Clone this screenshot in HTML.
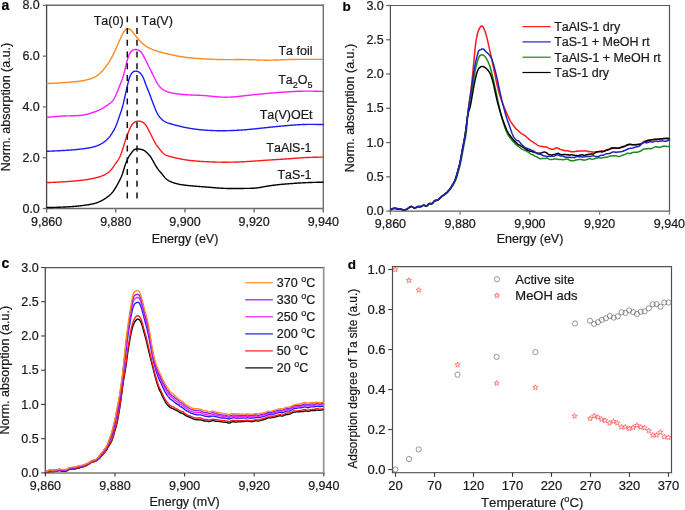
<!DOCTYPE html>
<html><head><meta charset="utf-8"><style>
html,body{margin:0;padding:0;background:#fff;}
svg{display:block;font-family:"Liberation Sans", sans-serif;will-change:transform;}
text{stroke:#1a1a1a;stroke-width:0.22px;font-kerning:none;}
</style></head><body>
<svg width="685" height="510" viewBox="0 0 685 510">
<rect width="685" height="510" fill="#fff"/>
<line x1="46.6" y1="5.3" x2="323.3" y2="5.3" stroke="#6a6a6a" stroke-width="1.4" stroke-linecap="square"/>
<line x1="46.6" y1="208.5" x2="323.3" y2="208.5" stroke="#6a6a6a" stroke-width="1.4" stroke-linecap="square"/>
<line x1="323.3" y1="5.3" x2="323.3" y2="208.5" stroke="#707070" stroke-width="1.4" stroke-linecap="square"/>
<line x1="46.6" y1="5.3" x2="46.6" y2="208.5" stroke="#444" stroke-width="1.3" stroke-linecap="square"/>
<line x1="42.8" y1="208.5" x2="46.6" y2="208.5" stroke="#707070" stroke-width="1.3"/>
<text x="39.8" y="212.5" font-size="12.5" text-anchor="end" font-weight="normal" fill="#1a1a1a" >0.0</text>
<line x1="42.8" y1="157.72" x2="46.6" y2="157.72" stroke="#707070" stroke-width="1.3"/>
<text x="39.8" y="161.72" font-size="12.5" text-anchor="end" font-weight="normal" fill="#1a1a1a" >2.0</text>
<line x1="42.8" y1="106.94" x2="46.6" y2="106.94" stroke="#707070" stroke-width="1.3"/>
<text x="39.8" y="110.94" font-size="12.5" text-anchor="end" font-weight="normal" fill="#1a1a1a" >4.0</text>
<line x1="42.8" y1="56.16" x2="46.6" y2="56.16" stroke="#707070" stroke-width="1.3"/>
<text x="39.8" y="60.16" font-size="12.5" text-anchor="end" font-weight="normal" fill="#1a1a1a" >6.0</text>
<line x1="42.8" y1="5.3799999999999955" x2="46.6" y2="5.3799999999999955" stroke="#707070" stroke-width="1.3"/>
<text x="39.8" y="9.379999999999995" font-size="12.5" text-anchor="end" font-weight="normal" fill="#1a1a1a" >8.0</text>
<line x1="46.6" y1="208.5" x2="46.6" y2="212.6" stroke="#757575" stroke-width="1.5"/>
<text x="46.6" y="225.8" font-size="12.5" text-anchor="middle" font-weight="normal" fill="#1a1a1a" >9,860</text>
<line x1="115.775" y1="208.5" x2="115.775" y2="212.6" stroke="#757575" stroke-width="1.5"/>
<text x="115.775" y="225.8" font-size="12.5" text-anchor="middle" font-weight="normal" fill="#1a1a1a" >9,880</text>
<line x1="184.95" y1="208.5" x2="184.95" y2="212.6" stroke="#757575" stroke-width="1.5"/>
<text x="184.95" y="225.8" font-size="12.5" text-anchor="middle" font-weight="normal" fill="#1a1a1a" >9,900</text>
<line x1="254.12499999999997" y1="208.5" x2="254.12499999999997" y2="212.6" stroke="#757575" stroke-width="1.5"/>
<text x="254.12499999999997" y="225.8" font-size="12.5" text-anchor="middle" font-weight="normal" fill="#1a1a1a" >9,920</text>
<line x1="323.3" y1="208.5" x2="323.3" y2="212.6" stroke="#757575" stroke-width="1.5"/>
<text x="323.3" y="225.8" font-size="12.5" text-anchor="middle" font-weight="normal" fill="#1a1a1a" >9,940</text>
<text x="185" y="243" font-size="12.5" text-anchor="middle" font-weight="normal" fill="#1a1a1a" >Energy (eV)</text>
<text transform="translate(9.8,107) rotate(-90)" font-size="12.5" text-anchor="middle" fill="#1a1a1a">Norm. absorption (a.u.)</text>
<text x="1.6" y="10.0" font-size="14" text-anchor="start" font-weight="bold" fill="#000" >a</text>
<path d="M46.50 83.60L47.00 83.57L47.50 83.55L48.00 83.52L48.50 83.49L49.00 83.47L49.50 83.44L50.00 83.41L50.50 83.38L51.00 83.36L51.50 83.33L52.00 83.30L52.50 83.27L53.00 83.25L53.50 83.22L54.00 83.19L54.50 83.16L55.00 83.13L55.50 83.11L56.00 83.08L56.50 83.05L57.00 83.02L57.50 82.99L58.00 82.96L58.50 82.93L59.00 82.90L59.50 82.87L60.00 82.84L60.50 82.81L61.00 82.78L61.50 82.74L62.00 82.71L62.50 82.68L63.00 82.65L63.50 82.61L64.00 82.58L64.50 82.55L65.00 82.51L65.50 82.48L66.00 82.44L66.50 82.41L67.00 82.37L67.50 82.33L68.00 82.30L68.50 82.26L69.00 82.22L69.50 82.18L70.00 82.14L70.50 82.10L71.00 82.06L71.50 82.02L72.00 81.98L72.50 81.93L73.00 81.89L73.50 81.84L74.00 81.79L74.50 81.74L75.00 81.69L75.50 81.64L76.00 81.59L76.50 81.53L77.00 81.48L77.50 81.42L78.00 81.36L78.50 81.30L79.00 81.23L79.50 81.17L80.00 81.10L80.50 81.03L81.00 80.96L81.50 80.89L82.00 80.81L82.50 80.73L83.00 80.65L83.50 80.56L84.00 80.47L84.50 80.37L85.00 80.27L85.50 80.17L86.00 80.06L86.50 79.94L87.00 79.82L87.50 79.69L88.00 79.56L88.50 79.42L89.00 79.27L89.50 79.12L90.00 78.96L90.50 78.79L91.00 78.61L91.50 78.42L92.00 78.23L92.50 78.03L93.00 77.81L93.50 77.59L94.00 77.36L94.50 77.11L95.00 76.85L95.50 76.58L96.00 76.29L96.50 75.99L97.00 75.67L97.50 75.33L98.00 74.97L98.50 74.59L99.00 74.18L99.50 73.76L100.00 73.31L100.50 72.84L101.00 72.35L101.50 71.84L102.00 71.31L102.50 70.76L103.00 70.19L103.50 69.61L104.00 69.00L104.50 68.38L105.00 67.75L105.50 67.10L106.00 66.44L106.50 65.76L107.00 65.06L107.50 64.34L108.00 63.61L108.50 62.85L109.00 62.07L109.50 61.27L110.00 60.43L110.50 59.58L111.00 58.69L111.50 57.77L112.00 56.83L112.50 55.86L113.00 54.87L113.50 53.86L114.00 52.83L114.50 51.78L115.00 50.72L115.50 49.64L116.00 48.54L116.50 47.44L117.00 46.33L117.50 45.21L118.00 44.08L118.50 42.95L119.00 41.83L119.50 40.70L120.00 39.58L120.50 38.47L121.00 37.36L121.50 36.27L122.00 35.21L122.50 34.19L123.00 33.23L123.50 32.34L124.00 31.53L124.50 30.83L125.00 30.23L125.50 29.75L126.00 29.37L126.50 29.09L127.00 28.90L127.50 28.80L128.00 28.77L128.50 28.82L129.00 28.95L129.50 29.14L130.00 29.41L130.50 29.74L131.00 30.14L131.50 30.60L132.00 31.12L132.50 31.70L133.00 32.32L133.50 32.98L134.00 33.65L134.50 34.34L135.00 35.02L135.50 35.70L136.00 36.36L136.50 37.00L137.00 37.62L137.50 38.22L138.00 38.81L138.50 39.38L139.00 39.93L139.50 40.47L140.00 40.99L140.50 41.51L141.00 42.00L141.50 42.49L142.00 42.96L142.50 43.42L143.00 43.86L143.50 44.29L144.00 44.70L144.50 45.10L145.00 45.47L145.50 45.84L146.00 46.18L146.50 46.51L147.00 46.83L147.50 47.13L148.00 47.42L148.50 47.69L149.00 47.96L149.50 48.21L150.00 48.45L150.50 48.69L151.00 48.91L151.50 49.13L152.00 49.34L152.50 49.54L153.00 49.74L153.50 49.93L154.00 50.11L154.50 50.29L155.00 50.46L155.50 50.63L156.00 50.79L156.50 50.95L157.00 51.11L157.50 51.26L158.00 51.41L158.50 51.55L159.00 51.70L159.50 51.84L160.00 51.98L160.50 52.12L161.00 52.26L161.50 52.40L162.00 52.54L162.50 52.67L163.00 52.80L163.50 52.93L164.00 53.06L164.50 53.19L165.00 53.31L165.50 53.44L166.00 53.56L166.50 53.68L167.00 53.80L167.50 53.92L168.00 54.04L168.50 54.16L169.00 54.27L169.50 54.39L170.00 54.50L170.50 54.61L171.00 54.72L171.50 54.83L172.00 54.94L172.50 55.05L173.00 55.15L173.50 55.26L174.00 55.36L174.50 55.46L175.00 55.56L175.50 55.66L176.00 55.76L176.50 55.85L177.00 55.95L177.50 56.04L178.00 56.13L178.50 56.22L179.00 56.31L179.50 56.39L180.00 56.48L180.50 56.56L181.00 56.65L181.50 56.73L182.00 56.80L182.50 56.88L183.00 56.96L183.50 57.03L184.00 57.10L184.50 57.17L185.00 57.24L185.50 57.30L186.00 57.37L186.50 57.43L187.00 57.49L187.50 57.55L188.00 57.61L188.50 57.67L189.00 57.72L189.50 57.78L190.00 57.83L190.50 57.88L191.00 57.93L191.50 57.98L192.00 58.02L192.50 58.07L193.00 58.11L193.50 58.16L194.00 58.20L194.50 58.24L195.00 58.28L195.50 58.32L196.00 58.36L196.50 58.40L197.00 58.43L197.50 58.47L198.00 58.50L198.50 58.54L199.00 58.57L199.50 58.60L200.00 58.63L200.50 58.66L201.00 58.70L201.50 58.73L202.00 58.75L202.50 58.78L203.00 58.81L203.50 58.84L204.00 58.87L204.50 58.89L205.00 58.92L205.50 58.95L206.00 58.97L206.50 59.00L207.00 59.03L207.50 59.05L208.00 59.08L208.50 59.10L209.00 59.12L209.50 59.15L210.00 59.17L210.50 59.19L211.00 59.22L211.50 59.24L212.00 59.26L212.50 59.28L213.00 59.30L213.50 59.32L214.00 59.34L214.50 59.36L215.00 59.37L215.50 59.39L216.00 59.41L216.50 59.42L217.00 59.44L217.50 59.46L218.00 59.47L218.50 59.48L219.00 59.50L219.50 59.51L220.00 59.52L220.50 59.53L221.00 59.54L221.50 59.55L222.00 59.56L222.50 59.57L223.00 59.58L223.50 59.58L224.00 59.59L224.50 59.59L225.00 59.60L225.50 59.60L226.00 59.60L226.50 59.61L227.00 59.61L227.50 59.61L228.00 59.61L228.50 59.61L229.00 59.61L229.50 59.61L230.00 59.60L230.50 59.60L231.00 59.60L231.50 59.60L232.00 59.59L232.50 59.59L233.00 59.59L233.50 59.58L234.00 59.58L234.50 59.58L235.00 59.57L235.50 59.57L236.00 59.57L236.50 59.56L237.00 59.56L237.50 59.56L238.00 59.55L238.50 59.55L239.00 59.55L239.50 59.55L240.00 59.55L240.50 59.55L241.00 59.55L241.50 59.55L242.00 59.55L242.50 59.56L243.00 59.56L243.50 59.57L244.00 59.57L244.50 59.58L245.00 59.59L245.50 59.59L246.00 59.60L246.50 59.61L247.00 59.63L247.50 59.64L248.00 59.65L248.50 59.67L249.00 59.68L249.50 59.70L250.00 59.71L250.50 59.73L251.00 59.75L251.50 59.77L252.00 59.79L252.50 59.80L253.00 59.82L253.50 59.84L254.00 59.86L254.50 59.88L255.00 59.90L255.50 59.92L256.00 59.94L256.50 59.96L257.00 59.98L257.50 60.00L258.00 60.01L258.50 60.03L259.00 60.05L259.50 60.07L260.00 60.08L260.50 60.10L261.00 60.11L261.50 60.12L262.00 60.14L262.50 60.15L263.00 60.16L263.50 60.17L264.00 60.18L264.50 60.18L265.00 60.19L265.50 60.20L266.00 60.20L266.50 60.20L267.00 60.20L267.50 60.20L268.00 60.20L268.50 60.19L269.00 60.19L269.50 60.18L270.00 60.17L270.50 60.16L271.00 60.15L271.50 60.14L272.00 60.13L272.50 60.12L273.00 60.10L273.50 60.09L274.00 60.07L274.50 60.06L275.00 60.04L275.50 60.02L276.00 60.01L276.50 59.99L277.00 59.97L277.50 59.95L278.00 59.93L278.50 59.91L279.00 59.89L279.50 59.87L280.00 59.85L280.50 59.83L281.00 59.81L281.50 59.79L282.00 59.77L282.50 59.75L283.00 59.73L283.50 59.72L284.00 59.70L284.50 59.68L285.00 59.66L285.50 59.64L286.00 59.63L286.50 59.61L287.00 59.60L287.50 59.58L288.00 59.57L288.50 59.56L289.00 59.54L289.50 59.53L290.00 59.52L290.50 59.51L291.00 59.50L291.50 59.49L292.00 59.48L292.50 59.47L293.00 59.47L293.50 59.46L294.00 59.45L294.50 59.45L295.00 59.44L295.50 59.44L296.00 59.43L296.50 59.43L297.00 59.42L297.50 59.42L298.00 59.42L298.50 59.41L299.00 59.41L299.50 59.41L300.00 59.41L300.50 59.41L301.00 59.40L301.50 59.40L302.00 59.40L302.50 59.40L303.00 59.40L303.50 59.40L304.00 59.40L304.50 59.40L305.00 59.40L305.50 59.40L306.00 59.40L306.50 59.40L307.00 59.40L307.50 59.40L308.00 59.40L308.50 59.40L309.00 59.40L309.50 59.40L310.00 59.40L310.50 59.40L311.00 59.40L311.50 59.40L312.00 59.40L312.50 59.40L313.00 59.40L313.50 59.40L314.00 59.40L314.50 59.40L315.00 59.40L315.50 59.40L316.00 59.40L316.50 59.40L317.00 59.40L317.50 59.40L318.00 59.40L318.50 59.40L319.00 59.40L319.50 59.40L320.00 59.40L320.50 59.40L321.00 59.40L321.50 59.40L322.00 59.40L322.50 59.40L323.00 59.40L323.50 59.40" fill="none" stroke="#ff8a1c" stroke-width="1.4" stroke-linejoin="round"/>
<path d="M46.50 117.40L47.00 117.35L47.50 117.30L48.00 117.25L48.50 117.21L49.00 117.16L49.50 117.11L50.00 117.06L50.50 117.01L51.00 116.97L51.50 116.92L52.00 116.87L52.50 116.83L53.00 116.78L53.50 116.74L54.00 116.69L54.50 116.65L55.00 116.61L55.50 116.57L56.00 116.52L56.50 116.48L57.00 116.44L57.50 116.40L58.00 116.37L58.50 116.33L59.00 116.29L59.50 116.26L60.00 116.22L60.50 116.19L61.00 116.16L61.50 116.13L62.00 116.10L62.50 116.07L63.00 116.05L63.50 116.02L64.00 116.00L64.50 115.98L65.00 115.96L65.50 115.94L66.00 115.92L66.50 115.90L67.00 115.89L67.50 115.88L68.00 115.86L68.50 115.85L69.00 115.84L69.50 115.84L70.00 115.83L70.50 115.82L71.00 115.81L71.50 115.80L72.00 115.79L72.50 115.78L73.00 115.77L73.50 115.76L74.00 115.75L74.50 115.74L75.00 115.72L75.50 115.70L76.00 115.68L76.50 115.66L77.00 115.63L77.50 115.61L78.00 115.58L78.50 115.54L79.00 115.50L79.50 115.46L80.00 115.42L80.50 115.37L81.00 115.31L81.50 115.25L82.00 115.19L82.50 115.12L83.00 115.05L83.50 114.97L84.00 114.89L84.50 114.80L85.00 114.70L85.50 114.60L86.00 114.49L86.50 114.37L87.00 114.25L87.50 114.13L88.00 114.00L88.50 113.86L89.00 113.72L89.50 113.57L90.00 113.42L90.50 113.27L91.00 113.11L91.50 112.95L92.00 112.78L92.50 112.62L93.00 112.44L93.50 112.27L94.00 112.09L94.50 111.91L95.00 111.73L95.50 111.54L96.00 111.35L96.50 111.16L97.00 110.96L97.50 110.76L98.00 110.56L98.50 110.34L99.00 110.13L99.50 109.90L100.00 109.67L100.50 109.42L101.00 109.17L101.50 108.91L102.00 108.64L102.50 108.36L103.00 108.06L103.50 107.76L104.00 107.45L104.50 107.13L105.00 106.80L105.50 106.46L106.00 106.13L106.50 105.78L107.00 105.44L107.50 105.09L108.00 104.75L108.50 104.40L109.00 104.05L109.50 103.70L110.00 103.34L110.50 102.94L111.00 102.52L111.50 102.05L112.00 101.54L112.50 100.96L113.00 100.32L113.50 99.60L114.00 98.80L114.50 97.92L115.00 96.96L115.50 95.94L116.00 94.87L116.50 93.74L117.00 92.57L117.50 91.35L118.00 90.11L118.50 88.85L119.00 87.56L119.50 86.27L120.00 84.98L120.50 83.70L121.00 82.43L121.50 81.14L122.00 79.81L122.50 78.41L123.00 76.91L123.50 75.28L124.00 73.50L124.50 71.55L125.00 69.48L125.50 67.36L126.00 65.24L126.50 63.20L127.00 61.28L127.50 59.50L128.00 57.88L128.50 56.43L129.00 55.16L129.50 54.07L130.00 53.15L130.50 52.37L131.00 51.72L131.50 51.17L132.00 50.73L132.50 50.37L133.00 50.08L133.50 49.86L134.00 49.69L134.50 49.57L135.00 49.50L135.50 49.46L136.00 49.47L136.50 49.51L137.00 49.58L137.50 49.69L138.00 49.85L138.50 50.05L139.00 50.31L139.50 50.64L140.00 51.03L140.50 51.49L141.00 52.03L141.50 52.66L142.00 53.39L142.50 54.19L143.00 55.05L143.50 55.96L144.00 56.90L144.50 57.85L145.00 58.81L145.50 59.79L146.00 60.79L146.50 61.81L147.00 62.85L147.50 63.90L148.00 64.95L148.50 65.99L149.00 67.00L149.50 67.99L150.00 68.96L150.50 69.93L151.00 70.90L151.50 71.90L152.00 72.91L152.50 73.93L153.00 74.97L153.50 76.00L154.00 77.03L154.50 78.05L155.00 79.06L155.50 80.04L156.00 80.99L156.50 81.90L157.00 82.78L157.50 83.60L158.00 84.37L158.50 85.09L159.00 85.75L159.50 86.37L160.00 86.94L160.50 87.47L161.00 87.96L161.50 88.42L162.00 88.84L162.50 89.23L163.00 89.59L163.50 89.92L164.00 90.23L164.50 90.51L165.00 90.77L165.50 91.01L166.00 91.23L166.50 91.43L167.00 91.62L167.50 91.79L168.00 91.95L168.50 92.10L169.00 92.24L169.50 92.37L170.00 92.50L170.50 92.62L171.00 92.74L171.50 92.85L172.00 92.96L172.50 93.07L173.00 93.17L173.50 93.27L174.00 93.36L174.50 93.45L175.00 93.54L175.50 93.62L176.00 93.70L176.50 93.78L177.00 93.85L177.50 93.92L178.00 93.99L178.50 94.05L179.00 94.12L179.50 94.18L180.00 94.23L180.50 94.29L181.00 94.34L181.50 94.39L182.00 94.43L182.50 94.48L183.00 94.52L183.50 94.56L184.00 94.60L184.50 94.64L185.00 94.67L185.50 94.70L186.00 94.74L186.50 94.77L187.00 94.79L187.50 94.82L188.00 94.85L188.50 94.87L189.00 94.90L189.50 94.92L190.00 94.94L190.50 94.96L191.00 94.98L191.50 95.00L192.00 95.02L192.50 95.04L193.00 95.06L193.50 95.08L194.00 95.09L194.50 95.11L195.00 95.13L195.50 95.15L196.00 95.17L196.50 95.18L197.00 95.20L197.50 95.22L198.00 95.24L198.50 95.26L199.00 95.28L199.50 95.31L200.00 95.33L200.50 95.35L201.00 95.38L201.50 95.40L202.00 95.43L202.50 95.46L203.00 95.49L203.50 95.52L204.00 95.56L204.50 95.59L205.00 95.63L205.50 95.67L206.00 95.71L206.50 95.75L207.00 95.79L207.50 95.84L208.00 95.89L208.50 95.93L209.00 95.98L209.50 96.03L210.00 96.08L210.50 96.13L211.00 96.18L211.50 96.23L212.00 96.28L212.50 96.33L213.00 96.38L213.50 96.43L214.00 96.47L214.50 96.52L215.00 96.57L215.50 96.62L216.00 96.67L216.50 96.71L217.00 96.75L217.50 96.80L218.00 96.84L218.50 96.88L219.00 96.92L219.50 96.95L220.00 96.99L220.50 97.02L221.00 97.05L221.50 97.08L222.00 97.10L222.50 97.13L223.00 97.15L223.50 97.16L224.00 97.18L224.50 97.19L225.00 97.20L225.50 97.20L226.00 97.20L226.50 97.20L227.00 97.20L227.50 97.19L228.00 97.18L228.50 97.17L229.00 97.15L229.50 97.13L230.00 97.11L230.50 97.08L231.00 97.06L231.50 97.03L232.00 97.00L232.50 96.96L233.00 96.93L233.50 96.89L234.00 96.85L234.50 96.81L235.00 96.77L235.50 96.72L236.00 96.68L236.50 96.63L237.00 96.58L237.50 96.53L238.00 96.48L238.50 96.43L239.00 96.37L239.50 96.32L240.00 96.26L240.50 96.21L241.00 96.15L241.50 96.10L242.00 96.04L242.50 95.98L243.00 95.92L243.50 95.87L244.00 95.81L244.50 95.75L245.00 95.69L245.50 95.63L246.00 95.58L246.50 95.52L247.00 95.46L247.50 95.41L248.00 95.35L248.50 95.29L249.00 95.24L249.50 95.18L250.00 95.13L250.50 95.08L251.00 95.02L251.50 94.97L252.00 94.91L252.50 94.86L253.00 94.81L253.50 94.75L254.00 94.70L254.50 94.65L255.00 94.60L255.50 94.55L256.00 94.50L256.50 94.45L257.00 94.40L257.50 94.35L258.00 94.30L258.50 94.25L259.00 94.20L259.50 94.15L260.00 94.10L260.50 94.05L261.00 94.00L261.50 93.95L262.00 93.91L262.50 93.86L263.00 93.81L263.50 93.77L264.00 93.72L264.50 93.67L265.00 93.63L265.50 93.58L266.00 93.54L266.50 93.49L267.00 93.45L267.50 93.40L268.00 93.36L268.50 93.31L269.00 93.27L269.50 93.23L270.00 93.18L270.50 93.14L271.00 93.10L271.50 93.05L272.00 93.01L272.50 92.97L273.00 92.93L273.50 92.89L274.00 92.85L274.50 92.81L275.00 92.77L275.50 92.73L276.00 92.69L276.50 92.65L277.00 92.61L277.50 92.57L278.00 92.53L278.50 92.49L279.00 92.46L279.50 92.42L280.00 92.38L280.50 92.34L281.00 92.31L281.50 92.27L282.00 92.23L282.50 92.20L283.00 92.16L283.50 92.13L284.00 92.09L284.50 92.06L285.00 92.03L285.50 91.99L286.00 91.96L286.50 91.93L287.00 91.89L287.50 91.86L288.00 91.83L288.50 91.80L289.00 91.77L289.50 91.74L290.00 91.71L290.50 91.68L291.00 91.65L291.50 91.62L292.00 91.59L292.50 91.56L293.00 91.54L293.50 91.51L294.00 91.48L294.50 91.46L295.00 91.43L295.50 91.41L296.00 91.39L296.50 91.36L297.00 91.34L297.50 91.32L298.00 91.30L298.50 91.28L299.00 91.26L299.50 91.25L300.00 91.23L300.50 91.21L301.00 91.20L301.50 91.19L302.00 91.17L302.50 91.16L303.00 91.15L303.50 91.14L304.00 91.13L304.50 91.12L305.00 91.12L305.50 91.11L306.00 91.11L306.50 91.10L307.00 91.10L307.50 91.10L308.00 91.10L308.50 91.10L309.00 91.10L309.50 91.11L310.00 91.11L310.50 91.12L311.00 91.12L311.50 91.13L312.00 91.14L312.50 91.15L313.00 91.16L313.50 91.17L314.00 91.18L314.50 91.20L315.00 91.21L315.50 91.22L316.00 91.24L316.50 91.25L317.00 91.27L317.50 91.28L318.00 91.30L318.50 91.32L319.00 91.33L319.50 91.35L320.00 91.37L320.50 91.39L321.00 91.41L321.50 91.42L322.00 91.44L322.50 91.46L323.00 91.48L323.50 91.50" fill="none" stroke="#ff1aff" stroke-width="1.4" stroke-linejoin="round"/>
<path d="M46.50 151.30L47.00 151.28L47.50 151.26L48.00 151.24L48.50 151.21L49.00 151.19L49.50 151.17L50.00 151.15L50.50 151.13L51.00 151.10L51.50 151.08L52.00 151.06L52.50 151.04L53.00 151.02L53.50 150.99L54.00 150.97L54.50 150.95L55.00 150.92L55.50 150.90L56.00 150.88L56.50 150.85L57.00 150.83L57.50 150.80L58.00 150.78L58.50 150.75L59.00 150.73L59.50 150.70L60.00 150.68L60.50 150.65L61.00 150.62L61.50 150.60L62.00 150.57L62.50 150.54L63.00 150.51L63.50 150.49L64.00 150.46L64.50 150.43L65.00 150.40L65.50 150.37L66.00 150.34L66.50 150.31L67.00 150.27L67.50 150.24L68.00 150.21L68.50 150.18L69.00 150.14L69.50 150.11L70.00 150.07L70.50 150.04L71.00 150.00L71.50 149.96L72.00 149.92L72.50 149.88L73.00 149.84L73.50 149.80L74.00 149.76L74.50 149.72L75.00 149.67L75.50 149.63L76.00 149.58L76.50 149.54L77.00 149.49L77.50 149.44L78.00 149.39L78.50 149.34L79.00 149.28L79.50 149.23L80.00 149.17L80.50 149.11L81.00 149.06L81.50 149.00L82.00 148.93L82.50 148.87L83.00 148.81L83.50 148.74L84.00 148.67L84.50 148.60L85.00 148.53L85.50 148.46L86.00 148.39L86.50 148.31L87.00 148.23L87.50 148.15L88.00 148.07L88.50 147.99L89.00 147.90L89.50 147.81L90.00 147.71L90.50 147.62L91.00 147.51L91.50 147.41L92.00 147.30L92.50 147.18L93.00 147.06L93.50 146.93L94.00 146.79L94.50 146.65L95.00 146.50L95.50 146.34L96.00 146.17L96.50 146.00L97.00 145.81L97.50 145.62L98.00 145.42L98.50 145.21L99.00 144.99L99.50 144.75L100.00 144.51L100.50 144.25L101.00 143.98L101.50 143.70L102.00 143.40L102.50 143.09L103.00 142.77L103.50 142.42L104.00 142.06L104.50 141.68L105.00 141.29L105.50 140.87L106.00 140.43L106.50 139.98L107.00 139.50L107.50 139.00L108.00 138.47L108.50 137.92L109.00 137.35L109.50 136.75L110.00 136.12L110.50 135.46L111.00 134.76L111.50 134.04L112.00 133.28L112.50 132.49L113.00 131.66L113.50 130.80L114.00 129.90L114.50 128.94L115.00 127.94L115.50 126.87L116.00 125.72L116.50 124.50L117.00 123.19L117.50 121.82L118.00 120.39L118.50 118.93L119.00 117.46L119.50 116.00L120.00 114.56L120.50 113.11L121.00 111.64L121.50 110.10L122.00 108.48L122.50 106.74L123.00 104.85L123.50 102.83L124.00 100.70L124.50 98.49L125.00 96.25L125.50 94.00L126.00 91.76L126.50 89.53L127.00 87.33L127.50 85.17L128.00 83.08L128.50 81.10L129.00 79.30L129.50 77.73L130.00 76.38L130.50 75.24L131.00 74.29L131.50 73.51L132.00 72.88L132.50 72.38L133.00 71.99L133.50 71.70L134.00 71.47L134.50 71.31L135.00 71.21L135.50 71.16L136.00 71.16L136.50 71.21L137.00 71.31L137.50 71.45L138.00 71.64L138.50 71.88L139.00 72.17L139.50 72.51L140.00 72.91L140.50 73.39L141.00 73.94L141.50 74.60L142.00 75.37L142.50 76.24L143.00 77.23L143.50 78.33L144.00 79.55L144.50 80.87L145.00 82.26L145.50 83.67L146.00 85.06L146.50 86.39L147.00 87.66L147.50 88.88L148.00 90.08L148.50 91.28L149.00 92.50L149.50 93.76L150.00 95.07L150.50 96.42L151.00 97.79L151.50 99.16L152.00 100.51L152.50 101.84L153.00 103.16L153.50 104.46L154.00 105.74L154.50 107.02L155.00 108.27L155.50 109.49L156.00 110.67L156.50 111.79L157.00 112.84L157.50 113.80L158.00 114.67L158.50 115.46L159.00 116.18L159.50 116.83L160.00 117.44L160.50 118.00L161.00 118.53L161.50 119.04L162.00 119.51L162.50 119.96L163.00 120.37L163.50 120.76L164.00 121.11L164.50 121.42L165.00 121.71L165.50 121.98L166.00 122.22L166.50 122.44L167.00 122.64L167.50 122.82L168.00 123.00L168.50 123.16L169.00 123.31L169.50 123.46L170.00 123.60L170.50 123.74L171.00 123.89L171.50 124.03L172.00 124.17L172.50 124.31L173.00 124.45L173.50 124.59L174.00 124.72L174.50 124.86L175.00 125.00L175.50 125.13L176.00 125.26L176.50 125.40L177.00 125.53L177.50 125.66L178.00 125.78L178.50 125.91L179.00 126.04L179.50 126.16L180.00 126.28L180.50 126.40L181.00 126.52L181.50 126.64L182.00 126.76L182.50 126.87L183.00 126.98L183.50 127.09L184.00 127.20L184.50 127.31L185.00 127.41L185.50 127.51L186.00 127.61L186.50 127.71L187.00 127.81L187.50 127.90L188.00 127.99L188.50 128.08L189.00 128.17L189.50 128.26L190.00 128.34L190.50 128.43L191.00 128.51L191.50 128.59L192.00 128.67L192.50 128.74L193.00 128.82L193.50 128.89L194.00 128.96L194.50 129.03L195.00 129.10L195.50 129.16L196.00 129.23L196.50 129.29L197.00 129.35L197.50 129.41L198.00 129.47L198.50 129.53L199.00 129.58L199.50 129.64L200.00 129.69L200.50 129.74L201.00 129.79L201.50 129.84L202.00 129.88L202.50 129.93L203.00 129.97L203.50 130.01L204.00 130.05L204.50 130.09L205.00 130.13L205.50 130.17L206.00 130.20L206.50 130.24L207.00 130.27L207.50 130.30L208.00 130.33L208.50 130.36L209.00 130.39L209.50 130.42L210.00 130.44L210.50 130.47L211.00 130.49L211.50 130.51L212.00 130.53L212.50 130.55L213.00 130.57L213.50 130.59L214.00 130.61L214.50 130.62L215.00 130.64L215.50 130.65L216.00 130.66L216.50 130.67L217.00 130.68L217.50 130.69L218.00 130.70L218.50 130.70L219.00 130.71L219.50 130.71L220.00 130.72L220.50 130.72L221.00 130.72L221.50 130.72L222.00 130.72L222.50 130.72L223.00 130.72L223.50 130.72L224.00 130.71L224.50 130.71L225.00 130.70L225.50 130.70L226.00 130.69L226.50 130.68L227.00 130.67L227.50 130.66L228.00 130.65L228.50 130.64L229.00 130.62L229.50 130.61L230.00 130.60L230.50 130.58L231.00 130.56L231.50 130.55L232.00 130.53L232.50 130.51L233.00 130.49L233.50 130.47L234.00 130.45L234.50 130.43L235.00 130.40L235.50 130.38L236.00 130.35L236.50 130.33L237.00 130.30L237.50 130.27L238.00 130.25L238.50 130.22L239.00 130.19L239.50 130.16L240.00 130.13L240.50 130.09L241.00 130.06L241.50 130.03L242.00 129.99L242.50 129.96L243.00 129.92L243.50 129.88L244.00 129.84L244.50 129.80L245.00 129.77L245.50 129.72L246.00 129.68L246.50 129.64L247.00 129.60L247.50 129.55L248.00 129.51L248.50 129.47L249.00 129.42L249.50 129.37L250.00 129.33L250.50 129.28L251.00 129.23L251.50 129.18L252.00 129.13L252.50 129.08L253.00 129.03L253.50 128.98L254.00 128.93L254.50 128.88L255.00 128.83L255.50 128.78L256.00 128.72L256.50 128.67L257.00 128.62L257.50 128.57L258.00 128.51L258.50 128.46L259.00 128.40L259.50 128.35L260.00 128.30L260.50 128.24L261.00 128.19L261.50 128.13L262.00 128.08L262.50 128.02L263.00 127.97L263.50 127.91L264.00 127.86L264.50 127.81L265.00 127.75L265.50 127.70L266.00 127.64L266.50 127.59L267.00 127.54L267.50 127.48L268.00 127.43L268.50 127.38L269.00 127.32L269.50 127.27L270.00 127.22L270.50 127.17L271.00 127.11L271.50 127.06L272.00 127.01L272.50 126.96L273.00 126.91L273.50 126.86L274.00 126.81L274.50 126.76L275.00 126.71L275.50 126.66L276.00 126.61L276.50 126.56L277.00 126.51L277.50 126.46L278.00 126.41L278.50 126.37L279.00 126.32L279.50 126.27L280.00 126.22L280.50 126.18L281.00 126.13L281.50 126.08L282.00 126.04L282.50 125.99L283.00 125.94L283.50 125.90L284.00 125.85L284.50 125.81L285.00 125.77L285.50 125.72L286.00 125.68L286.50 125.63L287.00 125.59L287.50 125.55L288.00 125.51L288.50 125.46L289.00 125.42L289.50 125.38L290.00 125.34L290.50 125.30L291.00 125.26L291.50 125.22L292.00 125.18L292.50 125.15L293.00 125.11L293.50 125.07L294.00 125.04L294.50 125.00L295.00 124.96L295.50 124.93L296.00 124.90L296.50 124.87L297.00 124.83L297.50 124.80L298.00 124.77L298.50 124.74L299.00 124.72L299.50 124.69L300.00 124.66L300.50 124.64L301.00 124.61L301.50 124.59L302.00 124.57L302.50 124.55L303.00 124.53L303.50 124.51L304.00 124.49L304.50 124.47L305.00 124.46L305.50 124.44L306.00 124.43L306.50 124.42L307.00 124.41L307.50 124.40L308.00 124.39L308.50 124.39L309.00 124.38L309.50 124.38L310.00 124.37L310.50 124.37L311.00 124.37L311.50 124.37L312.00 124.38L312.50 124.38L313.00 124.38L313.50 124.39L314.00 124.39L314.50 124.40L315.00 124.41L315.50 124.41L316.00 124.42L316.50 124.43L317.00 124.44L317.50 124.45L318.00 124.46L318.50 124.47L319.00 124.48L319.50 124.50L320.00 124.51L320.50 124.52L321.00 124.53L321.50 124.55L322.00 124.56L322.50 124.57L323.00 124.59L323.50 124.60" fill="none" stroke="#1a1aff" stroke-width="1.4" stroke-linejoin="round"/>
<path d="M46.50 182.60L47.00 182.58L47.50 182.56L48.00 182.54L48.50 182.51L49.00 182.49L49.50 182.47L50.00 182.45L50.50 182.43L51.00 182.40L51.50 182.38L52.00 182.36L52.50 182.34L53.00 182.32L53.50 182.29L54.00 182.27L54.50 182.25L55.00 182.22L55.50 182.20L56.00 182.18L56.50 182.15L57.00 182.13L57.50 182.10L58.00 182.08L58.50 182.05L59.00 182.03L59.50 182.00L60.00 181.98L60.50 181.95L61.00 181.93L61.50 181.90L62.00 181.87L62.50 181.84L63.00 181.82L63.50 181.79L64.00 181.76L64.50 181.73L65.00 181.70L65.50 181.67L66.00 181.64L66.50 181.61L67.00 181.57L67.50 181.54L68.00 181.51L68.50 181.48L69.00 181.44L69.50 181.41L70.00 181.37L70.50 181.34L71.00 181.30L71.50 181.26L72.00 181.22L72.50 181.18L73.00 181.14L73.50 181.10L74.00 181.06L74.50 181.02L75.00 180.97L75.50 180.93L76.00 180.88L76.50 180.84L77.00 180.79L77.50 180.74L78.00 180.69L78.50 180.63L79.00 180.58L79.50 180.53L80.00 180.47L80.50 180.41L81.00 180.36L81.50 180.30L82.00 180.23L82.50 180.17L83.00 180.11L83.50 180.04L84.00 179.97L84.50 179.90L85.00 179.83L85.50 179.76L86.00 179.69L86.50 179.61L87.00 179.53L87.50 179.45L88.00 179.37L88.50 179.29L89.00 179.20L89.50 179.11L90.00 179.02L90.50 178.93L91.00 178.84L91.50 178.74L92.00 178.64L92.50 178.54L93.00 178.44L93.50 178.33L94.00 178.23L94.50 178.11L95.00 178.00L95.50 177.88L96.00 177.76L96.50 177.64L97.00 177.51L97.50 177.38L98.00 177.24L98.50 177.10L99.00 176.95L99.50 176.80L100.00 176.63L100.50 176.47L101.00 176.29L101.50 176.11L102.00 175.91L102.50 175.71L103.00 175.50L103.50 175.28L104.00 175.05L104.50 174.81L105.00 174.55L105.50 174.28L106.00 174.00L106.50 173.70L107.00 173.38L107.50 173.03L108.00 172.67L108.50 172.28L109.00 171.86L109.50 171.42L110.00 170.94L110.50 170.43L111.00 169.89L111.50 169.31L112.00 168.70L112.50 168.05L113.00 167.36L113.50 166.65L114.00 165.93L114.50 165.19L115.00 164.45L115.50 163.72L116.00 163.00L116.50 162.29L117.00 161.59L117.50 160.87L118.00 160.12L118.50 159.32L119.00 158.45L119.50 157.50L120.00 156.45L120.50 155.30L121.00 154.05L121.50 152.71L122.00 151.28L122.50 149.77L123.00 148.17L123.50 146.51L124.00 144.81L124.50 143.12L125.00 141.47L125.50 139.90L126.00 138.44L126.50 137.07L127.00 135.76L127.50 134.50L128.00 133.25L128.50 132.00L129.00 130.75L129.50 129.53L130.00 128.37L130.50 127.30L131.00 126.34L131.50 125.50L132.00 124.76L132.50 124.12L133.00 123.57L133.50 123.09L134.00 122.68L134.50 122.32L135.00 122.00L135.50 121.74L136.00 121.53L136.50 121.36L137.00 121.23L137.50 121.14L138.00 121.10L138.50 121.09L139.00 121.13L139.50 121.19L140.00 121.29L140.50 121.41L141.00 121.57L141.50 121.74L142.00 121.94L142.50 122.16L143.00 122.42L143.50 122.72L144.00 123.08L144.50 123.52L145.00 124.04L145.50 124.66L146.00 125.38L146.50 126.17L147.00 127.04L147.50 127.95L148.00 128.89L148.50 129.85L149.00 130.82L149.50 131.81L150.00 132.80L150.50 133.80L151.00 134.80L151.50 135.81L152.00 136.81L152.50 137.81L153.00 138.80L153.50 139.79L154.00 140.75L154.50 141.70L155.00 142.60L155.50 143.47L156.00 144.28L156.50 145.04L157.00 145.76L157.50 146.45L158.00 147.11L158.50 147.75L159.00 148.37L159.50 149.00L160.00 149.62L160.50 150.23L161.00 150.83L161.50 151.40L162.00 151.96L162.50 152.48L163.00 152.97L163.50 153.43L164.00 153.84L164.50 154.21L165.00 154.55L165.50 154.84L166.00 155.11L166.50 155.35L167.00 155.56L167.50 155.75L168.00 155.92L168.50 156.08L169.00 156.23L169.50 156.37L170.00 156.50L170.50 156.63L171.00 156.76L171.50 156.89L172.00 157.02L172.50 157.15L173.00 157.27L173.50 157.40L174.00 157.52L174.50 157.64L175.00 157.76L175.50 157.88L176.00 157.99L176.50 158.11L177.00 158.22L177.50 158.33L178.00 158.44L178.50 158.55L179.00 158.66L179.50 158.76L180.00 158.86L180.50 158.96L181.00 159.06L181.50 159.15L182.00 159.25L182.50 159.34L183.00 159.43L183.50 159.52L184.00 159.60L184.50 159.68L185.00 159.76L185.50 159.84L186.00 159.92L186.50 159.99L187.00 160.06L187.50 160.13L188.00 160.20L188.50 160.26L189.00 160.33L189.50 160.39L190.00 160.45L190.50 160.51L191.00 160.56L191.50 160.62L192.00 160.67L192.50 160.72L193.00 160.77L193.50 160.82L194.00 160.87L194.50 160.91L195.00 160.96L195.50 161.00L196.00 161.04L196.50 161.08L197.00 161.12L197.50 161.16L198.00 161.20L198.50 161.23L199.00 161.27L199.50 161.30L200.00 161.33L200.50 161.36L201.00 161.40L201.50 161.43L202.00 161.46L202.50 161.48L203.00 161.51L203.50 161.54L204.00 161.57L204.50 161.59L205.00 161.62L205.50 161.65L206.00 161.67L206.50 161.70L207.00 161.72L207.50 161.74L208.00 161.77L208.50 161.79L209.00 161.81L209.50 161.83L210.00 161.86L210.50 161.88L211.00 161.90L211.50 161.92L212.00 161.94L212.50 161.95L213.00 161.97L213.50 161.99L214.00 162.01L214.50 162.02L215.00 162.04L215.50 162.05L216.00 162.07L216.50 162.08L217.00 162.09L217.50 162.10L218.00 162.11L218.50 162.13L219.00 162.14L219.50 162.14L220.00 162.15L220.50 162.16L221.00 162.17L221.50 162.18L222.00 162.18L222.50 162.19L223.00 162.19L223.50 162.19L224.00 162.20L224.50 162.20L225.00 162.20L225.50 162.20L226.00 162.20L226.50 162.20L227.00 162.20L227.50 162.19L228.00 162.19L228.50 162.19L229.00 162.18L229.50 162.17L230.00 162.17L230.50 162.16L231.00 162.15L231.50 162.14L232.00 162.13L232.50 162.12L233.00 162.11L233.50 162.10L234.00 162.09L234.50 162.08L235.00 162.06L235.50 162.05L236.00 162.03L236.50 162.02L237.00 162.00L237.50 161.98L238.00 161.96L238.50 161.95L239.00 161.93L239.50 161.91L240.00 161.89L240.50 161.86L241.00 161.84L241.50 161.82L242.00 161.80L242.50 161.77L243.00 161.75L243.50 161.72L244.00 161.70L244.50 161.67L245.00 161.64L245.50 161.62L246.00 161.59L246.50 161.56L247.00 161.53L247.50 161.50L248.00 161.47L248.50 161.44L249.00 161.41L249.50 161.38L250.00 161.34L250.50 161.31L251.00 161.28L251.50 161.25L252.00 161.21L252.50 161.18L253.00 161.14L253.50 161.11L254.00 161.08L254.50 161.04L255.00 161.01L255.50 160.97L256.00 160.93L256.50 160.90L257.00 160.86L257.50 160.83L258.00 160.79L258.50 160.76L259.00 160.72L259.50 160.68L260.00 160.65L260.50 160.61L261.00 160.58L261.50 160.54L262.00 160.50L262.50 160.47L263.00 160.43L263.50 160.40L264.00 160.36L264.50 160.33L265.00 160.29L265.50 160.26L266.00 160.23L266.50 160.19L267.00 160.16L267.50 160.13L268.00 160.09L268.50 160.06L269.00 160.03L269.50 160.00L270.00 159.97L270.50 159.94L271.00 159.90L271.50 159.87L272.00 159.84L272.50 159.81L273.00 159.78L273.50 159.75L274.00 159.72L274.50 159.69L275.00 159.66L275.50 159.63L276.00 159.60L276.50 159.57L277.00 159.54L277.50 159.51L278.00 159.48L278.50 159.45L279.00 159.41L279.50 159.38L280.00 159.35L280.50 159.32L281.00 159.29L281.50 159.26L282.00 159.23L282.50 159.19L283.00 159.16L283.50 159.13L284.00 159.10L284.50 159.06L285.00 159.03L285.50 159.00L286.00 158.96L286.50 158.93L287.00 158.89L287.50 158.86L288.00 158.82L288.50 158.79L289.00 158.75L289.50 158.71L290.00 158.68L290.50 158.64L291.00 158.60L291.50 158.56L292.00 158.53L292.50 158.49L293.00 158.45L293.50 158.41L294.00 158.38L294.50 158.34L295.00 158.30L295.50 158.26L296.00 158.23L296.50 158.19L297.00 158.15L297.50 158.12L298.00 158.08L298.50 158.04L299.00 158.01L299.50 157.97L300.00 157.94L300.50 157.91L301.00 157.87L301.50 157.84L302.00 157.81L302.50 157.78L303.00 157.74L303.50 157.71L304.00 157.68L304.50 157.66L305.00 157.63L305.50 157.60L306.00 157.57L306.50 157.55L307.00 157.52L307.50 157.50L308.00 157.48L308.50 157.46L309.00 157.43L309.50 157.42L310.00 157.40L310.50 157.38L311.00 157.36L311.50 157.34L312.00 157.33L312.50 157.31L313.00 157.30L313.50 157.29L314.00 157.27L314.50 157.26L315.00 157.25L315.50 157.24L316.00 157.23L316.50 157.21L317.00 157.20L317.50 157.20L318.00 157.19L318.50 157.18L319.00 157.17L319.50 157.16L320.00 157.15L320.50 157.14L321.00 157.14L321.50 157.13L322.00 157.12L322.50 157.11L323.00 157.11L323.50 157.10" fill="none" stroke="#ff1a1a" stroke-width="1.4" stroke-linejoin="round"/>
<path d="M46.50 207.60L47.00 207.59L47.50 207.57L48.00 207.56L48.50 207.55L49.00 207.54L49.50 207.52L50.00 207.51L50.50 207.50L51.00 207.49L51.50 207.47L52.00 207.46L52.50 207.44L53.00 207.43L53.50 207.42L54.00 207.40L54.50 207.39L55.00 207.37L55.50 207.36L56.00 207.34L56.50 207.33L57.00 207.31L57.50 207.29L58.00 207.28L58.50 207.26L59.00 207.24L59.50 207.22L60.00 207.20L60.50 207.18L61.00 207.16L61.50 207.14L62.00 207.12L62.50 207.10L63.00 207.08L63.50 207.06L64.00 207.03L64.50 207.01L65.00 206.98L65.50 206.96L66.00 206.93L66.50 206.91L67.00 206.88L67.50 206.85L68.00 206.82L68.50 206.79L69.00 206.76L69.50 206.73L70.00 206.70L70.50 206.66L71.00 206.63L71.50 206.59L72.00 206.56L72.50 206.52L73.00 206.48L73.50 206.45L74.00 206.41L74.50 206.36L75.00 206.32L75.50 206.28L76.00 206.23L76.50 206.19L77.00 206.14L77.50 206.09L78.00 206.05L78.50 206.00L79.00 205.94L79.50 205.89L80.00 205.84L80.50 205.78L81.00 205.72L81.50 205.67L82.00 205.61L82.50 205.55L83.00 205.48L83.50 205.42L84.00 205.35L84.50 205.29L85.00 205.22L85.50 205.15L86.00 205.08L86.50 205.01L87.00 204.93L87.50 204.85L88.00 204.78L88.50 204.70L89.00 204.61L89.50 204.53L90.00 204.44L90.50 204.35L91.00 204.25L91.50 204.15L92.00 204.04L92.50 203.93L93.00 203.82L93.50 203.70L94.00 203.57L94.50 203.44L95.00 203.30L95.50 203.16L96.00 203.00L96.50 202.84L97.00 202.67L97.50 202.50L98.00 202.31L98.50 202.12L99.00 201.92L99.50 201.70L100.00 201.48L100.50 201.25L101.00 201.01L101.50 200.75L102.00 200.49L102.50 200.21L103.00 199.92L103.50 199.63L104.00 199.32L104.50 199.00L105.00 198.67L105.50 198.33L106.00 197.99L106.50 197.63L107.00 197.26L107.50 196.89L108.00 196.50L108.50 196.11L109.00 195.70L109.50 195.28L110.00 194.84L110.50 194.37L111.00 193.89L111.50 193.37L112.00 192.82L112.50 192.24L113.00 191.62L113.50 190.96L114.00 190.26L114.50 189.50L115.00 188.71L115.50 187.89L116.00 187.03L116.50 186.15L117.00 185.25L117.50 184.34L118.00 183.42L118.50 182.50L119.00 181.58L119.50 180.64L120.00 179.67L120.50 178.65L121.00 177.55L121.50 176.36L122.00 175.06L122.50 173.63L123.00 172.08L123.50 170.47L124.00 168.82L124.50 167.19L125.00 165.61L125.50 164.12L126.00 162.74L126.50 161.46L127.00 160.28L127.50 159.19L128.00 158.19L128.50 157.27L129.00 156.42L129.50 155.62L130.00 154.87L130.50 154.16L131.00 153.47L131.50 152.80L132.00 152.13L132.50 151.48L133.00 150.88L133.50 150.34L134.00 149.88L134.50 149.52L135.00 149.26L135.50 149.09L136.00 148.98L136.50 148.92L137.00 148.90L137.50 148.91L138.00 148.93L138.50 148.98L139.00 149.04L139.50 149.11L140.00 149.20L140.50 149.30L141.00 149.40L141.50 149.51L142.00 149.64L142.50 149.78L143.00 149.96L143.50 150.16L144.00 150.41L144.50 150.70L145.00 151.04L145.50 151.43L146.00 151.86L146.50 152.32L147.00 152.80L147.50 153.30L148.00 153.80L148.50 154.32L149.00 154.85L149.50 155.41L150.00 156.03L150.50 156.70L151.00 157.44L151.50 158.25L152.00 159.10L152.50 159.98L153.00 160.89L153.50 161.80L154.00 162.71L154.50 163.61L155.00 164.49L155.50 165.35L156.00 166.19L156.50 167.00L157.00 167.77L157.50 168.50L158.00 169.19L158.50 169.84L159.00 170.46L159.50 171.05L160.00 171.64L160.50 172.21L161.00 172.78L161.50 173.36L162.00 173.96L162.50 174.57L163.00 175.21L163.50 175.84L164.00 176.47L164.50 177.09L165.00 177.67L165.50 178.20L166.00 178.69L166.50 179.13L167.00 179.52L167.50 179.88L168.00 180.21L168.50 180.52L169.00 180.80L169.50 181.07L170.00 181.32L170.50 181.56L171.00 181.79L171.50 182.00L172.00 182.21L172.50 182.40L173.00 182.59L173.50 182.77L174.00 182.93L174.50 183.10L175.00 183.25L175.50 183.40L176.00 183.53L176.50 183.67L177.00 183.80L177.50 183.92L178.00 184.03L178.50 184.14L179.00 184.25L179.50 184.34L180.00 184.44L180.50 184.53L181.00 184.62L181.50 184.70L182.00 184.78L182.50 184.85L183.00 184.92L183.50 184.99L184.00 185.06L184.50 185.12L185.00 185.18L185.50 185.24L186.00 185.30L186.50 185.36L187.00 185.41L187.50 185.47L188.00 185.52L188.50 185.57L189.00 185.62L189.50 185.67L190.00 185.72L190.50 185.76L191.00 185.81L191.50 185.86L192.00 185.90L192.50 185.94L193.00 185.99L193.50 186.03L194.00 186.07L194.50 186.11L195.00 186.15L195.50 186.19L196.00 186.23L196.50 186.27L197.00 186.31L197.50 186.35L198.00 186.39L198.50 186.43L199.00 186.47L199.50 186.50L200.00 186.54L200.50 186.58L201.00 186.62L201.50 186.66L202.00 186.70L202.50 186.73L203.00 186.77L203.50 186.81L204.00 186.85L204.50 186.89L205.00 186.93L205.50 186.97L206.00 187.01L206.50 187.06L207.00 187.10L207.50 187.14L208.00 187.18L208.50 187.23L209.00 187.27L209.50 187.31L210.00 187.35L210.50 187.40L211.00 187.44L211.50 187.48L212.00 187.52L212.50 187.57L213.00 187.61L213.50 187.65L214.00 187.69L214.50 187.73L215.00 187.77L215.50 187.81L216.00 187.85L216.50 187.89L217.00 187.93L217.50 187.96L218.00 188.00L218.50 188.03L219.00 188.07L219.50 188.10L220.00 188.13L220.50 188.17L221.00 188.20L221.50 188.22L222.00 188.25L222.50 188.28L223.00 188.30L223.50 188.33L224.00 188.35L224.50 188.37L225.00 188.39L225.50 188.41L226.00 188.43L226.50 188.44L227.00 188.46L227.50 188.47L228.00 188.48L228.50 188.49L229.00 188.50L229.50 188.51L230.00 188.51L230.50 188.52L231.00 188.52L231.50 188.52L232.00 188.53L232.50 188.53L233.00 188.53L233.50 188.53L234.00 188.53L234.50 188.52L235.00 188.52L235.50 188.52L236.00 188.51L236.50 188.51L237.00 188.51L237.50 188.50L238.00 188.50L238.50 188.49L239.00 188.48L239.50 188.48L240.00 188.47L240.50 188.46L241.00 188.46L241.50 188.45L242.00 188.44L242.50 188.44L243.00 188.43L243.50 188.43L244.00 188.42L244.50 188.41L245.00 188.41L245.50 188.40L246.00 188.40L246.50 188.39L247.00 188.39L247.50 188.38L248.00 188.38L248.50 188.37L249.00 188.37L249.50 188.36L250.00 188.35L250.50 188.34L251.00 188.32L251.50 188.31L252.00 188.29L252.50 188.27L253.00 188.24L253.50 188.21L254.00 188.18L254.50 188.15L255.00 188.11L255.50 188.06L256.00 188.01L256.50 187.96L257.00 187.90L257.50 187.83L258.00 187.76L258.50 187.69L259.00 187.61L259.50 187.53L260.00 187.45L260.50 187.37L261.00 187.28L261.50 187.19L262.00 187.10L262.50 187.01L263.00 186.92L263.50 186.83L264.00 186.73L264.50 186.64L265.00 186.55L265.50 186.46L266.00 186.37L266.50 186.28L267.00 186.20L267.50 186.11L268.00 186.03L268.50 185.95L269.00 185.87L269.50 185.80L270.00 185.72L270.50 185.65L271.00 185.57L271.50 185.50L272.00 185.44L272.50 185.37L273.00 185.30L273.50 185.24L274.00 185.18L274.50 185.11L275.00 185.05L275.50 184.99L276.00 184.94L276.50 184.88L277.00 184.82L277.50 184.77L278.00 184.72L278.50 184.66L279.00 184.61L279.50 184.56L280.00 184.51L280.50 184.46L281.00 184.42L281.50 184.37L282.00 184.32L282.50 184.28L283.00 184.23L283.50 184.19L284.00 184.14L284.50 184.10L285.00 184.06L285.50 184.02L286.00 183.97L286.50 183.93L287.00 183.89L287.50 183.85L288.00 183.81L288.50 183.77L289.00 183.73L289.50 183.69L290.00 183.65L290.50 183.62L291.00 183.58L291.50 183.54L292.00 183.50L292.50 183.47L293.00 183.43L293.50 183.39L294.00 183.36L294.50 183.32L295.00 183.29L295.50 183.25L296.00 183.22L296.50 183.19L297.00 183.15L297.50 183.12L298.00 183.09L298.50 183.06L299.00 183.03L299.50 183.00L300.00 182.97L300.50 182.94L301.00 182.91L301.50 182.88L302.00 182.86L302.50 182.83L303.00 182.81L303.50 182.78L304.00 182.76L304.50 182.73L305.00 182.71L305.50 182.68L306.00 182.66L306.50 182.64L307.00 182.62L307.50 182.60L308.00 182.58L308.50 182.56L309.00 182.54L309.50 182.53L310.00 182.51L310.50 182.49L311.00 182.48L311.50 182.46L312.00 182.45L312.50 182.43L313.00 182.42L313.50 182.41L314.00 182.39L314.50 182.38L315.00 182.37L315.50 182.36L316.00 182.34L316.50 182.33L317.00 182.32L317.50 182.31L318.00 182.30L318.50 182.29L319.00 182.28L319.50 182.27L320.00 182.26L320.50 182.25L321.00 182.24L321.50 182.24L322.00 182.23L322.50 182.22L323.00 182.21L323.50 182.20" fill="none" stroke="#000000" stroke-width="1.4" stroke-linejoin="round"/>
<line x1="127.3" y1="16.2" x2="127.3" y2="199" stroke="#111" stroke-width="1.5" stroke-dasharray="6.1 5.65"/>
<line x1="137.0" y1="16.2" x2="137.0" y2="199" stroke="#111" stroke-width="1.5" stroke-dasharray="6.1 5.65"/>
<text x="123.6" y="25.2" font-size="12.5" text-anchor="end" font-weight="normal" fill="#1a1a1a" >Ta(0)</text>
<text x="141.6" y="25.2" font-size="12.5" text-anchor="start" font-weight="normal" fill="#1a1a1a" >Ta(V)</text>
<text x="312.5" y="54.8" font-size="12.5" text-anchor="end" font-weight="normal" fill="#1a1a1a" >Ta foil</text>
<text x="312.5" y="84" font-size="12.5" text-anchor="end" fill="#1a1a1a">Ta<tspan font-size="9" dy="3.5">2</tspan><tspan dy="-3.5">O</tspan><tspan font-size="9" dy="3.5">5</tspan></text>
<text x="312.5" y="119" font-size="12.5" text-anchor="end" font-weight="normal" fill="#1a1a1a" >Ta(V)OEt</text>
<text x="311.5" y="151.9" font-size="12.5" text-anchor="end" font-weight="normal" fill="#1a1a1a" >TaAlS-1</text>
<text x="311.5" y="179.1" font-size="12.5" text-anchor="end" font-weight="normal" fill="#1a1a1a" >TaS-1</text>
<line x1="390.4" y1="5.5" x2="669.5" y2="5.5" stroke="#5a5a5a" stroke-width="1.2" stroke-linecap="square"/>
<line x1="390.4" y1="211.2" x2="669.5" y2="211.2" stroke="#606060" stroke-width="1.3" stroke-linecap="square"/>
<line x1="669.5" y1="5.5" x2="669.5" y2="211.2" stroke="#555" stroke-width="1.2" stroke-linecap="square"/>
<line x1="390.4" y1="5.5" x2="390.4" y2="211.2" stroke="#505050" stroke-width="1.25" stroke-linecap="square"/>
<line x1="386.2" y1="211.1" x2="390.4" y2="211.1" stroke="#606060" stroke-width="1.2"/>
<text x="383.8" y="215.2" font-size="12.5" text-anchor="end" font-weight="normal" fill="#1a1a1a" >0.0</text>
<line x1="386.2" y1="176.83333333333331" x2="390.4" y2="176.83333333333331" stroke="#606060" stroke-width="1.2"/>
<text x="383.8" y="180.9333333333333" font-size="12.5" text-anchor="end" font-weight="normal" fill="#1a1a1a" >0.5</text>
<line x1="386.2" y1="142.56666666666666" x2="390.4" y2="142.56666666666666" stroke="#606060" stroke-width="1.2"/>
<text x="383.8" y="146.66666666666666" font-size="12.5" text-anchor="end" font-weight="normal" fill="#1a1a1a" >1.0</text>
<line x1="386.2" y1="108.3" x2="390.4" y2="108.3" stroke="#606060" stroke-width="1.2"/>
<text x="383.8" y="112.39999999999999" font-size="12.5" text-anchor="end" font-weight="normal" fill="#1a1a1a" >1.5</text>
<line x1="386.2" y1="74.03333333333333" x2="390.4" y2="74.03333333333333" stroke="#606060" stroke-width="1.2"/>
<text x="383.8" y="78.13333333333333" font-size="12.5" text-anchor="end" font-weight="normal" fill="#1a1a1a" >2.0</text>
<line x1="386.2" y1="39.76666666666668" x2="390.4" y2="39.76666666666668" stroke="#606060" stroke-width="1.2"/>
<text x="383.8" y="43.86666666666668" font-size="12.5" text-anchor="end" font-weight="normal" fill="#1a1a1a" >2.5</text>
<line x1="386.2" y1="5.5" x2="390.4" y2="5.5" stroke="#606060" stroke-width="1.2"/>
<text x="383.8" y="9.6" font-size="12.5" text-anchor="end" font-weight="normal" fill="#1a1a1a" >3.0</text>
<line x1="390.4" y1="211.2" x2="390.4" y2="214.7" stroke="#808080" stroke-width="1.3"/>
<text x="390.4" y="228.2" font-size="12.5" text-anchor="middle" font-weight="normal" fill="#1a1a1a" >9,860</text>
<line x1="460.15" y1="211.2" x2="460.15" y2="214.7" stroke="#808080" stroke-width="1.3"/>
<text x="460.15" y="228.2" font-size="12.5" text-anchor="middle" font-weight="normal" fill="#1a1a1a" >9,880</text>
<line x1="529.9" y1="211.2" x2="529.9" y2="214.7" stroke="#808080" stroke-width="1.3"/>
<text x="529.9" y="228.2" font-size="12.5" text-anchor="middle" font-weight="normal" fill="#1a1a1a" >9,900</text>
<line x1="599.65" y1="211.2" x2="599.65" y2="214.7" stroke="#808080" stroke-width="1.3"/>
<text x="599.65" y="228.2" font-size="12.5" text-anchor="middle" font-weight="normal" fill="#1a1a1a" >9,920</text>
<line x1="669.4" y1="211.2" x2="669.4" y2="214.7" stroke="#808080" stroke-width="1.3"/>
<text x="669.4" y="228.2" font-size="12.5" text-anchor="middle" font-weight="normal" fill="#1a1a1a" >9,940</text>
<text x="530" y="242.8" font-size="12.5" text-anchor="middle" font-weight="normal" fill="#1a1a1a" >Energy (eV)</text>
<text transform="translate(354.4,108.1) rotate(-90)" font-size="12.5" text-anchor="middle" fill="#1a1a1a">Norm. absorption (a.u.)</text>
<text x="342.4" y="11.0" font-size="13.5" text-anchor="start" font-weight="bold" fill="#000" >b</text>
<path d="M390.50 209.83L391.00 209.53L391.50 209.25L392.00 208.98L392.50 208.73L393.00 208.52L393.50 208.35L394.00 208.24L394.50 208.21L395.00 208.23L395.50 208.28L396.00 208.36L396.50 208.45L397.00 208.56L397.50 208.70L398.00 208.83L398.50 208.95L399.00 209.05L399.50 209.15L400.00 209.26L400.50 209.29L401.00 209.33L401.50 209.40L402.00 209.52L402.50 209.67L403.00 209.80L403.50 209.94L404.00 210.06L404.50 210.13L405.00 210.11L405.50 209.98L406.00 209.78L406.50 209.53L407.00 209.19L407.50 208.81L408.00 208.39L408.50 207.95L409.00 207.51L409.50 207.09L410.00 206.79L410.50 206.59L411.00 206.51L411.50 206.57L412.00 206.77L412.50 207.09L413.00 207.44L413.50 207.71L414.00 207.90L414.50 207.93L415.00 207.85L415.50 207.65L416.00 207.36L416.50 207.01L417.00 206.66L417.50 206.36L418.00 206.18L418.50 206.12L419.00 206.14L419.50 206.19L420.00 206.26L420.50 206.28L421.00 206.24L421.50 206.13L422.00 205.91L422.50 205.64L423.00 205.36L423.50 205.16L424.00 205.12L424.50 205.30L425.00 205.58L425.50 205.86L426.00 206.04L426.50 206.01L427.00 205.73L427.50 205.26L428.00 204.66L428.50 204.09L429.00 203.64L429.50 203.38L430.00 203.32L430.50 203.36L431.00 203.54L431.50 203.61L432.00 203.46L432.50 203.08L433.00 202.55L433.50 201.96L434.00 201.37L434.50 200.87L435.00 200.55L435.50 200.35L436.00 200.21L436.50 200.11L437.00 200.02L437.50 199.93L438.00 199.73L438.50 199.41L439.00 198.96L439.50 198.45L440.00 197.91L440.50 197.41L441.00 196.96L441.50 196.56L442.00 196.20L442.50 195.88L443.00 195.58L443.50 195.23L444.00 194.81L444.50 194.38L445.00 193.95L445.50 193.56L446.00 193.16L446.50 192.70L447.00 192.22L447.50 191.71L448.00 191.17L448.50 190.61L449.00 190.01L449.50 189.38L450.00 188.72L450.50 188.03L451.00 187.30L451.50 186.54L452.00 185.73L452.50 184.89L453.00 184.01L453.50 183.08L454.00 182.11L454.50 181.09L455.00 180.00L455.50 178.79L456.00 177.42L456.50 175.84L457.00 174.07L457.50 172.19L458.00 170.30L458.50 168.47L459.00 166.63L459.50 164.67L460.00 162.50L460.50 160.04L461.00 157.37L461.50 154.61L462.00 151.85L462.50 149.15L463.00 146.52L463.50 143.94L464.00 141.34L464.50 138.60L465.00 135.61L465.50 132.34L466.00 128.76L466.50 124.87L467.00 120.80L467.50 116.65L468.00 112.55L468.50 108.53L469.00 104.61L469.50 100.80L470.00 97.08L470.50 93.37L471.00 89.52L471.50 85.38L472.00 80.79L472.50 75.79L473.00 70.50L473.50 65.09L474.00 59.69L474.50 54.46L475.00 49.58L475.50 45.20L476.00 41.47L476.50 38.38L477.00 35.83L477.50 33.74L478.00 32.01L478.50 30.57L479.00 29.36L479.50 28.35L480.00 27.50L480.50 26.80L481.00 26.28L481.50 26.01L482.00 26.03L482.50 26.37L483.00 26.99L483.50 27.81L484.00 28.81L484.50 29.95L485.00 31.26L485.50 32.73L486.00 34.38L486.50 36.20L487.00 38.16L487.50 40.23L488.00 42.39L488.50 44.60L489.00 46.85L489.50 49.11L490.00 51.38L490.50 53.67L491.00 55.97L491.50 58.28L492.00 60.59L492.50 62.91L493.00 65.25L493.50 67.61L494.00 70.00L494.50 72.41L495.00 74.86L495.50 77.32L496.00 79.77L496.50 82.17L497.00 84.49L497.50 86.70L498.00 88.78L498.50 90.74L499.00 92.58L499.50 94.31L500.00 95.95L500.50 97.50L501.00 98.98L501.50 100.40L502.00 101.76L502.50 103.08L503.00 104.36L503.50 105.61L504.00 106.84L504.50 108.05L505.00 109.24L505.50 110.44L506.00 111.64L506.50 112.82L507.00 114.00L507.50 115.15L508.00 116.28L508.50 117.36L509.00 118.40L509.50 119.39L510.00 120.32L510.50 121.20L511.00 122.03L511.50 122.81L512.00 123.56L512.50 124.26L513.00 124.94L513.50 125.59L514.00 126.21L514.50 126.82L515.00 127.41L515.50 128.39L516.00 128.79L516.50 129.18L517.00 129.57L517.50 130.04L518.00 130.50L518.50 130.93L519.00 131.44L519.50 131.94L520.00 132.42L520.50 132.81L521.00 133.17L521.50 133.52L522.00 133.85L522.50 134.16L523.00 134.46L523.50 134.76L524.00 135.05L524.50 135.34L525.00 135.66L525.50 136.09L526.00 136.52L526.50 136.96L527.00 137.37L527.50 137.78L528.00 138.20L528.50 138.69L529.00 139.19L529.50 139.70L530.00 140.11L530.50 140.45L531.00 140.79L531.50 141.12L532.00 141.41L532.50 141.71L533.00 142.02L533.50 142.39L534.00 142.76L534.50 143.12L535.00 143.43L535.50 143.72L536.00 144.01L536.50 144.38L537.00 144.76L537.50 145.12L538.00 145.40L538.50 145.61L539.00 145.80L539.50 145.98L540.00 146.13L540.50 146.27L541.00 146.37L541.50 146.39L542.00 146.40L542.50 146.40L543.00 146.57L543.50 146.73L544.00 146.90L544.50 146.91L545.00 146.88L545.50 146.86L546.00 146.94L546.50 147.08L547.00 147.23L547.50 147.47L548.00 147.82L548.50 148.15L549.00 148.45L549.50 148.61L550.00 148.75L550.50 148.85L551.00 149.03L551.50 149.17L552.00 149.27L552.50 149.32L553.00 149.34L553.50 149.36L554.00 149.11L554.50 148.71L555.00 148.33L555.50 148.05L556.00 147.93L556.50 147.85L557.00 147.86L557.50 148.06L558.00 148.29L558.50 148.55L559.00 148.77L559.50 149.00L560.00 149.24L560.50 149.40L561.00 149.54L561.50 149.66L562.00 149.81L562.50 149.96L563.00 150.09L563.50 150.24L564.00 150.43L564.50 150.61L565.00 150.75L565.50 150.79L566.00 150.82L566.50 150.86L567.00 150.82L567.50 150.78L568.00 150.76L568.50 150.91L569.00 151.10L569.50 151.29L570.00 151.45L570.50 151.58L571.00 151.70L571.50 151.76L572.00 151.75L572.50 151.71L573.00 151.66L573.50 151.68L574.00 151.67L574.50 151.64L575.00 151.51L575.50 151.37L576.00 151.23L576.50 151.21L577.00 151.22L577.50 151.24L578.00 151.20L578.50 151.11L579.00 151.06L579.50 151.02L580.00 150.97L580.50 150.94L581.00 150.93L581.50 150.94L582.00 150.95L582.50 150.97L583.00 151.01L583.50 151.05L584.00 151.09L584.50 151.02L585.00 150.92L585.50 150.82L586.00 150.86L586.50 151.00L587.00 151.13L587.50 151.27L588.00 151.42L588.50 151.58L589.00 151.69L589.50 151.62L590.00 151.56L590.50 151.50L591.00 151.69L591.50 151.88L592.00 152.07L592.50 152.06L593.00 152.00L593.50 151.92L594.00 151.96L594.50 152.07L595.00 152.17L595.50 152.19L596.00 152.10L596.50 152.01L597.00 151.93L597.50 151.94L598.00 151.94L598.50 151.94L599.00 151.76L599.50 151.59L600.00 151.41L600.50 151.21L601.00 151.01L601.50 150.81L602.00 150.83L602.50 151.00L603.00 151.16L603.50 151.25L604.00 151.22L604.50 151.18L605.00 151.09L605.50 150.81L606.00 150.51L606.50 150.21L607.00 149.99L607.50 149.77L608.00 149.54L608.50 149.36L609.00 149.18L609.50 149.00L610.00 148.83L610.50 148.68L611.00 148.52L611.50 148.44L612.00 148.45L612.50 148.47L613.00 148.47L613.50 148.30L614.00 148.15L614.50 148.03L615.00 148.00L615.50 147.99L616.00 148.02L616.50 148.03L617.00 148.04L617.50 148.04L618.00 148.03L618.50 148.00L619.00 147.92L619.50 147.82L620.00 147.72L620.50 147.58L621.00 147.44L621.50 147.42L622.00 147.39L622.50 147.34L623.00 147.06L623.50 146.77L624.00 146.49L624.50 146.28L625.00 146.09L625.50 145.92L626.00 145.71L626.50 145.48L627.00 145.28L627.50 145.10L628.00 144.93L628.50 144.79L629.00 144.68L629.50 144.66L630.00 144.66L630.50 144.66L631.00 144.66L631.50 144.66L632.00 144.66L632.50 144.67L633.00 144.68L633.50 144.69L634.00 144.66L634.50 144.61L635.00 144.56L635.50 144.52L636.00 144.46L636.50 144.42L637.00 144.38L637.50 144.30L638.00 144.21L638.50 144.08L639.00 144.12L639.50 144.11L640.00 144.03L640.50 143.96L641.00 143.85L641.50 143.71L642.00 143.32L642.50 142.77L643.00 142.23L643.50 141.78L644.00 141.43L644.50 141.13L645.00 140.91L645.50 140.92L646.00 140.97L646.50 141.03L647.00 140.99L647.50 140.96L648.00 140.94L648.50 140.69L649.00 140.38L649.50 140.08L650.00 139.94L650.50 139.90L651.00 139.87L651.50 139.81L652.00 139.72L652.50 139.62L653.00 139.52L653.50 139.41L654.00 139.30L654.50 139.18L655.00 139.32L655.50 139.46L656.00 139.59L656.50 139.56L657.00 139.49L657.50 139.43L658.00 139.32L658.50 139.20L659.00 139.08L659.50 138.97L660.00 138.86L660.50 138.76L661.00 138.69L661.50 138.71L662.00 138.74L662.50 138.77L663.00 138.69L663.50 138.61L664.00 138.53L664.50 138.48L665.00 138.44L665.50 138.39L666.00 138.31L666.50 138.21L667.00 138.10L667.50 138.06L668.00 138.11L668.50 138.15L669.00 138.23L669.50 138.45L670.00 138.66" fill="none" stroke="#ff1a1a" stroke-width="1.5" stroke-linejoin="round"/>
<path d="M390.50 209.79L391.00 209.50L391.50 209.22L392.00 208.95L392.50 208.74L393.00 208.56L393.50 208.43L394.00 208.37L394.50 208.37L395.00 208.42L395.50 208.49L396.00 208.54L396.50 208.61L397.00 208.69L397.50 208.77L398.00 208.84L398.50 208.89L399.00 208.97L399.50 209.05L400.00 209.14L400.50 209.26L401.00 209.42L401.50 209.60L402.00 209.78L402.50 209.93L403.00 210.07L403.50 210.18L404.00 210.22L404.50 210.20L405.00 210.10L405.50 209.90L406.00 209.64L406.50 209.31L407.00 208.99L407.50 208.62L408.00 208.22L408.50 207.88L409.00 207.58L409.50 207.30L410.00 207.03L410.50 206.82L411.00 206.73L411.50 206.74L412.00 206.89L412.50 207.15L413.00 207.48L413.50 207.83L414.00 208.11L414.50 208.23L415.00 208.19L415.50 208.02L416.00 207.77L416.50 207.47L417.00 207.17L417.50 206.92L418.00 206.75L418.50 206.68L419.00 206.68L419.50 206.72L420.00 206.74L420.50 206.72L421.00 206.64L421.50 206.50L422.00 206.26L422.50 205.98L423.00 205.62L423.50 205.36L424.00 205.25L424.50 205.41L425.00 205.69L425.50 205.97L426.00 206.15L426.50 206.13L427.00 205.86L427.50 205.42L428.00 204.91L428.50 204.42L429.00 204.06L429.50 203.93L430.00 204.00L430.50 204.17L431.00 204.24L431.50 204.20L432.00 203.95L432.50 203.40L433.00 202.67L433.50 201.89L434.00 201.20L434.50 200.69L435.00 200.36L435.50 200.20L436.00 200.21L436.50 200.25L437.00 200.26L437.50 200.11L438.00 199.86L438.50 199.48L439.00 199.06L439.50 198.58L440.00 198.08L440.50 197.60L441.00 197.18L441.50 196.81L442.00 196.40L442.50 195.98L443.00 195.57L443.50 195.21L444.00 194.90L444.50 194.56L445.00 194.23L445.50 193.96L446.00 193.82L446.50 193.39L447.00 192.93L447.50 192.44L448.00 191.93L448.50 191.39L449.00 190.83L449.50 190.24L450.00 189.63L450.50 188.98L451.00 188.31L451.50 187.59L452.00 186.85L452.50 186.06L453.00 185.24L453.50 184.37L454.00 183.46L454.50 182.50L455.00 181.50L455.50 180.44L456.00 179.29L456.50 177.99L457.00 176.50L457.50 174.79L458.00 172.94L458.50 171.05L459.00 169.20L459.50 167.38L460.00 165.48L460.50 163.41L461.00 161.05L461.50 158.44L462.00 155.70L462.50 152.96L463.00 150.28L463.50 147.62L464.00 144.91L464.50 142.17L465.00 139.57L465.50 137.21L466.00 134.55L466.50 130.55L467.00 124.45L467.50 117.51L468.00 111.85L468.50 107.98L469.00 105.22L469.50 102.86L470.00 100.47L470.50 97.99L471.00 95.39L471.50 92.65L472.00 89.73L472.50 86.66L473.00 83.52L473.50 80.38L474.00 77.30L474.50 74.36L475.00 71.63L475.50 69.12L476.00 66.82L476.50 64.73L477.00 62.82L477.50 61.10L478.00 59.56L478.50 58.21L479.00 57.09L479.50 56.20L480.00 55.56L480.50 55.15L481.00 54.92L481.50 54.83L482.00 54.85L482.50 54.94L483.00 55.09L483.50 55.30L484.00 55.60L484.50 56.00L485.00 56.52L485.50 57.15L486.00 57.87L486.50 58.68L487.00 59.56L487.50 60.52L488.00 61.55L488.50 62.68L489.00 63.91L489.50 65.25L490.00 66.72L490.50 68.32L491.00 70.07L491.50 71.95L492.00 73.94L492.50 76.02L493.00 78.17L493.50 80.36L494.00 82.57L494.50 84.79L495.00 87.05L495.50 89.33L496.00 91.65L496.50 94.02L497.00 96.44L497.50 98.88L498.00 101.31L498.50 103.70L499.00 106.01L499.50 108.20L500.00 110.25L500.50 112.19L501.00 114.04L501.50 115.85L502.00 117.64L502.50 119.45L503.00 121.26L503.50 123.04L504.00 124.76L504.50 126.39L505.00 127.90L505.50 129.28L506.00 130.55L506.50 131.72L507.00 132.79L507.50 133.77L508.00 134.68L508.50 135.52L509.00 136.31L509.50 137.04L510.00 137.73L510.50 138.40L511.00 139.04L511.50 139.67L512.00 140.27L512.50 140.85L513.00 141.41L513.50 141.96L514.00 142.48L514.50 142.99L515.00 143.48L515.50 144.13L516.00 144.54L516.50 144.92L517.00 145.30L517.50 145.70L518.00 146.08L518.50 146.44L519.00 146.84L519.50 147.22L520.00 147.59L520.50 147.99L521.00 148.39L521.50 148.77L522.00 149.10L522.50 149.38L523.00 149.65L523.50 149.89L524.00 150.07L524.50 150.26L525.00 150.44L525.50 150.62L526.00 150.80L526.50 150.99L527.00 151.35L527.50 151.72L528.00 152.10L528.50 152.41L529.00 152.71L529.50 153.01L530.00 153.36L530.50 153.74L531.00 154.12L531.50 154.41L532.00 154.56L532.50 154.70L533.00 154.88L533.50 155.21L534.00 155.53L534.50 155.84L535.00 156.10L535.50 156.34L536.00 156.58L536.50 156.77L537.00 156.94L537.50 157.09L538.00 157.42L538.50 157.85L539.00 158.26L539.50 158.55L540.00 158.65L540.50 158.74L541.00 158.77L541.50 158.63L542.00 158.49L542.50 158.34L543.00 158.42L543.50 158.50L544.00 158.59L544.50 158.55L545.00 158.50L545.50 158.46L546.00 158.36L546.50 158.22L547.00 158.09L547.50 158.15L548.00 158.47L548.50 158.79L549.00 159.08L549.50 159.27L550.00 159.43L550.50 159.58L551.00 159.58L551.50 159.55L552.00 159.50L552.50 159.39L553.00 159.25L553.50 159.09L554.00 159.02L554.50 158.99L555.00 158.98L555.50 158.98L556.00 159.01L556.50 159.07L557.00 159.14L557.50 159.26L558.00 159.39L558.50 159.53L559.00 159.49L559.50 159.46L560.00 159.44L560.50 159.46L561.00 159.48L561.50 159.50L562.00 159.58L562.50 159.68L563.00 159.79L563.50 159.79L564.00 159.63L564.50 159.48L565.00 159.34L565.50 159.25L566.00 159.17L566.50 159.09L567.00 159.11L567.50 159.13L568.00 159.17L568.50 159.48L569.00 159.85L569.50 160.23L570.00 160.46L570.50 160.59L571.00 160.71L571.50 160.77L572.00 160.77L572.50 160.75L573.00 160.71L573.50 160.64L574.00 160.55L574.50 160.45L575.00 160.32L575.50 160.18L576.00 160.04L576.50 159.93L577.00 159.84L577.50 159.75L578.00 159.66L578.50 159.57L579.00 159.50L579.50 159.46L580.00 159.45L580.50 159.46L581.00 159.48L581.50 159.58L582.00 159.68L582.50 159.77L583.00 159.92L583.50 160.06L584.00 160.19L584.50 160.13L585.00 160.03L585.50 159.92L586.00 159.77L586.50 159.60L587.00 159.42L587.50 159.26L588.00 159.12L588.50 158.97L589.00 158.86L589.50 158.85L590.00 158.85L590.50 158.85L591.00 159.00L591.50 159.15L592.00 159.30L592.50 159.25L593.00 159.14L593.50 159.03L594.00 158.89L594.50 158.73L595.00 158.58L595.50 158.43L596.00 158.29L596.50 158.15L597.00 158.02L597.50 157.92L598.00 157.81L598.50 157.70L599.00 157.78L599.50 157.86L600.00 157.94L600.50 158.00L601.00 158.05L601.50 158.10L602.00 158.03L602.50 157.88L603.00 157.73L603.50 157.60L604.00 157.51L604.50 157.42L605.00 157.34L605.50 157.30L606.00 157.24L606.50 157.19L607.00 157.08L607.50 156.98L608.00 156.86L608.50 156.67L609.00 156.44L609.50 156.22L610.00 156.11L610.50 156.07L611.00 156.03L611.50 155.97L612.00 155.91L612.50 155.85L613.00 155.81L613.50 155.83L614.00 155.87L614.50 155.94L615.00 155.85L615.50 155.80L616.00 155.76L616.50 155.90L617.00 156.09L617.50 156.27L618.00 156.42L618.50 156.53L619.00 156.62L619.50 156.57L620.00 156.33L620.50 156.07L621.00 155.80L621.50 155.60L622.00 155.38L622.50 155.15L623.00 155.05L623.50 154.93L624.00 154.81L624.50 154.61L625.00 154.38L625.50 154.15L626.00 153.91L626.50 153.65L627.00 153.41L627.50 153.27L628.00 153.30L628.50 153.34L629.00 153.39L629.50 153.42L630.00 153.46L630.50 153.51L631.00 153.24L631.50 152.98L632.00 152.74L632.50 152.57L633.00 152.44L633.50 152.31L634.00 152.25L634.50 152.22L635.00 152.19L635.50 152.21L636.00 152.29L636.50 152.35L637.00 152.35L637.50 152.18L638.00 151.97L638.50 151.72L639.00 151.60L639.50 151.42L640.00 151.17L640.50 150.99L641.00 150.80L641.50 150.59L642.00 150.21L642.50 149.73L643.00 149.30L643.50 149.01L644.00 148.92L644.50 148.89L645.00 148.89L645.50 148.87L646.00 148.88L646.50 148.92L647.00 148.79L647.50 148.67L648.00 148.56L648.50 148.58L649.00 148.62L649.50 148.65L650.00 148.69L650.50 148.73L651.00 148.77L651.50 148.67L652.00 148.40L652.50 148.11L653.00 147.83L653.50 147.59L654.00 147.35L654.50 147.12L655.00 146.99L655.50 146.86L656.00 146.74L656.50 146.80L657.00 146.91L657.50 147.03L658.00 147.16L658.50 147.29L659.00 147.44L659.50 147.47L660.00 147.35L660.50 147.24L661.00 147.09L661.50 146.83L662.00 146.57L662.50 146.31L663.00 146.24L663.50 146.17L664.00 146.11L664.50 146.14L665.00 146.20L665.50 146.26L666.00 146.33L666.50 146.41L667.00 146.49L667.50 146.53L668.00 146.51L668.50 146.50L669.00 146.50L669.50 146.53L670.00 146.56" fill="none" stroke="#1a8a1a" stroke-width="1.5" stroke-linejoin="round"/>
<path d="M390.50 209.79L391.00 209.54L391.50 209.29L392.00 209.06L392.50 208.85L393.00 208.67L393.50 208.53L394.00 208.46L394.50 208.47L395.00 208.53L395.50 208.63L396.00 208.76L396.50 208.91L397.00 209.04L397.50 209.08L398.00 209.10L398.50 209.11L399.00 209.09L399.50 209.07L400.00 209.06L400.50 209.08L401.00 209.13L401.50 209.20L402.00 209.36L402.50 209.56L403.00 209.74L403.50 209.86L404.00 209.87L404.50 209.82L405.00 209.71L405.50 209.60L406.00 209.42L406.50 209.18L407.00 208.98L407.50 208.74L408.00 208.47L408.50 208.10L409.00 207.71L409.50 207.35L410.00 207.00L410.50 206.70L411.00 206.52L411.50 206.48L412.00 206.60L412.50 206.83L413.00 207.14L413.50 207.52L414.00 207.81L414.50 207.95L415.00 207.91L415.50 207.74L416.00 207.49L416.50 207.25L417.00 207.03L417.50 206.85L418.00 206.76L418.50 206.77L419.00 206.86L419.50 206.92L420.00 206.89L420.50 206.82L421.00 206.67L421.50 206.42L422.00 206.07L422.50 205.67L423.00 205.37L423.50 205.15L424.00 205.09L424.50 205.26L425.00 205.53L425.50 205.81L426.00 205.96L426.50 205.92L427.00 205.63L427.50 205.15L428.00 204.58L428.50 204.04L429.00 203.63L429.50 203.48L430.00 203.53L430.50 203.67L431.00 203.78L431.50 203.79L432.00 203.58L432.50 203.20L433.00 202.70L433.50 202.14L434.00 201.59L434.50 201.13L435.00 200.86L435.50 200.70L436.00 200.59L436.50 200.53L437.00 200.45L437.50 200.28L438.00 200.01L438.50 199.61L439.00 199.18L439.50 198.68L440.00 198.16L440.50 197.63L441.00 197.14L441.50 196.68L442.00 196.26L442.50 195.85L443.00 195.46L443.50 195.08L444.00 194.69L444.50 194.30L445.00 193.87L445.50 193.41L446.00 193.16L446.50 192.70L447.00 192.22L447.50 191.71L448.00 191.17L448.50 190.61L449.00 190.01L449.50 189.38L450.00 188.72L450.50 188.03L451.00 187.30L451.50 186.54L452.00 185.73L452.50 184.89L453.00 184.01L453.50 183.08L454.00 182.11L454.50 181.09L455.00 180.00L455.50 178.79L456.00 177.42L456.50 175.84L457.00 174.07L457.50 172.19L458.00 170.30L458.50 168.47L459.00 166.63L459.50 164.67L460.00 162.50L460.50 160.04L461.00 157.37L461.50 154.61L462.00 151.85L462.50 149.16L463.00 146.52L463.50 143.93L464.00 141.32L464.50 138.60L465.00 135.68L465.50 132.43L466.00 128.71L466.50 124.58L467.00 120.43L467.50 116.74L468.00 113.95L468.50 112.02L469.00 110.55L469.50 109.14L470.00 107.40L470.50 105.22L471.00 102.68L471.50 99.90L472.00 96.97L472.50 93.99L473.00 91.06L473.50 88.21L474.00 85.47L474.50 82.87L475.00 80.41L475.50 78.13L476.00 76.05L476.50 74.17L477.00 72.51L477.50 71.07L478.00 69.86L478.50 68.90L479.00 68.18L479.50 67.65L480.00 67.28L480.50 67.00L481.00 66.78L481.50 66.61L482.00 66.52L482.50 66.50L483.00 66.57L483.50 66.72L484.00 66.93L484.50 67.20L485.00 67.52L485.50 67.88L486.00 68.29L486.50 68.72L487.00 69.19L487.50 69.69L488.00 70.24L488.50 70.87L489.00 71.58L489.50 72.40L490.00 73.34L490.50 74.42L491.00 75.67L491.50 77.08L492.00 78.65L492.50 80.37L493.00 82.25L493.50 84.28L494.00 86.44L494.50 88.72L495.00 91.05L495.50 93.40L496.00 95.72L496.50 97.96L497.00 100.09L497.50 102.11L498.00 104.04L498.50 105.90L499.00 107.71L499.50 109.50L500.00 111.28L500.50 113.02L501.00 114.70L501.50 116.30L502.00 117.79L502.50 119.20L503.00 120.55L503.50 121.87L504.00 123.20L504.50 124.52L505.00 125.83L505.50 127.11L506.00 128.32L506.50 129.47L507.00 130.54L507.50 131.54L508.00 132.46L508.50 133.30L509.00 134.09L509.50 134.82L510.00 135.53L510.50 136.21L511.00 136.87L511.50 137.52L512.00 138.16L512.50 138.78L513.00 139.38L513.50 139.97L514.00 140.54L514.50 141.09L515.00 141.62L515.50 141.60L516.00 142.24L516.50 142.85L517.00 143.42L517.50 143.88L518.00 144.33L518.50 144.76L519.00 144.93L519.50 145.10L520.00 145.26L520.50 145.60L521.00 145.99L521.50 146.38L522.00 146.70L522.50 146.99L523.00 147.27L523.50 147.56L524.00 147.86L524.50 148.14L525.00 148.45L525.50 148.84L526.00 149.23L526.50 149.60L527.00 149.81L527.50 150.01L528.00 150.20L528.50 150.46L529.00 150.74L529.50 151.02L530.00 151.16L530.50 151.21L531.00 151.25L531.50 151.37L532.00 151.58L532.50 151.79L533.00 151.98L533.50 152.12L534.00 152.25L534.50 152.36L535.00 152.48L535.50 152.59L536.00 152.68L536.50 152.86L537.00 153.04L537.50 153.21L538.00 153.29L538.50 153.30L539.00 153.28L539.50 153.26L540.00 153.23L540.50 153.18L541.00 153.08L541.50 152.88L542.00 152.68L542.50 152.49L543.00 152.28L543.50 152.11L544.00 151.96L544.50 152.00L545.00 152.13L545.50 152.31L546.00 152.56L546.50 152.87L547.00 153.22L547.50 153.58L548.00 153.92L548.50 154.27L549.00 154.57L549.50 154.70L550.00 154.80L550.50 154.85L551.00 154.95L551.50 154.98L552.00 154.94L552.50 154.83L553.00 154.67L553.50 154.48L554.00 154.40L554.50 154.38L555.00 154.36L555.50 154.25L556.00 153.99L556.50 153.76L557.00 153.58L557.50 153.48L558.00 153.40L558.50 153.35L559.00 153.62L559.50 153.90L560.00 154.20L560.50 154.41L561.00 154.60L561.50 154.80L562.00 154.78L562.50 154.63L563.00 154.47L563.50 154.38L564.00 154.40L564.50 154.42L565.00 154.44L565.50 154.52L566.00 154.59L566.50 154.65L567.00 154.69L567.50 154.72L568.00 154.74L568.50 154.83L569.00 154.93L569.50 155.03L570.00 155.02L570.50 154.93L571.00 154.86L571.50 154.82L572.00 154.85L572.50 154.88L573.00 154.95L573.50 155.10L574.00 155.25L574.50 155.42L575.00 155.43L575.50 155.44L576.00 155.46L576.50 155.53L577.00 155.62L577.50 155.69L578.00 155.66L578.50 155.56L579.00 155.43L579.50 155.30L580.00 155.16L580.50 155.01L581.00 154.88L581.50 154.88L582.00 154.86L582.50 154.84L583.00 155.07L583.50 155.29L584.00 155.51L584.50 155.42L585.00 155.24L585.50 155.07L586.00 154.93L586.50 154.81L587.00 154.69L587.50 154.58L588.00 154.49L588.50 154.39L589.00 154.30L589.50 154.21L590.00 154.12L590.50 154.03L591.00 153.99L591.50 153.95L592.00 153.92L592.50 153.90L593.00 153.89L593.50 153.88L594.00 153.65L594.50 153.26L595.00 152.87L595.50 152.54L596.00 152.28L596.50 152.03L597.00 151.81L597.50 151.74L598.00 151.67L598.50 151.60L599.00 151.56L599.50 151.53L600.00 151.51L600.50 151.62L601.00 151.76L601.50 151.91L602.00 151.93L602.50 151.87L603.00 151.81L603.50 151.64L604.00 151.32L604.50 150.99L605.00 150.68L605.50 150.46L606.00 150.22L606.50 149.96L607.00 149.93L607.50 149.90L608.00 149.85L608.50 149.73L609.00 149.59L609.50 149.45L610.00 149.11L610.50 148.62L611.00 148.16L611.50 147.88L612.00 147.88L612.50 147.91L613.00 147.94L613.50 147.89L614.00 147.86L614.50 147.88L615.00 148.00L615.50 148.16L616.00 148.35L616.50 148.37L617.00 148.34L617.50 148.29L618.00 148.28L618.50 148.26L619.00 148.19L619.50 148.03L620.00 147.79L620.50 147.51L621.00 147.22L621.50 147.06L622.00 146.88L622.50 146.69L623.00 146.65L623.50 146.61L624.00 146.58L624.50 146.34L625.00 146.07L625.50 145.83L626.00 145.54L626.50 145.23L627.00 144.96L627.50 144.74L628.00 144.57L628.50 144.42L629.00 144.30L629.50 144.24L630.00 144.18L630.50 144.13L631.00 144.30L631.50 144.46L632.00 144.60L632.50 144.68L633.00 144.75L633.50 144.80L634.00 144.80L634.50 144.77L635.00 144.75L635.50 144.72L636.00 144.68L636.50 144.67L637.00 144.67L637.50 144.65L638.00 144.62L638.50 144.55L639.00 144.58L639.50 144.55L640.00 144.43L640.50 144.23L641.00 143.96L641.50 143.65L642.00 143.37L642.50 143.12L643.00 142.90L643.50 142.67L644.00 142.42L644.50 142.22L645.00 142.01L645.50 141.63L646.00 141.27L646.50 140.94L647.00 140.73L647.50 140.52L648.00 140.32L648.50 140.26L649.00 140.23L649.50 140.20L650.00 140.13L650.50 140.04L651.00 139.94L651.50 139.86L652.00 139.79L652.50 139.73L653.00 139.66L653.50 139.64L654.00 139.60L654.50 139.56L655.00 139.46L655.50 139.36L656.00 139.25L656.50 139.26L657.00 139.30L657.50 139.35L658.00 139.32L658.50 139.24L659.00 139.17L659.50 139.11L660.00 139.05L660.50 139.01L661.00 138.96L661.50 138.87L662.00 138.80L662.50 138.73L663.00 138.64L663.50 138.55L664.00 138.47L664.50 138.45L665.00 138.45L665.50 138.45L666.00 138.50L666.50 138.59L667.00 138.68L667.50 138.76L668.00 138.81L668.50 138.87L669.00 138.94L669.50 139.04L670.00 139.15" fill="none" stroke="#000000" stroke-width="1.5" stroke-linejoin="round"/>
<path d="M390.50 209.67L391.00 209.38L391.50 209.09L392.00 208.82L392.50 208.61L393.00 208.45L393.50 208.32L394.00 208.24L394.50 208.20L395.00 208.21L395.50 208.25L396.00 208.28L396.50 208.33L397.00 208.41L397.50 208.57L398.00 208.71L398.50 208.84L399.00 208.92L399.50 209.01L400.00 209.10L400.50 209.17L401.00 209.26L401.50 209.38L402.00 209.52L402.50 209.67L403.00 209.81L403.50 209.92L404.00 209.98L404.50 209.99L405.00 209.92L405.50 209.76L406.00 209.55L406.50 209.27L407.00 208.98L407.50 208.65L408.00 208.28L408.50 207.88L409.00 207.49L409.50 207.12L410.00 206.81L410.50 206.59L411.00 206.47L411.50 206.49L412.00 206.65L412.50 206.92L413.00 207.26L413.50 207.65L414.00 207.95L414.50 208.10L415.00 208.05L415.50 207.87L416.00 207.61L416.50 207.28L417.00 206.96L417.50 206.68L418.00 206.51L418.50 206.46L419.00 206.47L419.50 206.53L420.00 206.59L420.50 206.61L421.00 206.55L421.50 206.33L422.00 206.00L422.50 205.64L423.00 205.41L423.50 205.27L424.00 205.29L424.50 205.46L425.00 205.71L425.50 205.97L426.00 206.12L426.50 206.07L427.00 205.79L427.50 205.32L428.00 204.77L428.50 204.24L429.00 203.83L429.50 203.61L430.00 203.60L430.50 203.68L431.00 203.81L431.50 203.83L432.00 203.64L432.50 203.24L433.00 202.70L433.50 202.10L434.00 201.51L434.50 201.02L435.00 200.71L435.50 200.53L436.00 200.40L436.50 200.32L437.00 200.23L437.50 200.07L438.00 199.81L438.50 199.41L439.00 199.05L439.50 198.62L440.00 198.17L440.50 197.71L441.00 197.29L441.50 196.92L442.00 196.53L442.50 196.14L443.00 195.76L443.50 195.36L444.00 194.93L444.50 194.48L445.00 194.01L445.50 193.54L446.00 193.16L446.50 192.70L447.00 192.22L447.50 191.71L448.00 191.17L448.50 190.61L449.00 190.01L449.50 189.38L450.00 188.72L450.50 188.03L451.00 187.30L451.50 186.54L452.00 185.73L452.50 184.89L453.00 184.01L453.50 183.08L454.00 182.11L454.50 181.09L455.00 180.00L455.50 178.79L456.00 177.42L456.50 175.84L457.00 174.07L457.50 172.19L458.00 170.30L458.50 168.47L459.00 166.63L459.50 164.67L460.00 162.50L460.50 160.04L461.00 157.37L461.50 154.61L462.00 151.85L462.50 149.15L463.00 146.52L463.50 143.94L464.00 141.34L464.50 138.60L465.00 135.62L465.50 132.35L466.00 128.75L466.50 124.83L467.00 120.73L467.50 116.62L468.00 112.63L468.50 108.84L469.00 105.19L469.50 101.65L470.00 98.19L470.50 94.77L471.00 91.35L471.50 87.93L472.00 84.52L472.50 81.13L473.00 77.77L473.50 74.46L474.00 71.20L474.50 68.07L475.00 65.17L475.50 62.57L476.00 60.36L476.50 58.44L477.00 56.62L477.50 54.73L478.00 52.84L478.50 51.35L479.00 50.48L479.50 50.06L480.00 49.88L480.50 49.73L481.00 49.50L481.50 49.25L482.00 49.03L482.50 48.91L483.00 48.93L483.50 49.17L484.00 49.59L484.50 50.12L485.00 50.69L485.50 51.22L486.00 51.71L486.50 52.17L487.00 52.62L487.50 53.08L488.00 53.56L488.50 54.06L489.00 54.58L489.50 55.13L490.00 55.74L490.50 56.45L491.00 57.30L491.50 58.34L492.00 59.60L492.50 61.03L493.00 62.61L493.50 64.31L494.00 66.10L494.50 67.95L495.00 69.86L495.50 71.84L496.00 73.88L496.50 75.99L497.00 78.17L497.50 80.42L498.00 82.73L498.50 85.10L499.00 87.49L499.50 89.87L500.00 92.22L500.50 94.50L501.00 96.69L501.50 98.80L502.00 100.84L502.50 102.83L503.00 104.77L503.50 106.68L504.00 108.57L504.50 110.43L505.00 112.24L505.50 114.00L506.00 115.70L506.50 117.32L507.00 118.86L507.50 120.34L508.00 121.78L508.50 123.20L509.00 124.62L509.50 126.07L510.00 127.54L510.50 129.01L511.00 130.45L511.50 131.86L512.00 133.20L512.50 134.45L513.00 135.58L513.50 136.58L514.00 137.43L514.50 138.15L515.00 138.77L515.50 139.31L516.00 139.75L516.50 140.16L517.00 140.49L517.50 140.61L518.00 140.72L518.50 140.82L519.00 141.37L519.50 141.93L520.00 142.50L520.50 143.07L521.00 143.65L521.50 144.23L522.00 144.76L522.50 145.24L523.00 145.72L523.50 146.19L524.00 146.65L524.50 147.09L525.00 147.48L525.50 147.73L526.00 147.96L526.50 148.18L527.00 148.33L527.50 148.47L528.00 148.61L528.50 148.82L529.00 149.06L529.50 149.29L530.00 149.53L530.50 149.79L531.00 150.04L531.50 150.25L532.00 150.39L532.50 150.53L533.00 150.70L533.50 151.00L534.00 151.31L534.50 151.61L535.00 152.04L535.50 152.46L536.00 152.88L536.50 153.23L537.00 153.55L537.50 153.87L538.00 154.02L538.50 154.05L539.00 154.08L539.50 154.15L540.00 154.29L540.50 154.42L541.00 154.56L541.50 154.81L542.00 155.04L542.50 155.26L543.00 155.49L543.50 155.71L544.00 155.92L544.50 156.02L545.00 156.09L545.50 156.15L546.00 156.26L546.50 156.40L547.00 156.53L547.50 156.56L548.00 156.46L548.50 156.34L549.00 156.24L549.50 156.26L550.00 156.26L550.50 156.24L551.00 156.26L551.50 156.25L552.00 156.21L552.50 156.20L553.00 156.19L553.50 156.17L554.00 156.07L554.50 155.91L555.00 155.78L555.50 155.57L556.00 155.25L556.50 154.97L557.00 154.79L557.50 154.86L558.00 154.95L558.50 155.07L559.00 155.31L559.50 155.57L560.00 155.83L560.50 155.91L561.00 155.95L561.50 155.97L562.00 156.02L562.50 156.07L563.00 156.10L563.50 156.23L564.00 156.51L564.50 156.78L565.00 157.01L565.50 157.07L566.00 157.13L566.50 157.19L567.00 157.17L567.50 157.16L568.00 157.15L568.50 157.15L569.00 157.16L569.50 157.17L570.00 157.26L570.50 157.41L571.00 157.54L571.50 157.62L572.00 157.62L572.50 157.60L573.00 157.57L573.50 157.58L574.00 157.58L574.50 157.56L575.00 157.34L575.50 157.10L576.00 156.87L576.50 156.75L577.00 156.66L577.50 156.58L578.00 156.58L578.50 156.64L579.00 156.70L579.50 156.74L580.00 156.73L580.50 156.72L581.00 156.75L581.50 156.86L582.00 156.98L582.50 157.09L583.00 157.06L583.50 157.02L584.00 156.97L584.50 156.85L585.00 156.71L585.50 156.57L586.00 156.51L586.50 156.52L587.00 156.52L587.50 156.51L588.00 156.49L588.50 156.46L589.00 156.44L589.50 156.45L590.00 156.46L590.50 156.46L591.00 156.28L591.50 156.10L592.00 155.93L592.50 155.87L593.00 155.84L593.50 155.81L594.00 155.91L594.50 156.10L595.00 156.29L595.50 156.46L596.00 156.59L596.50 156.72L597.00 156.80L597.50 156.70L598.00 156.60L598.50 156.49L599.00 156.22L599.50 155.95L600.00 155.66L600.50 155.54L601.00 155.45L601.50 155.36L602.00 155.32L602.50 155.31L603.00 155.30L603.50 155.18L604.00 154.90L604.50 154.62L605.00 154.35L605.50 154.13L606.00 153.90L606.50 153.68L607.00 153.67L607.50 153.67L608.00 153.68L608.50 153.62L609.00 153.55L609.50 153.49L610.00 153.30L610.50 153.05L611.00 152.79L611.50 152.55L612.00 152.33L612.50 152.11L613.00 151.93L613.50 151.92L614.00 151.92L614.50 151.93L615.00 152.06L615.50 152.19L616.00 152.34L616.50 152.28L617.00 152.18L617.50 152.07L618.00 152.01L618.50 151.98L619.00 151.93L619.50 151.89L620.00 151.87L620.50 151.84L621.00 151.78L621.50 151.67L622.00 151.55L622.50 151.43L623.00 151.21L623.50 150.99L624.00 150.76L624.50 150.58L625.00 150.41L625.50 150.24L626.00 150.00L626.50 149.72L627.00 149.44L627.50 149.19L628.00 149.00L628.50 148.81L629.00 148.63L629.50 148.49L630.00 148.36L630.50 148.23L631.00 148.25L631.50 148.28L632.00 148.32L632.50 148.16L633.00 147.96L633.50 147.77L634.00 147.57L634.50 147.37L635.00 147.16L635.50 147.01L636.00 146.94L636.50 146.85L637.00 146.76L637.50 146.68L638.00 146.58L638.50 146.44L639.00 146.24L639.50 145.99L640.00 145.70L640.50 145.19L641.00 144.61L641.50 144.01L642.00 143.53L642.50 143.15L643.00 142.79L643.50 142.55L644.00 142.47L644.50 142.44L645.00 142.46L645.50 142.59L646.00 142.74L646.50 142.92L647.00 142.72L647.50 142.54L648.00 142.37L648.50 142.19L649.00 142.00L649.50 141.81L650.00 141.78L650.50 141.84L651.00 141.91L651.50 141.97L652.00 142.03L652.50 142.10L653.00 142.09L653.50 141.85L654.00 141.60L654.50 141.35L655.00 141.28L655.50 141.20L656.00 141.13L656.50 141.20L657.00 141.31L657.50 141.43L658.00 141.44L658.50 141.39L659.00 141.34L659.50 141.28L660.00 141.19L660.50 141.10L661.00 141.02L661.50 140.94L662.00 140.87L662.50 140.80L663.00 140.98L663.50 141.16L664.00 141.33L664.50 141.36L665.00 141.34L665.50 141.32L666.00 141.20L666.50 141.02L667.00 140.85L667.50 140.67L668.00 140.49L668.50 140.32L669.00 140.12L669.50 139.88L670.00 139.63" fill="none" stroke="#2424b8" stroke-width="1.5" stroke-linejoin="round"/>
<line x1="522.5" y1="26.6" x2="550.7" y2="26.6" stroke="#ff1a1a" stroke-width="1.2"/>
<text x="554.2" y="30.900000000000002" font-size="12.5" text-anchor="start" font-weight="normal" fill="#1a1a1a" >TaAlS-1 dry</text>
<line x1="522.5" y1="41.9" x2="550.7" y2="41.9" stroke="#2424b8" stroke-width="1.2"/>
<text x="554.2" y="46.2" font-size="12.5" text-anchor="start" font-weight="normal" fill="#1a1a1a" >TaS-1 + MeOH rt</text>
<line x1="522.5" y1="57.2" x2="550.7" y2="57.2" stroke="#1a8a1a" stroke-width="1.2"/>
<text x="554.2" y="61.5" font-size="12.5" text-anchor="start" font-weight="normal" fill="#1a1a1a" >TaAlS-1 + MeOH rt</text>
<line x1="522.5" y1="72.5" x2="550.7" y2="72.5" stroke="#000000" stroke-width="1.2"/>
<text x="554.2" y="76.8" font-size="12.5" text-anchor="start" font-weight="normal" fill="#1a1a1a" >TaS-1 dry</text>
<line x1="45.3" y1="267.6" x2="323.7" y2="267.6" stroke="#5a5a5a" stroke-width="1.4" stroke-linecap="square"/>
<line x1="45.3" y1="473" x2="323.7" y2="473" stroke="#9a9a9a" stroke-width="1.8" stroke-linecap="square"/>
<line x1="323.7" y1="267.6" x2="323.7" y2="473" stroke="#9a9a9a" stroke-width="1.8" stroke-linecap="square"/>
<line x1="45.3" y1="267.6" x2="45.3" y2="473" stroke="#5a5a5a" stroke-width="1.4" stroke-linecap="square"/>
<line x1="41.1" y1="472.9" x2="45.3" y2="472.9" stroke="#404040" stroke-width="1.1"/>
<text x="38.6" y="477.09999999999997" font-size="12.5" text-anchor="end" font-weight="normal" fill="#1a1a1a" >0.0</text>
<line x1="41.1" y1="438.66666666666663" x2="45.3" y2="438.66666666666663" stroke="#404040" stroke-width="1.1"/>
<text x="38.6" y="442.8666666666666" font-size="12.5" text-anchor="end" font-weight="normal" fill="#1a1a1a" >0.5</text>
<line x1="41.1" y1="404.4333333333333" x2="45.3" y2="404.4333333333333" stroke="#404040" stroke-width="1.1"/>
<text x="38.6" y="408.63333333333327" font-size="12.5" text-anchor="end" font-weight="normal" fill="#1a1a1a" >1.0</text>
<line x1="41.1" y1="370.2" x2="45.3" y2="370.2" stroke="#404040" stroke-width="1.1"/>
<text x="38.6" y="374.4" font-size="12.5" text-anchor="end" font-weight="normal" fill="#1a1a1a" >1.5</text>
<line x1="41.1" y1="335.96666666666664" x2="45.3" y2="335.96666666666664" stroke="#404040" stroke-width="1.1"/>
<text x="38.6" y="340.16666666666663" font-size="12.5" text-anchor="end" font-weight="normal" fill="#1a1a1a" >2.0</text>
<line x1="41.1" y1="301.7333333333333" x2="45.3" y2="301.7333333333333" stroke="#404040" stroke-width="1.1"/>
<text x="38.6" y="305.9333333333333" font-size="12.5" text-anchor="end" font-weight="normal" fill="#1a1a1a" >2.5</text>
<line x1="41.1" y1="267.5" x2="45.3" y2="267.5" stroke="#404040" stroke-width="1.1"/>
<text x="38.6" y="271.7" font-size="12.5" text-anchor="end" font-weight="normal" fill="#1a1a1a" >3.0</text>
<line x1="45.4" y1="473" x2="45.4" y2="476.6" stroke="#383838" stroke-width="1.1"/>
<text x="45.4" y="489.8" font-size="12.5" text-anchor="middle" font-weight="normal" fill="#1a1a1a" >9,860</text>
<line x1="115.0" y1="473" x2="115.0" y2="476.6" stroke="#383838" stroke-width="1.1"/>
<text x="115.0" y="489.8" font-size="12.5" text-anchor="middle" font-weight="normal" fill="#1a1a1a" >9,880</text>
<line x1="184.6" y1="473" x2="184.6" y2="476.6" stroke="#383838" stroke-width="1.1"/>
<text x="184.6" y="489.8" font-size="12.5" text-anchor="middle" font-weight="normal" fill="#1a1a1a" >9,900</text>
<line x1="254.2" y1="473" x2="254.2" y2="476.6" stroke="#383838" stroke-width="1.1"/>
<text x="254.2" y="489.8" font-size="12.5" text-anchor="middle" font-weight="normal" fill="#1a1a1a" >9,920</text>
<line x1="323.79999999999995" y1="473" x2="323.79999999999995" y2="476.6" stroke="#383838" stroke-width="1.1"/>
<text x="323.79999999999995" y="489.8" font-size="12.5" text-anchor="middle" font-weight="normal" fill="#1a1a1a" >9,940</text>
<text x="184.6" y="505.7" font-size="12.5" text-anchor="middle" font-weight="normal" fill="#1a1a1a" >Energy (mV)</text>
<text transform="translate(9.4,370.2) rotate(-90)" font-size="12.5" text-anchor="middle" fill="#1a1a1a">Norm. absorption (a.u.)</text>
<text x="1.5" y="267.6" font-size="14" text-anchor="start" font-weight="bold" fill="#000" >c</text>
<path d="M45.50 472.33L45.90 472.31L46.30 472.28L46.69 472.26L47.09 472.23L47.49 472.14L47.89 472.05L48.28 471.96L48.68 471.87L49.08 471.79L49.48 471.72L49.87 471.64L50.27 471.56L50.67 471.59L51.07 471.63L51.47 471.66L51.86 471.69L52.26 471.66L52.66 471.62L53.06 471.58L53.45 471.54L53.85 471.51L54.25 471.49L54.65 471.46L55.05 471.44L55.44 471.37L55.84 471.30L56.24 471.23L56.64 471.16L57.03 471.09L57.43 471.02L57.83 470.95L58.23 470.88L58.62 470.78L59.02 470.68L59.42 470.58L59.82 470.48L60.22 470.62L60.61 470.83L61.01 471.03L61.41 471.23L61.81 471.31L62.20 471.35L62.60 471.39L63.00 471.42L63.40 471.43L63.79 471.43L64.19 471.43L64.59 471.43L64.99 471.39L65.39 471.33L65.78 471.26L66.18 471.20L66.58 471.03L66.98 470.81L67.37 470.60L67.77 470.38L68.17 470.16L68.57 469.94L68.96 469.73L69.36 469.51L69.76 469.41L70.16 469.38L70.56 469.35L70.95 469.32L71.35 469.29L71.75 469.26L72.15 469.23L72.54 469.20L72.94 469.16L73.34 469.12L73.74 469.07L74.14 469.02L74.53 468.98L74.93 468.94L75.33 468.90L75.73 468.85L76.12 468.74L76.52 468.58L76.92 468.41L77.32 468.24L77.71 468.16L78.11 468.16L78.51 468.15L78.91 468.14L79.31 468.04L79.70 467.87L80.10 467.69L80.50 467.51L80.90 467.39L81.29 467.31L81.69 467.24L82.09 467.16L82.49 467.07L82.88 466.96L83.28 466.85L83.68 466.73L84.08 466.60L84.48 466.44L84.87 466.27L85.27 466.10L85.67 465.93L86.07 465.75L86.46 465.57L86.86 465.38L87.26 465.17L87.66 464.95L88.06 464.72L88.45 464.49L88.85 464.23L89.25 463.95L89.65 463.65L90.04 463.35L90.44 463.05L90.84 462.75L91.24 462.45L91.63 462.14L92.03 461.92L92.43 461.88L92.83 461.84L93.23 461.79L93.62 461.74L94.02 461.69L94.42 461.63L94.82 461.58L95.21 461.47L95.61 461.24L96.01 461.02L96.41 460.80L96.80 460.56L97.20 460.26L97.60 459.96L98.00 459.67L98.40 459.35L98.79 459.01L99.19 458.65L99.59 458.27L99.99 457.86L100.38 457.41L100.78 456.93L101.18 456.42L101.58 455.94L101.97 455.57L102.37 455.19L102.77 454.81L103.17 454.41L103.57 453.92L103.96 453.43L104.36 452.93L104.76 452.43L105.16 451.91L105.55 451.38L105.95 450.82L106.35 450.23L106.75 449.58L107.15 448.91L107.54 448.21L107.94 447.50L108.34 446.85L108.74 446.21L109.13 445.58L109.53 444.96L109.93 444.28L110.33 443.59L110.72 442.89L111.12 442.14L111.52 441.35L111.92 440.45L112.32 439.42L112.71 438.27L113.11 437.04L113.51 435.72L113.91 434.33L114.30 432.92L114.70 431.57L115.10 430.21L115.50 428.83L115.89 427.40L116.29 425.95L116.69 424.42L117.09 422.80L117.49 421.07L117.88 418.99L118.28 416.47L118.68 414.26L119.08 411.94L119.47 409.54L119.87 407.06L120.27 404.48L120.67 401.79L121.07 398.98L121.46 396.01L121.86 392.92L122.26 389.83L122.66 386.82L123.05 383.93L123.45 381.27L123.85 378.79L124.25 376.45L124.64 374.20L125.04 371.99L125.44 369.65L125.84 366.99L126.24 364.07L126.63 360.98L127.03 357.83L127.43 354.84L127.83 352.13L128.22 349.61L128.62 347.23L129.02 344.88L129.42 342.49L129.81 340.10L130.21 337.78L130.61 335.58L131.01 333.54L131.41 331.70L131.80 330.02L132.20 328.48L132.60 327.09L133.00 325.84L133.39 324.77L133.79 323.82L134.19 322.98L134.59 322.23L134.98 321.57L135.38 320.99L135.78 320.48L136.18 320.03L136.58 319.65L136.97 319.36L137.37 319.18L137.77 319.10L138.17 319.12L138.56 319.25L138.96 319.48L139.36 319.84L139.76 320.29L140.16 320.85L140.55 321.50L140.95 322.28L141.35 323.21L141.75 324.27L142.14 325.48L142.54 326.82L142.94 328.29L143.34 329.80L143.73 331.32L144.13 332.81L144.53 334.24L144.93 335.63L145.33 337.02L145.72 338.47L146.12 339.99L146.52 341.60L146.92 343.30L147.31 345.03L147.71 346.75L148.11 348.46L148.51 350.12L148.90 351.73L149.30 353.32L149.70 354.91L150.10 356.48L150.50 358.06L150.89 359.65L151.29 361.24L151.69 362.84L152.09 364.45L152.48 366.07L152.88 367.69L153.28 369.30L153.68 370.90L154.08 372.48L154.47 374.03L154.87 375.54L155.27 377.01L155.67 378.45L156.06 379.85L156.46 381.21L156.86 382.53L157.26 383.82L157.65 385.08L158.05 386.29L158.45 387.47L158.85 388.59L159.25 389.67L159.64 390.70L160.04 391.04L160.44 391.80L160.84 392.61L161.23 393.56L161.63 394.48L162.03 395.38L162.43 396.25L162.82 397.07L163.22 397.89L163.62 398.69L164.02 399.48L164.42 400.27L164.81 401.02L165.21 401.73L165.61 402.40L166.01 403.02L166.40 403.59L166.80 404.12L167.20 404.61L167.60 405.03L167.99 405.42L168.39 405.80L168.79 406.17L169.19 406.55L169.59 406.92L169.98 407.30L170.38 407.62L170.78 407.80L171.18 407.97L171.57 408.13L171.97 408.29L172.37 408.44L172.77 408.58L173.17 408.72L173.56 408.87L173.96 409.13L174.36 409.39L174.76 409.64L175.15 409.87L175.55 410.04L175.95 410.20L176.35 410.36L176.74 410.53L177.14 410.78L177.54 411.02L177.94 411.26L178.34 411.51L178.73 411.78L179.13 412.06L179.53 412.34L179.93 412.60L180.32 412.74L180.72 412.88L181.12 413.02L181.52 413.16L181.91 413.26L182.31 413.37L182.71 413.48L183.11 413.60L183.51 413.92L183.90 414.25L184.30 414.57L184.70 414.90L185.10 415.13L185.49 415.36L185.89 415.59L186.29 415.83L186.69 416.01L187.09 416.19L187.48 416.36L187.88 416.54L188.28 416.71L188.68 416.88L189.07 417.04L189.47 417.20L189.87 417.38L190.27 417.56L190.66 417.73L191.06 417.89L191.46 418.07L191.86 418.25L192.26 418.42L192.65 418.58L193.05 418.78L193.45 418.97L193.85 419.16L194.24 419.34L194.64 419.43L195.04 419.49L195.44 419.55L195.83 419.61L196.23 419.65L196.63 419.69L197.03 419.72L197.43 419.76L197.82 419.80L198.22 419.84L198.62 419.88L199.02 419.92L199.41 419.90L199.81 419.86L200.21 419.82L200.61 419.79L201.01 419.89L201.40 420.03L201.80 420.16L202.20 420.30L202.60 420.45L202.99 420.60L203.39 420.74L203.79 420.88L204.19 420.97L204.58 421.03L204.98 421.09L205.38 421.14L205.78 421.14L206.18 421.11L206.57 421.08L206.97 421.04L207.37 421.13L207.77 421.28L208.16 421.43L208.56 421.57L208.96 421.58L209.36 421.51L209.75 421.44L210.15 421.37L210.55 421.25L210.95 421.10L211.35 420.94L211.74 420.79L212.14 420.70L212.54 420.66L212.94 420.62L213.33 420.58L213.73 420.65L214.13 420.79L214.53 420.93L214.92 421.08L215.32 421.17L215.72 421.22L216.12 421.27L216.52 421.33L216.91 421.36L217.31 421.37L217.71 421.39L218.11 421.40L218.50 421.44L218.90 421.49L219.30 421.54L219.70 421.60L220.10 421.65L220.49 421.70L220.89 421.76L221.29 421.81L221.69 421.88L222.08 421.95L222.48 422.03L222.88 422.10L223.28 422.13L223.67 422.11L224.07 422.08L224.47 422.05L224.87 422.07L225.27 422.17L225.66 422.27L226.06 422.36L226.46 422.46L226.86 422.59L227.25 422.71L227.65 422.83L228.05 422.93L228.45 423.00L228.84 423.06L229.24 423.13L229.64 423.08L230.04 422.84L230.44 422.59L230.83 422.35L231.23 422.15L231.63 422.03L232.03 421.92L232.42 421.81L232.82 421.74L233.22 421.76L233.62 421.78L234.02 421.80L234.41 421.84L234.81 421.92L235.21 422.01L235.61 422.09L236.00 422.13L236.40 422.04L236.80 421.95L237.20 421.86L237.59 421.80L237.99 421.80L238.39 421.81L238.79 421.82L239.19 421.83L239.58 421.83L239.98 421.84L240.38 421.85L240.78 421.84L241.17 421.75L241.57 421.66L241.97 421.57L242.37 421.50L242.76 421.50L243.16 421.50L243.56 421.50L243.96 421.49L244.36 421.47L244.75 421.44L245.15 421.42L245.55 421.39L245.95 421.33L246.34 421.27L246.74 421.20L247.14 421.15L247.54 421.17L247.93 421.18L248.33 421.19L248.73 421.21L249.13 421.30L249.53 421.38L249.92 421.46L250.32 421.54L250.72 421.60L251.12 421.65L251.51 421.70L251.91 421.74L252.31 421.67L252.71 421.59L253.11 421.50L253.50 421.42L253.90 421.25L254.30 421.07L254.70 420.89L255.09 420.71L255.49 420.73L255.89 420.75L256.29 420.77L256.68 420.79L257.08 420.86L257.48 420.93L257.88 420.99L258.28 421.05L258.67 420.97L259.07 420.89L259.47 420.80L259.87 420.70L260.26 420.59L260.66 420.47L261.06 420.34L261.46 420.21L261.85 420.12L262.25 420.03L262.65 419.94L263.05 419.84L263.45 419.76L263.84 419.67L264.24 419.59L264.64 419.50L265.04 419.33L265.43 419.14L265.83 418.95L266.23 418.77L266.63 418.56L267.03 418.34L267.42 418.13L267.82 417.92L268.22 417.85L268.62 417.82L269.01 417.79L269.41 417.76L269.81 417.78L270.21 417.81L270.60 417.85L271.00 417.89L271.40 417.82L271.80 417.71L272.20 417.61L272.59 417.51L272.99 417.43L273.39 417.37L273.79 417.31L274.18 417.26L274.58 417.16L274.98 417.03L275.38 416.92L275.77 416.80L276.17 416.71L276.57 416.63L276.97 416.55L277.37 416.48L277.76 416.35L278.16 416.18L278.56 416.02L278.96 415.86L279.35 415.79L279.75 415.77L280.15 415.74L280.55 415.72L280.94 415.79L281.34 415.91L281.74 416.03L282.14 416.15L282.54 416.11L282.93 415.94L283.33 415.78L283.73 415.62L284.13 415.44L284.52 415.25L284.92 415.06L285.32 414.87L285.72 414.75L286.12 414.68L286.51 414.61L286.91 414.54L287.31 414.50L287.71 414.48L288.10 414.46L288.50 414.43L288.90 414.36L289.30 414.23L289.69 414.09L290.09 413.96L290.49 413.78L290.89 413.56L291.29 413.33L291.68 413.11L292.08 412.90L292.48 412.72L292.88 412.55L293.27 412.37L293.67 412.25L294.07 412.20L294.47 412.15L294.86 412.10L295.26 412.05L295.66 412.00L296.06 411.94L296.46 411.89L296.85 411.85L297.25 411.82L297.65 411.78L298.05 411.76L298.44 411.74L298.84 411.73L299.24 411.73L299.64 411.73L300.04 411.72L300.43 411.69L300.83 411.66L301.23 411.63L301.63 411.61L302.02 411.59L302.42 411.58L302.82 411.56L303.22 411.51L303.61 411.36L304.01 411.20L304.41 411.05L304.81 410.95L305.21 410.98L305.60 411.00L306.00 411.03L306.40 411.07L306.80 411.13L307.19 411.20L307.59 411.27L307.99 411.30L308.39 411.22L308.78 411.14L309.18 411.05L309.58 410.97L309.98 410.90L310.38 410.82L310.77 410.74L311.17 410.68L311.57 410.64L311.97 410.60L312.36 410.56L312.76 410.54L313.16 410.57L313.56 410.60L313.95 410.63L314.35 410.65L314.75 410.53L315.15 410.41L315.55 410.30L315.94 410.19L316.34 410.19L316.74 410.18L317.14 410.18L317.53 410.18L317.93 410.19L318.33 410.21L318.73 410.23L319.13 410.25L319.52 410.21L319.92 410.17L320.32 410.14L320.72 410.10L321.11 410.01L321.51 409.93L321.91 409.85L322.31 409.77L322.70 409.78L323.10 409.79L323.50 409.80" fill="none" stroke="#000000" stroke-width="1.35" stroke-linejoin="round"/>
<path d="M45.50 472.19L45.90 472.21L46.30 472.23L46.69 472.25L47.09 472.27L47.49 472.20L47.89 472.12L48.28 472.03L48.68 471.95L49.08 471.83L49.48 471.71L49.87 471.59L50.27 471.47L50.67 471.48L51.07 471.50L51.47 471.51L51.86 471.53L52.26 471.52L52.66 471.50L53.06 471.49L53.45 471.47L53.85 471.44L54.25 471.41L54.65 471.38L55.05 471.35L55.44 471.27L55.84 471.18L56.24 471.08L56.64 470.99L57.03 470.90L57.43 470.81L57.83 470.72L58.23 470.62L58.62 470.53L59.02 470.44L59.42 470.35L59.82 470.27L60.22 470.36L60.61 470.50L61.01 470.64L61.41 470.78L61.81 470.83L62.20 470.86L62.60 470.88L63.00 470.91L63.40 470.88L63.79 470.83L64.19 470.78L64.59 470.74L64.99 470.72L65.39 470.72L65.78 470.72L66.18 470.71L66.58 470.58L66.98 470.40L67.37 470.21L67.77 470.03L68.17 469.83L68.57 469.63L68.96 469.43L69.36 469.23L69.76 469.15L70.16 469.12L70.56 469.09L70.95 469.06L71.35 469.03L71.75 468.99L72.15 468.95L72.54 468.91L72.94 468.89L73.34 468.88L73.74 468.87L74.14 468.86L74.53 468.82L74.93 468.76L75.33 468.69L75.73 468.62L76.12 468.47L76.52 468.24L76.92 468.01L77.32 467.78L77.71 467.68L78.11 467.68L78.51 467.67L78.91 467.67L79.31 467.59L79.70 467.45L80.10 467.31L80.50 467.16L80.90 467.07L81.29 467.04L81.69 467.01L82.09 466.97L82.49 466.89L82.88 466.76L83.28 466.63L83.68 466.49L84.08 466.33L84.48 466.13L84.87 465.92L85.27 465.72L85.67 465.53L86.07 465.37L86.46 465.21L86.86 465.04L87.26 464.86L87.66 464.68L88.06 464.49L88.45 464.30L88.85 464.08L89.25 463.82L89.65 463.55L90.04 463.28L90.44 463.00L90.84 462.73L91.24 462.44L91.63 462.15L92.03 461.95L92.43 461.90L92.83 461.86L93.23 461.81L93.62 461.76L94.02 461.68L94.42 461.61L94.82 461.53L95.21 461.40L95.61 461.10L96.01 460.81L96.41 460.51L96.80 460.23L97.20 459.95L97.60 459.67L98.00 459.39L98.40 459.10L98.79 458.79L99.19 458.46L99.59 458.11L99.99 457.72L100.38 457.25L100.78 456.76L101.18 456.25L101.58 455.75L101.97 455.36L102.37 454.96L102.77 454.55L103.17 454.12L103.57 453.59L103.96 453.05L104.36 452.51L104.76 451.96L105.16 451.42L105.55 450.85L105.95 450.25L106.35 449.62L106.75 449.00L107.15 448.34L107.54 447.64L107.94 446.92L108.34 446.21L108.74 445.49L109.13 444.79L109.53 444.10L109.93 443.42L110.33 442.74L110.72 442.02L111.12 441.26L111.52 440.40L111.92 439.42L112.32 438.32L112.71 437.12L113.11 435.78L113.51 434.37L113.91 432.89L114.30 431.39L114.70 430.03L115.10 428.64L115.50 427.22L115.89 425.70L116.29 424.20L116.69 422.63L117.09 421.00L117.49 419.31L117.88 417.22L118.28 414.68L118.68 412.49L119.08 410.20L119.47 407.80L119.87 405.32L120.27 402.74L120.67 400.05L121.07 397.25L121.46 394.30L121.86 391.23L122.26 388.16L122.66 385.12L123.05 382.18L123.45 379.39L123.85 376.74L124.25 374.20L124.64 371.73L125.04 369.30L125.44 366.78L125.84 363.99L126.24 360.99L126.63 357.87L127.03 354.71L127.43 351.71L127.83 348.98L128.22 346.44L128.62 344.01L129.02 341.63L129.42 339.21L129.81 336.79L130.21 334.46L130.61 332.23L131.01 330.15L131.41 328.25L131.80 326.49L132.20 324.87L132.60 323.41L133.00 322.11L133.39 321.03L133.79 320.08L134.19 319.26L134.59 318.55L134.98 317.93L135.38 317.40L135.78 316.93L136.18 316.52L136.58 316.17L136.97 315.91L137.37 315.75L137.77 315.68L138.17 315.71L138.56 315.84L138.96 316.08L139.36 316.46L139.76 316.96L140.16 317.56L140.55 318.28L140.95 319.12L141.35 320.10L141.75 321.21L142.14 322.44L142.54 323.80L142.94 325.28L143.34 326.80L143.73 328.33L144.13 329.83L144.53 331.28L144.93 332.68L145.33 334.08L145.72 335.51L146.12 337.01L146.52 338.59L146.92 340.26L147.31 341.98L147.71 343.72L148.11 345.45L148.51 347.16L148.90 348.85L149.30 350.52L149.70 352.19L150.10 353.87L150.50 355.54L150.89 357.23L151.29 358.92L151.69 360.62L152.09 362.32L152.48 364.02L152.88 365.70L153.28 367.36L153.68 368.99L154.08 370.58L154.47 372.14L154.87 373.64L155.27 375.09L155.67 376.50L156.06 377.88L156.46 379.20L156.86 380.49L157.26 381.74L157.65 382.96L158.05 384.15L158.45 385.29L158.85 386.39L159.25 387.45L159.64 388.46L160.04 388.76L160.44 389.56L160.84 390.40L161.23 391.36L161.63 392.29L162.03 393.21L162.43 394.09L162.82 394.91L163.22 395.73L163.62 396.53L164.02 397.30L164.42 398.04L164.81 398.75L165.21 399.41L165.61 400.05L166.01 400.68L166.40 401.25L166.80 401.79L167.20 402.30L167.60 402.79L167.99 403.25L168.39 403.70L168.79 404.13L169.19 404.56L169.59 404.98L169.98 405.40L170.38 405.77L170.78 405.93L171.18 406.08L171.57 406.24L171.97 406.38L172.37 406.52L172.77 406.64L173.17 406.77L173.56 406.91L173.96 407.19L174.36 407.47L174.76 407.74L175.15 408.00L175.55 408.24L175.95 408.47L176.35 408.69L176.74 408.91L177.14 409.11L177.54 409.30L177.94 409.49L178.34 409.68L178.73 409.96L179.13 410.24L179.53 410.51L179.93 410.77L180.32 410.91L180.72 411.05L181.12 411.19L181.52 411.32L181.91 411.45L182.31 411.58L182.71 411.71L183.11 411.84L183.51 412.21L183.90 412.57L184.30 412.94L184.70 413.31L185.10 413.57L185.49 413.82L185.89 414.08L186.29 414.33L186.69 414.58L187.09 414.82L187.48 415.06L187.88 415.29L188.28 415.43L188.68 415.57L189.07 415.69L189.47 415.82L189.87 415.99L190.27 416.16L190.66 416.33L191.06 416.49L191.46 416.64L191.86 416.78L192.26 416.92L192.65 417.04L193.05 417.22L193.45 417.40L193.85 417.57L194.24 417.74L194.64 417.81L195.04 417.87L195.44 417.93L195.83 417.98L196.23 418.00L196.63 418.01L197.03 418.02L197.43 418.04L197.82 418.04L198.22 418.03L198.62 418.03L199.02 418.04L199.41 418.00L199.81 417.97L200.21 417.93L200.61 417.90L201.01 418.03L201.40 418.20L201.80 418.38L202.20 418.55L202.60 418.73L202.99 418.90L203.39 419.07L203.79 419.24L204.19 419.33L204.58 419.39L204.98 419.44L205.38 419.48L205.78 419.48L206.18 419.47L206.57 419.44L206.97 419.42L207.37 419.53L207.77 419.70L208.16 419.88L208.56 420.04L208.96 420.07L209.36 420.03L209.75 419.98L210.15 419.93L210.55 419.82L210.95 419.68L211.35 419.53L211.74 419.39L212.14 419.31L212.54 419.25L212.94 419.21L213.33 419.16L213.73 419.20L214.13 419.30L214.53 419.41L214.92 419.52L215.32 419.59L215.72 419.62L216.12 419.66L216.52 419.70L216.91 419.74L217.31 419.79L217.71 419.84L218.11 419.90L218.50 419.98L218.90 420.10L219.30 420.22L219.70 420.34L220.10 420.39L220.49 420.37L220.89 420.35L221.29 420.33L221.69 420.37L222.08 420.46L222.48 420.56L222.88 420.65L223.28 420.70L223.67 420.71L224.07 420.71L224.47 420.70L224.87 420.72L225.27 420.76L225.66 420.80L226.06 420.84L226.46 420.91L226.86 421.04L227.25 421.16L227.65 421.28L228.05 421.38L228.45 421.45L228.84 421.52L229.24 421.58L229.64 421.55L230.04 421.34L230.44 421.12L230.83 420.91L231.23 420.74L231.63 420.65L232.03 420.57L232.42 420.49L232.82 420.43L233.22 420.42L233.62 420.41L234.02 420.40L234.41 420.42L234.81 420.51L235.21 420.60L235.61 420.69L236.00 420.74L236.40 420.65L236.80 420.57L237.20 420.48L237.59 420.43L237.99 420.46L238.39 420.48L238.79 420.51L239.19 420.54L239.58 420.60L239.98 420.66L240.38 420.72L240.78 420.76L241.17 420.73L241.57 420.69L241.97 420.66L242.37 420.63L242.76 420.62L243.16 420.61L243.56 420.60L243.96 420.59L244.36 420.56L244.75 420.53L245.15 420.50L245.55 420.47L245.95 420.40L246.34 420.33L246.74 420.25L247.14 420.19L247.54 420.24L247.93 420.28L248.33 420.32L248.73 420.36L249.13 420.46L249.53 420.55L249.92 420.64L250.32 420.73L250.72 420.76L251.12 420.79L251.51 420.81L251.91 420.83L252.31 420.72L252.71 420.60L253.11 420.47L253.50 420.35L253.90 420.21L254.30 420.07L254.70 419.93L255.09 419.79L255.49 419.83L255.89 419.88L256.29 419.92L256.68 419.97L257.08 419.99L257.48 420.02L257.88 420.04L258.28 420.06L258.67 420.01L259.07 419.95L259.47 419.88L259.87 419.82L260.26 419.66L260.66 419.50L261.06 419.33L261.46 419.16L261.85 419.01L262.25 418.85L262.65 418.70L263.05 418.54L263.45 418.45L263.84 418.37L264.24 418.30L264.64 418.22L265.04 418.06L265.43 417.89L265.83 417.72L266.23 417.55L266.63 417.40L267.03 417.25L267.42 417.11L267.82 416.96L268.22 416.91L268.62 416.90L269.01 416.88L269.41 416.86L269.81 416.89L270.21 416.92L270.60 416.96L271.00 417.00L271.40 416.90L271.80 416.76L272.20 416.62L272.59 416.48L272.99 416.36L273.39 416.25L273.79 416.14L274.18 416.04L274.58 415.90L274.98 415.74L275.38 415.59L275.77 415.44L276.17 415.37L276.57 415.34L276.97 415.31L277.37 415.28L277.76 415.18L278.16 415.04L278.56 414.90L278.96 414.76L279.35 414.72L279.75 414.74L280.15 414.75L280.55 414.77L280.94 414.85L281.34 414.97L281.74 415.09L282.14 415.20L282.54 415.13L282.93 414.91L283.33 414.70L283.73 414.48L284.13 414.25L284.52 414.00L284.92 413.75L285.32 413.50L285.72 413.35L286.12 413.27L286.51 413.20L286.91 413.13L287.31 413.08L287.71 413.04L288.10 413.01L288.50 412.97L288.90 412.93L289.30 412.89L289.69 412.85L290.09 412.80L290.49 412.69L290.89 412.50L291.29 412.31L291.68 412.12L292.08 411.91L292.48 411.67L292.88 411.44L293.27 411.20L293.67 411.04L294.07 410.98L294.47 410.91L294.86 410.85L295.26 410.82L295.66 410.82L296.06 410.83L296.46 410.84L296.85 410.84L297.25 410.81L297.65 410.79L298.05 410.78L298.44 410.76L298.84 410.72L299.24 410.68L299.64 410.64L300.04 410.58L300.43 410.47L300.83 410.37L301.23 410.26L301.63 410.17L302.02 410.10L302.42 410.03L302.82 409.96L303.22 409.88L303.61 409.78L304.01 409.68L304.41 409.58L304.81 409.54L305.21 409.66L305.60 409.77L306.00 409.88L306.40 409.99L306.80 410.09L307.19 410.18L307.59 410.27L307.99 410.33L308.39 410.22L308.78 410.12L309.18 410.02L309.58 409.92L309.98 409.82L310.38 409.72L310.77 409.63L311.17 409.55L311.57 409.55L311.97 409.54L312.36 409.54L312.76 409.54L313.16 409.54L313.56 409.54L313.95 409.54L314.35 409.51L314.75 409.30L315.15 409.10L315.55 408.89L315.94 408.71L316.34 408.72L316.74 408.74L317.14 408.76L317.53 408.78L317.93 408.86L318.33 408.94L318.73 409.01L319.13 409.09L319.52 409.08L319.92 409.08L320.32 409.07L320.72 409.06L321.11 409.01L321.51 408.96L321.91 408.90L322.31 408.85L322.70 408.83L323.10 408.80L323.50 408.78" fill="none" stroke="#ff1a1a" stroke-width="1.35" stroke-linejoin="round"/>
<path d="M45.50 471.68L45.90 471.65L46.30 471.63L46.69 471.60L47.09 471.57L47.49 471.46L47.89 471.35L48.28 471.24L48.68 471.12L49.08 471.03L49.48 470.93L49.87 470.83L50.27 470.73L50.67 470.75L51.07 470.77L51.47 470.79L51.86 470.82L52.26 470.71L52.66 470.60L53.06 470.48L53.45 470.37L53.85 470.34L54.25 470.33L54.65 470.32L55.05 470.30L55.44 470.28L55.84 470.26L56.24 470.24L56.64 470.22L57.03 470.15L57.43 470.07L57.83 470.00L58.23 469.92L58.62 469.86L59.02 469.80L59.42 469.74L59.82 469.68L60.22 469.80L60.61 469.97L61.01 470.14L61.41 470.31L61.81 470.31L62.20 470.26L62.60 470.21L63.00 470.16L63.40 470.15L63.79 470.16L64.19 470.17L64.59 470.18L64.99 470.21L65.39 470.25L65.78 470.30L66.18 470.34L66.58 470.16L66.98 469.90L67.37 469.63L67.77 469.36L68.17 469.11L68.57 468.86L68.96 468.61L69.36 468.37L69.76 468.27L70.16 468.26L70.56 468.25L70.95 468.24L71.35 468.21L71.75 468.17L72.15 468.13L72.54 468.09L72.94 468.06L73.34 468.03L73.74 468.01L74.14 467.98L74.53 467.93L74.93 467.88L75.33 467.83L75.73 467.77L76.12 467.64L76.52 467.44L76.92 467.24L77.32 467.04L77.71 466.93L78.11 466.90L78.51 466.86L78.91 466.82L79.31 466.74L79.70 466.62L80.10 466.50L80.50 466.38L80.90 466.30L81.29 466.27L81.69 466.23L82.09 466.19L82.49 466.10L82.88 465.95L83.28 465.80L83.68 465.64L84.08 465.48L84.48 465.32L84.87 465.15L85.27 464.98L85.67 464.82L86.07 464.68L86.46 464.53L86.86 464.38L87.26 464.22L87.66 464.04L88.06 463.86L88.45 463.68L88.85 463.45L89.25 463.15L89.65 462.84L90.04 462.54L90.44 462.24L90.84 461.99L91.24 461.72L91.63 461.45L92.03 461.23L92.43 461.11L92.83 460.98L93.23 460.85L93.62 460.73L94.02 460.65L94.42 460.56L94.82 460.47L95.21 460.35L95.61 460.14L96.01 459.93L96.41 459.72L96.80 459.47L97.20 459.14L97.60 458.80L98.00 458.45L98.40 458.08L98.79 457.65L99.19 457.20L99.59 456.73L99.99 456.24L100.38 455.72L100.78 455.18L101.18 454.62L101.58 454.09L101.97 453.67L102.37 453.24L102.77 452.81L103.17 452.37L103.57 451.84L103.96 451.32L104.36 450.79L104.76 450.25L105.16 449.73L105.55 449.17L105.95 448.58L106.35 447.93L106.75 447.25L107.15 446.51L107.54 445.72L107.94 444.86L108.34 443.98L108.74 443.09L109.13 442.20L109.53 441.34L109.93 440.42L110.33 439.49L110.72 438.51L111.12 437.48L111.52 436.39L111.92 435.20L112.32 433.93L112.71 432.57L113.11 431.11L113.51 429.60L113.91 428.04L114.30 426.47L114.70 424.95L115.10 423.37L115.50 421.68L115.89 419.75L116.29 417.76L116.69 415.77L117.09 413.86L117.49 412.03L117.88 410.00L118.28 407.68L118.68 405.58L119.08 403.36L119.47 400.99L119.87 398.50L120.27 395.91L120.67 393.23L121.07 390.46L121.46 387.60L121.86 384.64L122.26 381.59L122.66 378.48L123.05 375.30L123.45 372.04L123.85 368.71L124.25 365.38L124.64 362.06L125.04 358.77L125.44 355.52L125.84 352.24L126.24 348.95L126.63 345.68L127.03 342.49L127.43 339.47L127.83 336.66L128.22 333.99L128.62 331.42L129.02 328.89L129.42 326.35L129.81 323.84L130.21 321.42L130.61 319.10L131.01 316.88L131.41 314.74L131.80 312.67L132.20 310.72L132.60 308.98L133.00 307.50L133.39 306.36L133.79 305.44L134.19 304.70L134.59 304.12L134.98 303.67L135.38 303.33L135.78 303.03L136.18 302.78L136.58 302.57L136.97 302.41L137.37 302.32L137.77 302.28L138.17 302.33L138.56 302.48L138.96 302.77L139.36 303.24L139.76 303.89L140.16 304.69L140.55 305.65L140.95 306.74L141.35 307.94L141.75 309.20L142.14 310.55L142.54 311.97L142.94 313.47L143.34 315.02L143.73 316.60L144.13 318.15L144.53 319.68L144.93 321.13L145.33 322.54L145.72 323.93L146.12 325.33L146.52 326.79L146.92 328.36L147.31 330.05L147.71 331.83L148.11 333.68L148.51 335.59L148.90 337.55L149.30 339.55L149.70 341.57L150.10 343.63L150.50 345.73L150.89 347.86L151.29 349.99L151.69 352.11L152.09 354.20L152.48 356.25L152.88 358.20L153.28 360.07L153.68 361.85L154.08 363.55L154.47 365.15L154.87 366.65L155.27 368.07L155.67 369.44L156.06 370.74L156.46 371.98L156.86 373.18L157.26 374.34L157.65 375.48L158.05 376.59L158.45 377.66L158.85 378.72L159.25 379.74L159.64 380.75L160.04 381.11L160.44 381.97L160.84 382.84L161.23 383.76L161.63 384.67L162.03 385.54L162.43 386.40L162.82 387.22L163.22 388.03L163.62 388.80L164.02 389.58L164.42 390.40L164.81 391.19L165.21 391.95L165.61 392.69L166.01 393.40L166.40 394.08L166.80 394.74L167.20 395.35L167.60 395.87L167.99 396.37L168.39 396.85L168.79 397.33L169.19 397.79L169.59 398.24L169.98 398.69L170.38 399.10L170.78 399.36L171.18 399.61L171.57 399.86L171.97 400.11L172.37 400.43L172.77 400.75L173.17 401.05L173.56 401.37L173.96 401.75L174.36 402.13L174.76 402.50L175.15 402.85L175.55 403.12L175.95 403.38L176.35 403.64L176.74 403.89L177.14 404.15L177.54 404.41L177.94 404.66L178.34 404.92L178.73 405.25L179.13 405.58L179.53 405.90L179.93 406.22L180.32 406.46L180.72 406.70L181.12 406.94L181.52 407.18L181.91 407.41L182.31 407.65L182.71 407.89L183.11 408.13L183.51 408.49L183.90 408.85L184.30 409.22L184.70 409.59L185.10 409.85L185.49 410.11L185.89 410.36L186.29 410.62L186.69 410.85L187.09 411.07L187.48 411.28L187.88 411.50L188.28 411.70L188.68 411.90L189.07 412.09L189.47 412.28L189.87 412.51L190.27 412.74L190.66 412.96L191.06 413.17L191.46 413.30L191.86 413.40L192.26 413.50L192.65 413.59L193.05 413.77L193.45 413.94L193.85 414.11L194.24 414.27L194.64 414.37L195.04 414.45L195.44 414.52L195.83 414.58L196.23 414.65L196.63 414.71L197.03 414.77L197.43 414.83L197.82 414.85L198.22 414.87L198.62 414.89L199.02 414.92L199.41 414.90L199.81 414.87L200.21 414.84L200.61 414.83L201.01 414.92L201.40 415.04L201.80 415.17L202.20 415.30L202.60 415.44L202.99 415.58L203.39 415.71L203.79 415.84L204.19 415.95L204.58 416.06L204.98 416.16L205.38 416.25L205.78 416.28L206.18 416.29L206.57 416.30L206.97 416.29L207.37 416.40L207.77 416.55L208.16 416.70L208.56 416.85L208.96 416.87L209.36 416.81L209.75 416.76L210.15 416.70L210.55 416.60L210.95 416.47L211.35 416.34L211.74 416.21L212.14 416.13L212.54 416.09L212.94 416.05L213.33 416.01L213.73 416.07L214.13 416.19L214.53 416.32L214.92 416.46L215.32 416.57L215.72 416.66L216.12 416.76L216.52 416.86L216.91 416.95L217.31 417.03L217.71 417.11L218.11 417.19L218.50 417.30L218.90 417.42L219.30 417.54L219.70 417.66L220.10 417.76L220.49 417.82L220.89 417.89L221.29 417.95L221.69 417.99L222.08 418.01L222.48 418.02L222.88 418.03L223.28 418.03L223.67 418.02L224.07 418.01L224.47 417.99L224.87 418.02L225.27 418.12L225.66 418.21L226.06 418.31L226.46 418.41L226.86 418.53L227.25 418.65L227.65 418.77L228.05 418.86L228.45 418.92L228.84 418.97L229.24 419.03L229.64 419.00L230.04 418.81L230.44 418.62L230.83 418.44L231.23 418.28L231.63 418.17L232.03 418.07L232.42 417.96L232.82 417.89L233.22 417.87L233.62 417.86L234.02 417.85L234.41 417.86L234.81 417.94L235.21 418.01L235.61 418.09L236.00 418.14L236.40 418.10L236.80 418.07L237.20 418.04L237.59 418.02L237.99 418.04L238.39 418.07L238.79 418.10L239.19 418.12L239.58 418.12L239.98 418.12L240.38 418.12L240.78 418.12L241.17 418.08L241.57 418.04L241.97 418.01L242.37 417.98L242.76 418.03L243.16 418.07L243.56 418.11L243.96 418.15L244.36 418.15L244.75 418.16L245.15 418.16L245.55 418.15L245.95 418.04L246.34 417.93L246.74 417.81L247.14 417.71L247.54 417.76L247.93 417.81L248.33 417.86L248.73 417.91L249.13 418.00L249.53 418.08L249.92 418.16L250.32 418.23L250.72 418.22L251.12 418.21L251.51 418.20L251.91 418.18L252.31 418.13L252.71 418.07L253.11 418.01L253.50 417.95L253.90 417.84L254.30 417.73L254.70 417.62L255.09 417.50L255.49 417.51L255.89 417.51L256.29 417.52L256.68 417.52L257.08 417.55L257.48 417.57L257.88 417.60L258.28 417.62L258.67 417.60L259.07 417.57L259.47 417.53L259.87 417.50L260.26 417.40L260.66 417.29L261.06 417.18L261.46 417.07L261.85 416.94L262.25 416.80L262.65 416.67L263.05 416.53L263.45 416.43L263.84 416.34L264.24 416.25L264.64 416.15L265.04 416.04L265.43 415.92L265.83 415.81L266.23 415.69L266.63 415.49L267.03 415.27L267.42 415.06L267.82 414.84L268.22 414.78L268.62 414.76L269.01 414.74L269.41 414.72L269.81 414.76L270.21 414.82L270.60 414.88L271.00 414.94L271.40 414.86L271.80 414.73L272.20 414.61L272.59 414.48L272.99 414.35L273.39 414.22L273.79 414.08L274.18 413.95L274.58 413.78L274.98 413.60L275.38 413.42L275.77 413.24L276.17 413.16L276.57 413.12L276.97 413.09L277.37 413.05L277.76 412.92L278.16 412.73L278.56 412.55L278.96 412.36L279.35 412.28L279.75 412.25L280.15 412.22L280.55 412.20L280.94 412.31L281.34 412.51L281.74 412.71L282.14 412.91L282.54 412.89L282.93 412.72L283.33 412.56L283.73 412.39L284.13 412.20L284.52 411.99L284.92 411.78L285.32 411.56L285.72 411.40L286.12 411.29L286.51 411.18L286.91 411.07L287.31 411.02L287.71 411.04L288.10 411.05L288.50 411.07L288.90 411.05L289.30 411.01L289.69 410.97L290.09 410.92L290.49 410.77L290.89 410.51L291.29 410.25L291.68 409.98L292.08 409.72L292.48 409.45L292.88 409.17L293.27 408.90L293.67 408.72L294.07 408.65L294.47 408.58L294.86 408.51L295.26 408.45L295.66 408.39L296.06 408.34L296.46 408.29L296.85 408.23L297.25 408.13L297.65 408.04L298.05 407.95L298.44 407.89L298.84 407.88L299.24 407.88L299.64 407.88L300.04 407.86L300.43 407.80L300.83 407.74L301.23 407.69L301.63 407.62L302.02 407.52L302.42 407.42L302.82 407.33L303.22 407.23L303.61 407.11L304.01 406.99L304.41 406.88L304.81 406.83L305.21 406.95L305.60 407.06L306.00 407.18L306.40 407.31L306.80 407.43L307.19 407.56L307.59 407.68L307.99 407.76L308.39 407.64L308.78 407.52L309.18 407.41L309.58 407.30L309.98 407.17L310.38 407.05L310.77 406.93L311.17 406.84L311.57 406.84L311.97 406.86L312.36 406.87L312.76 406.88L313.16 406.88L313.56 406.89L313.95 406.90L314.35 406.88L314.75 406.74L315.15 406.59L315.55 406.45L315.94 406.33L316.34 406.34L316.74 406.36L317.14 406.38L317.53 406.40L317.93 406.43L318.33 406.46L318.73 406.48L319.13 406.51L319.52 406.51L319.92 406.50L320.32 406.50L320.72 406.50L321.11 406.42L321.51 406.35L321.91 406.27L322.31 406.20L322.70 406.25L323.10 406.30L323.50 406.34" fill="none" stroke="#1a1aff" stroke-width="1.35" stroke-linejoin="round"/>
<path d="M45.50 471.28L45.90 471.24L46.30 471.20L46.69 471.16L47.09 471.12L47.49 470.97L47.89 470.82L48.28 470.68L48.68 470.53L49.08 470.44L49.48 470.36L49.87 470.27L50.27 470.19L50.67 470.32L51.07 470.46L51.47 470.60L51.86 470.74L52.26 470.73L52.66 470.71L53.06 470.69L53.45 470.67L53.85 470.59L54.25 470.50L54.65 470.41L55.05 470.33L55.44 470.25L55.84 470.18L56.24 470.11L56.64 470.03L57.03 469.97L57.43 469.92L57.83 469.86L58.23 469.81L58.62 469.72L59.02 469.62L59.42 469.52L59.82 469.42L60.22 469.53L60.61 469.70L61.01 469.86L61.41 470.02L61.81 470.05L62.20 470.04L62.60 470.02L63.00 470.01L63.40 470.02L63.79 470.03L64.19 470.04L64.59 470.05L64.99 470.04L65.39 470.02L65.78 470.00L66.18 469.99L66.58 469.80L66.98 469.55L67.37 469.30L67.77 469.05L68.17 468.81L68.57 468.57L68.96 468.34L69.36 468.10L69.76 467.97L70.16 467.90L70.56 467.84L70.95 467.77L71.35 467.72L71.75 467.68L72.15 467.65L72.54 467.61L72.94 467.58L73.34 467.57L73.74 467.55L74.14 467.53L74.53 467.49L74.93 467.44L75.33 467.38L75.73 467.33L76.12 467.20L76.52 467.03L76.92 466.85L77.32 466.68L77.71 466.60L78.11 466.60L78.51 466.59L78.91 466.59L79.31 466.51L79.70 466.37L80.10 466.22L80.50 466.07L80.90 465.95L81.29 465.87L81.69 465.78L82.09 465.69L82.49 465.58L82.88 465.45L83.28 465.32L83.68 465.18L84.08 465.04L84.48 464.88L84.87 464.73L85.27 464.57L85.67 464.42L86.07 464.31L86.46 464.19L86.86 464.07L87.26 463.92L87.66 463.74L88.06 463.55L88.45 463.35L88.85 463.13L89.25 462.86L89.65 462.58L90.04 462.29L90.44 462.01L90.84 461.71L91.24 461.42L91.63 461.12L92.03 460.88L92.43 460.79L92.83 460.69L93.23 460.59L93.62 460.48L94.02 460.37L94.42 460.25L94.82 460.13L95.21 459.99L95.61 459.79L96.01 459.58L96.41 459.37L96.80 459.11L97.20 458.70L97.60 458.28L98.00 457.85L98.40 457.39L98.79 456.91L99.19 456.41L99.59 455.89L99.99 455.38L100.38 454.98L100.78 454.57L101.18 454.14L101.58 453.72L101.97 453.31L102.37 452.90L102.77 452.50L103.17 452.06L103.57 451.46L103.96 450.86L104.36 450.26L104.76 449.65L105.16 449.09L105.55 448.51L105.95 447.87L106.35 447.19L106.75 446.47L107.15 445.68L107.54 444.83L107.94 443.90L108.34 442.93L108.74 441.95L109.13 440.98L109.53 440.02L109.93 439.02L110.33 437.99L110.72 436.91L111.12 435.77L111.52 434.60L111.92 433.33L112.32 431.98L112.71 430.57L113.11 429.08L113.51 427.55L113.91 425.99L114.30 424.41L114.70 422.90L115.10 421.32L115.50 419.61L115.89 417.60L116.29 415.52L116.69 413.47L117.09 411.55L117.49 409.76L117.88 407.76L118.28 405.14L118.68 403.08L119.08 400.88L119.47 398.53L119.87 396.03L120.27 393.44L120.67 390.76L121.07 388.01L121.46 385.18L121.86 382.25L122.26 379.22L122.66 376.08L123.05 372.81L123.45 369.38L123.85 365.81L124.25 362.19L124.64 358.56L125.04 354.96L125.44 351.45L125.84 347.99L126.24 344.59L126.63 341.27L127.03 338.06L127.43 335.04L127.83 332.20L128.22 329.49L128.62 326.86L129.02 324.28L129.42 321.70L129.81 319.16L130.21 316.70L130.61 314.35L131.01 312.08L131.41 309.86L131.80 307.67L132.20 305.61L132.60 303.76L133.00 302.22L133.39 301.06L133.79 300.14L134.19 299.44L134.59 298.90L134.98 298.52L135.38 298.24L135.78 298.01L136.18 297.81L136.58 297.65L136.97 297.53L137.37 297.46L137.77 297.44L138.17 297.49L138.56 297.65L138.96 297.95L139.36 298.46L139.76 299.16L140.16 300.04L140.55 301.08L140.95 302.27L141.35 303.53L141.75 304.86L142.14 306.24L142.54 307.69L142.94 309.20L143.34 310.77L143.73 312.35L144.13 313.93L144.53 315.48L144.93 316.96L145.33 318.36L145.72 319.74L146.12 321.11L146.52 322.53L146.92 324.06L147.31 325.73L147.71 327.53L148.11 329.42L148.51 331.41L148.90 333.47L149.30 335.58L149.70 337.73L150.10 339.92L150.50 342.17L150.89 344.44L151.29 346.72L151.69 348.98L152.09 351.20L152.48 353.37L152.88 355.41L153.28 357.35L153.68 359.17L154.08 360.89L154.47 362.50L154.87 363.99L155.27 365.39L155.67 366.72L156.06 367.99L156.46 369.19L156.86 370.34L157.26 371.45L157.65 372.55L158.05 373.61L158.45 374.65L158.85 375.67L159.25 376.68L159.64 377.67L160.04 377.88L160.44 378.75L160.84 379.66L161.23 380.65L161.63 381.62L162.03 382.57L162.43 383.46L162.82 384.26L163.22 385.04L163.62 385.79L164.02 386.54L164.42 387.31L164.81 388.05L165.21 388.77L165.61 389.47L166.01 390.18L166.40 390.86L166.80 391.52L167.20 392.15L167.60 392.69L167.99 393.23L168.39 393.74L168.79 394.25L169.19 394.76L169.59 395.25L169.98 395.74L170.38 396.19L170.78 396.50L171.18 396.80L171.57 397.09L171.97 397.39L172.37 397.73L172.77 398.06L173.17 398.38L173.56 398.71L173.96 399.11L174.36 399.51L174.76 399.89L175.15 400.26L175.55 400.62L175.95 400.96L176.35 401.30L176.74 401.63L177.14 401.94L177.54 402.25L177.94 402.54L178.34 402.84L178.73 403.20L179.13 403.56L179.53 403.91L179.93 404.25L180.32 404.40L180.72 404.56L181.12 404.71L181.52 404.87L181.91 405.09L182.31 405.31L182.71 405.54L183.11 405.77L183.51 406.20L183.90 406.64L184.30 407.08L184.70 407.51L185.10 407.73L185.49 407.95L185.89 408.17L186.29 408.38L186.69 408.67L187.09 408.97L187.48 409.25L187.88 409.54L188.28 409.80L188.68 410.06L189.07 410.30L189.47 410.54L189.87 410.74L190.27 410.92L190.66 411.09L191.06 411.25L191.46 411.41L191.86 411.56L192.26 411.69L192.65 411.82L193.05 411.98L193.45 412.14L193.85 412.29L194.24 412.44L194.64 412.48L195.04 412.49L195.44 412.49L195.83 412.49L196.23 412.52L196.63 412.56L197.03 412.60L197.43 412.65L197.82 412.65L198.22 412.65L198.62 412.66L199.02 412.67L199.41 412.66L199.81 412.64L200.21 412.63L200.61 412.63L201.01 412.76L201.40 412.93L201.80 413.11L202.20 413.29L202.60 413.47L202.99 413.65L203.39 413.82L203.79 413.98L204.19 414.11L204.58 414.22L204.98 414.31L205.38 414.40L205.78 414.45L206.18 414.48L206.57 414.50L206.97 414.51L207.37 414.63L207.77 414.79L208.16 414.95L208.56 415.11L208.96 415.18L209.36 415.20L209.75 415.21L210.15 415.22L210.55 415.15L210.95 415.02L211.35 414.89L211.74 414.77L212.14 414.69L212.54 414.65L212.94 414.61L213.33 414.58L213.73 414.62L214.13 414.73L214.53 414.84L214.92 414.95L215.32 415.05L215.72 415.15L216.12 415.24L216.52 415.34L216.91 415.41L217.31 415.47L217.71 415.54L218.11 415.60L218.50 415.67L218.90 415.75L219.30 415.83L219.70 415.90L220.10 415.95L220.49 415.98L220.89 416.00L221.29 416.02L221.69 416.10L222.08 416.26L222.48 416.42L222.88 416.57L223.28 416.66L223.67 416.69L224.07 416.71L224.47 416.73L224.87 416.73L225.27 416.71L225.66 416.69L226.06 416.66L226.46 416.71L226.86 416.88L227.25 417.04L227.65 417.20L228.05 417.32L228.45 417.38L228.84 417.44L229.24 417.49L229.64 417.45L230.04 417.22L230.44 417.00L230.83 416.77L231.23 416.61L231.63 416.56L232.03 416.51L232.42 416.46L232.82 416.43L233.22 416.41L233.62 416.40L234.02 416.39L234.41 416.41L234.81 416.51L235.21 416.61L235.61 416.71L236.00 416.78L236.40 416.74L236.80 416.70L237.20 416.67L237.59 416.64L237.99 416.63L238.39 416.63L238.79 416.63L239.19 416.64L239.58 416.67L239.98 416.70L240.38 416.73L240.78 416.75L241.17 416.72L241.57 416.69L241.97 416.65L242.37 416.63L242.76 416.64L243.16 416.65L243.56 416.66L243.96 416.68L244.36 416.71L244.75 416.74L245.15 416.77L245.55 416.79L245.95 416.67L246.34 416.54L246.74 416.42L247.14 416.31L247.54 416.35L247.93 416.39L248.33 416.43L248.73 416.46L249.13 416.54L249.53 416.61L249.92 416.68L250.32 416.75L250.72 416.81L251.12 416.88L251.51 416.94L251.91 417.00L252.31 416.89L252.71 416.79L253.11 416.68L253.50 416.57L253.90 416.38L254.30 416.20L254.70 416.01L255.09 415.82L255.49 415.90L255.89 415.97L256.29 416.05L256.68 416.12L257.08 416.18L257.48 416.24L257.88 416.30L258.28 416.36L258.67 416.32L259.07 416.27L259.47 416.22L259.87 416.17L260.26 416.06L260.66 415.94L261.06 415.81L261.46 415.69L261.85 415.52L262.25 415.33L262.65 415.15L263.05 414.96L263.45 414.91L263.84 414.87L264.24 414.84L264.64 414.80L265.04 414.69L265.43 414.58L265.83 414.46L266.23 414.34L266.63 414.18L267.03 414.00L267.42 413.83L267.82 413.65L268.22 413.60L268.62 413.57L269.01 413.55L269.41 413.52L269.81 413.52L270.21 413.53L270.60 413.54L271.00 413.55L271.40 413.43L271.80 413.28L272.20 413.12L272.59 412.97L272.99 412.87L273.39 412.79L273.79 412.71L274.18 412.63L274.58 412.53L274.98 412.40L275.38 412.28L275.77 412.16L276.17 412.08L276.57 412.01L276.97 411.94L277.37 411.87L277.76 411.73L278.16 411.55L278.56 411.36L278.96 411.18L279.35 411.10L279.75 411.07L280.15 411.04L280.55 411.02L280.94 411.06L281.34 411.14L281.74 411.23L282.14 411.31L282.54 411.25L282.93 411.09L283.33 410.94L283.73 410.78L284.13 410.62L284.52 410.47L284.92 410.32L285.32 410.16L285.72 410.03L286.12 409.93L286.51 409.82L286.91 409.71L287.31 409.62L287.71 409.56L288.10 409.49L288.50 409.42L288.90 409.36L289.30 409.32L289.69 409.27L290.09 409.22L290.49 409.09L290.89 408.88L291.29 408.66L291.68 408.45L292.08 408.23L292.48 408.01L292.88 407.79L293.27 407.57L293.67 407.42L294.07 407.35L294.47 407.29L294.86 407.23L295.26 407.16L295.66 407.08L296.06 407.01L296.46 406.94L296.85 406.87L297.25 406.81L297.65 406.74L298.05 406.68L298.44 406.62L298.84 406.56L299.24 406.50L299.64 406.45L300.04 406.38L300.43 406.28L300.83 406.19L301.23 406.10L301.63 406.02L302.02 405.97L302.42 405.92L302.82 405.87L303.22 405.80L303.61 405.66L304.01 405.52L304.41 405.38L304.81 405.31L305.21 405.42L305.60 405.53L306.00 405.64L306.40 405.75L306.80 405.85L307.19 405.95L307.59 406.06L307.99 406.12L308.39 406.00L308.78 405.88L309.18 405.77L309.58 405.66L309.98 405.57L310.38 405.48L310.77 405.39L311.17 405.32L311.57 405.37L311.97 405.42L312.36 405.47L312.76 405.52L313.16 405.53L313.56 405.55L313.95 405.57L314.35 405.56L314.75 405.39L315.15 405.21L315.55 405.04L315.94 404.88L316.34 404.91L316.74 404.93L317.14 404.95L317.53 404.98L317.93 405.03L318.33 405.09L318.73 405.14L319.13 405.19L319.52 405.17L319.92 405.14L320.32 405.12L320.72 405.09L321.11 405.03L321.51 404.98L321.91 404.92L322.31 404.87L322.70 404.86L323.10 404.85L323.50 404.85" fill="none" stroke="#ff1aff" stroke-width="1.35" stroke-linejoin="round"/>
<path d="M45.50 471.11L45.90 471.07L46.30 471.04L46.69 471.00L47.09 470.97L47.49 470.81L47.89 470.66L48.28 470.50L48.68 470.35L49.08 470.27L49.48 470.19L49.87 470.11L50.27 470.04L50.67 470.11L51.07 470.19L51.47 470.28L51.86 470.36L52.26 470.32L52.66 470.26L53.06 470.21L53.45 470.15L53.85 470.10L54.25 470.05L54.65 470.00L55.05 469.94L55.44 469.92L55.84 469.90L56.24 469.89L56.64 469.87L57.03 469.78L57.43 469.69L57.83 469.59L58.23 469.49L58.62 469.42L59.02 469.35L59.42 469.28L59.82 469.21L60.22 469.34L60.61 469.52L61.01 469.70L61.41 469.88L61.81 469.88L62.20 469.84L62.60 469.79L63.00 469.74L63.40 469.74L63.79 469.75L64.19 469.76L64.59 469.77L64.99 469.79L65.39 469.81L65.78 469.82L66.18 469.83L66.58 469.66L66.98 469.42L67.37 469.17L67.77 468.91L68.17 468.68L68.57 468.45L68.96 468.23L69.36 468.00L69.76 467.90L70.16 467.88L70.56 467.85L70.95 467.83L71.35 467.78L71.75 467.73L72.15 467.68L72.54 467.62L72.94 467.55L73.34 467.47L73.74 467.39L74.14 467.30L74.53 467.23L74.93 467.16L75.33 467.10L75.73 467.03L76.12 466.90L76.52 466.74L76.92 466.57L77.32 466.40L77.71 466.31L78.11 466.28L78.51 466.25L78.91 466.22L79.31 466.14L79.70 466.00L80.10 465.85L80.50 465.71L80.90 465.62L81.29 465.58L81.69 465.55L82.09 465.51L82.49 465.44L82.88 465.33L83.28 465.22L83.68 465.11L84.08 464.97L84.48 464.78L84.87 464.60L85.27 464.41L85.67 464.24L86.07 464.09L86.46 463.94L86.86 463.78L87.26 463.61L87.66 463.40L88.06 463.19L88.45 462.97L88.85 462.73L89.25 462.46L89.65 462.19L90.04 461.91L90.44 461.64L90.84 461.40L91.24 461.15L91.63 460.90L92.03 460.71L92.43 460.64L92.83 460.57L93.23 460.49L93.62 460.40L94.02 460.29L94.42 460.18L94.82 460.06L95.21 459.90L95.61 459.63L96.01 459.36L96.41 459.07L96.80 458.76L97.20 458.39L97.60 458.01L98.00 457.62L98.40 457.19L98.79 456.71L99.19 456.22L99.59 455.70L99.99 455.17L100.38 454.68L100.78 454.17L101.18 453.65L101.58 453.15L101.97 452.75L102.37 452.35L102.77 451.96L103.17 451.53L103.57 450.96L103.96 450.39L104.36 449.82L104.76 449.24L105.16 448.68L105.55 448.10L105.95 447.47L106.35 446.78L106.75 446.07L107.15 445.28L107.54 444.43L107.94 443.48L108.34 442.45L108.74 441.42L109.13 440.38L109.53 439.37L109.93 438.34L110.33 437.29L110.72 436.18L111.12 435.00L111.52 433.74L111.92 432.37L112.32 430.92L112.71 429.43L113.11 427.87L113.51 426.27L113.91 424.65L114.30 423.01L114.70 421.50L115.10 419.90L115.50 418.15L115.89 416.08L116.29 413.94L116.69 411.84L117.09 409.90L117.49 408.15L117.88 406.11L118.28 403.50L118.68 401.47L119.08 399.28L119.47 396.94L119.87 394.44L120.27 391.84L120.67 389.16L121.07 386.42L121.46 383.62L121.86 380.71L122.26 377.68L122.66 374.52L123.05 371.20L123.45 367.66L123.85 363.93L124.25 360.12L124.64 356.29L125.04 352.50L125.44 348.81L125.84 345.24L126.24 341.77L126.63 338.42L127.03 335.20L127.43 332.18L127.83 329.32L128.22 326.58L128.62 323.92L129.02 321.30L129.42 318.69L129.81 316.13L130.21 313.65L130.61 311.27L131.01 308.97L131.41 306.70L131.80 304.43L132.20 302.30L132.60 300.38L133.00 298.80L133.39 297.63L133.79 296.72L134.19 296.03L134.59 295.53L134.98 295.18L135.38 294.94L135.78 294.75L136.18 294.59L136.58 294.47L136.97 294.37L137.37 294.31L137.77 294.30L138.17 294.36L138.56 294.52L138.96 294.83L139.36 295.36L139.76 296.10L140.16 297.03L140.55 298.13L140.95 299.37L141.35 300.69L141.75 302.05L142.14 303.46L142.54 304.92L142.94 306.44L143.34 308.01L143.73 309.61L144.13 311.20L144.53 312.76L144.93 314.26L145.33 315.66L145.72 317.02L146.12 318.38L146.52 319.77L146.92 321.28L147.31 322.94L147.71 324.74L148.11 326.67L148.51 328.70L148.90 330.82L149.30 333.01L149.70 335.24L150.10 337.52L150.50 339.85L150.89 342.21L151.29 344.58L151.69 346.92L152.09 349.22L152.48 351.46L152.88 353.55L153.28 355.53L153.68 357.38L154.08 359.11L154.47 360.71L154.87 362.19L155.27 363.58L155.67 364.88L156.06 366.11L156.46 367.27L156.86 368.38L157.26 369.46L157.65 370.51L158.05 371.54L158.45 372.55L158.85 373.54L159.25 374.52L159.64 375.49L160.04 375.81L160.44 376.66L160.84 377.56L161.23 378.53L161.63 379.49L162.03 380.42L162.43 381.29L162.82 382.07L163.22 382.81L163.62 383.53L164.02 384.26L164.42 385.03L164.81 385.77L165.21 386.49L165.61 387.20L166.01 387.90L166.40 388.59L166.80 389.25L167.20 389.88L167.60 390.43L167.99 390.97L168.39 391.50L168.79 392.03L169.19 392.60L169.59 393.17L169.98 393.74L170.38 394.24L170.78 394.56L171.18 394.86L171.57 395.16L171.97 395.45L172.37 395.72L172.77 395.98L173.17 396.24L173.56 396.51L173.96 396.92L174.36 397.32L174.76 397.71L175.15 398.09L175.55 398.39L175.95 398.69L176.35 398.97L176.74 399.25L177.14 399.56L177.54 399.87L177.94 400.16L178.34 400.46L178.73 400.85L179.13 401.24L179.53 401.62L179.93 401.99L180.32 402.22L180.72 402.44L181.12 402.65L181.52 402.87L181.91 403.08L182.31 403.29L182.71 403.50L183.11 403.72L183.51 404.14L183.90 404.56L184.30 404.97L184.70 405.39L185.10 405.68L185.49 405.96L185.89 406.24L186.29 406.52L186.69 406.76L187.09 407.00L187.48 407.23L187.88 407.45L188.28 407.72L188.68 407.99L189.07 408.25L189.47 408.50L189.87 408.70L190.27 408.89L190.66 409.06L191.06 409.23L191.46 409.38L191.86 409.52L192.26 409.65L192.65 409.78L193.05 409.94L193.45 410.10L193.85 410.25L194.24 410.39L194.64 410.43L195.04 410.46L195.44 410.47L195.83 410.48L196.23 410.51L196.63 410.54L197.03 410.57L197.43 410.60L197.82 410.64L198.22 410.68L198.62 410.72L199.02 410.77L199.41 410.80L199.81 410.83L200.21 410.86L200.61 410.90L201.01 411.06L201.40 411.26L201.80 411.47L202.20 411.67L202.60 411.84L202.99 412.00L203.39 412.16L203.79 412.31L204.19 412.40L204.58 412.46L204.98 412.51L205.38 412.55L205.78 412.59L206.18 412.62L206.57 412.64L206.97 412.66L207.37 412.80L207.77 413.00L208.16 413.20L208.56 413.39L208.96 413.44L209.36 413.41L209.75 413.37L210.15 413.34L210.55 413.23L210.95 413.08L211.35 412.93L211.74 412.78L212.14 412.75L212.54 412.79L212.94 412.84L213.33 412.89L213.73 412.98L214.13 413.10L214.53 413.23L214.92 413.36L215.32 413.47L215.72 413.55L216.12 413.63L216.52 413.72L216.91 413.81L217.31 413.89L217.71 413.97L218.11 414.06L218.50 414.16L218.90 414.29L219.30 414.41L219.70 414.53L220.10 414.62L220.49 414.68L220.89 414.74L221.29 414.80L221.69 414.87L222.08 414.98L222.48 415.08L222.88 415.17L223.28 415.22L223.67 415.20L224.07 415.18L224.47 415.16L224.87 415.18L225.27 415.26L225.66 415.35L226.06 415.42L226.46 415.53L226.86 415.66L227.25 415.80L227.65 415.93L228.05 416.03L228.45 416.06L228.84 416.09L229.24 416.12L229.64 416.07L230.04 415.87L230.44 415.67L230.83 415.47L231.23 415.30L231.63 415.22L232.03 415.14L232.42 415.07L232.82 415.02L233.22 415.03L233.62 415.04L234.02 415.05L234.41 415.08L234.81 415.13L235.21 415.19L235.61 415.25L236.00 415.28L236.40 415.23L236.80 415.19L237.20 415.14L237.59 415.12L237.99 415.17L238.39 415.22L238.79 415.27L239.19 415.32L239.58 415.35L239.98 415.37L240.38 415.40L240.78 415.41L241.17 415.41L241.57 415.41L241.97 415.40L242.37 415.40L242.76 415.42L243.16 415.44L243.56 415.45L243.96 415.46L244.36 415.45L244.75 415.43L245.15 415.41L245.55 415.38L245.95 415.25L246.34 415.12L246.74 414.98L247.14 414.87L247.54 414.94L247.93 415.02L248.33 415.09L248.73 415.16L249.13 415.29L249.53 415.41L249.92 415.53L250.32 415.65L250.72 415.67L251.12 415.68L251.51 415.70L251.91 415.71L252.31 415.62L252.71 415.53L253.11 415.44L253.50 415.34L253.90 415.18L254.30 415.01L254.70 414.85L255.09 414.68L255.49 414.76L255.89 414.85L256.29 414.93L256.68 415.01L257.08 415.08L257.48 415.15L257.88 415.21L258.28 415.27L258.67 415.21L259.07 415.15L259.47 415.08L259.87 415.01L260.26 414.83L260.66 414.64L261.06 414.45L261.46 414.26L261.85 414.16L262.25 414.07L262.65 413.98L263.05 413.88L263.45 413.85L263.84 413.83L264.24 413.80L264.64 413.77L265.04 413.63L265.43 413.47L265.83 413.31L266.23 413.14L266.63 412.94L267.03 412.74L267.42 412.54L267.82 412.33L268.22 412.28L268.62 412.26L269.01 412.24L269.41 412.22L269.81 412.28L270.21 412.37L270.60 412.46L271.00 412.55L271.40 412.44L271.80 412.27L272.20 412.10L272.59 411.93L272.99 411.79L273.39 411.66L273.79 411.54L274.18 411.41L274.58 411.26L274.98 411.10L275.38 410.95L275.77 410.79L276.17 410.69L276.57 410.63L276.97 410.56L277.37 410.50L277.76 410.41L278.16 410.30L278.56 410.20L278.96 410.10L279.35 410.06L279.75 410.05L280.15 410.04L280.55 410.03L280.94 410.04L281.34 410.06L281.74 410.09L282.14 410.11L282.54 410.01L282.93 409.82L283.33 409.63L283.73 409.44L284.13 409.29L284.52 409.15L284.92 409.02L285.32 408.89L285.72 408.80L286.12 408.75L286.51 408.71L286.91 408.66L287.31 408.62L287.71 408.60L288.10 408.57L288.50 408.53L288.90 408.48L289.30 408.41L289.69 408.33L290.09 408.25L290.49 408.06L290.89 407.77L291.29 407.48L291.68 407.18L292.08 406.91L292.48 406.68L292.88 406.45L293.27 406.21L293.67 406.05L294.07 405.98L294.47 405.91L294.86 405.85L295.26 405.78L295.66 405.73L296.06 405.68L296.46 405.63L296.85 405.59L297.25 405.56L297.65 405.54L298.05 405.52L298.44 405.50L298.84 405.47L299.24 405.45L299.64 405.42L300.04 405.38L300.43 405.31L300.83 405.24L301.23 405.17L301.63 405.08L302.02 404.94L302.42 404.80L302.82 404.66L303.22 404.52L303.61 404.36L304.01 404.20L304.41 404.04L304.81 403.96L305.21 404.09L305.60 404.22L306.00 404.35L306.40 404.48L306.80 404.58L307.19 404.69L307.59 404.80L307.99 404.85L308.39 404.71L308.78 404.57L309.18 404.43L309.58 404.29L309.98 404.16L310.38 404.04L310.77 403.91L311.17 403.82L311.57 403.87L311.97 403.92L312.36 403.97L312.76 404.03L313.16 404.10L313.56 404.18L313.95 404.25L314.35 404.30L314.75 404.11L315.15 403.93L315.55 403.75L315.94 403.58L316.34 403.59L316.74 403.59L317.14 403.59L317.53 403.59L317.93 403.70L318.33 403.81L318.73 403.91L319.13 404.01L319.52 403.99L319.92 403.98L320.32 403.97L320.72 403.95L321.11 403.85L321.51 403.75L321.91 403.65L322.31 403.55L322.70 403.57L323.10 403.58L323.50 403.59" fill="none" stroke="#8a1aff" stroke-width="1.35" stroke-linejoin="round"/>
<path d="M45.50 471.04L45.90 471.04L46.30 471.04L46.69 471.04L47.09 471.04L47.49 470.89L47.89 470.73L48.28 470.57L48.68 470.42L49.08 470.27L49.48 470.11L49.87 469.96L50.27 469.81L50.67 469.89L51.07 469.99L51.47 470.09L51.86 470.19L52.26 470.17L52.66 470.15L53.06 470.12L53.45 470.09L53.85 470.06L54.25 470.02L54.65 469.98L55.05 469.95L55.44 469.91L55.84 469.87L56.24 469.83L56.64 469.79L57.03 469.69L57.43 469.58L57.83 469.47L58.23 469.36L58.62 469.26L59.02 469.16L59.42 469.06L59.82 468.96L60.22 469.08L60.61 469.26L61.01 469.43L61.41 469.61L61.81 469.60L62.20 469.55L62.60 469.49L63.00 469.44L63.40 469.42L63.79 469.41L64.19 469.40L64.59 469.40L64.99 469.42L65.39 469.47L65.78 469.51L66.18 469.55L66.58 469.39L66.98 469.15L67.37 468.91L67.77 468.67L68.17 468.43L68.57 468.19L68.96 467.96L69.36 467.72L69.76 467.59L70.16 467.52L70.56 467.44L70.95 467.37L71.35 467.30L71.75 467.25L72.15 467.19L72.54 467.13L72.94 467.10L73.34 467.10L73.74 467.09L74.14 467.09L74.53 467.06L74.93 467.02L75.33 466.97L75.73 466.92L76.12 466.80L76.52 466.63L76.92 466.46L77.32 466.29L77.71 466.17L78.11 466.11L78.51 466.05L78.91 465.99L79.31 465.90L79.70 465.79L80.10 465.68L80.50 465.57L80.90 465.48L81.29 465.41L81.69 465.34L82.09 465.27L82.49 465.17L82.88 465.05L83.28 464.92L83.68 464.79L84.08 464.66L84.48 464.53L84.87 464.40L85.27 464.26L85.67 464.10L86.07 463.92L86.46 463.74L86.86 463.54L87.26 463.34L87.66 463.11L88.06 462.87L88.45 462.63L88.85 462.41L89.25 462.21L89.65 462.01L90.04 461.81L90.44 461.57L90.84 461.27L91.24 460.96L91.63 460.66L92.03 460.42L92.43 460.32L92.83 460.21L93.23 460.10L93.62 460.01L94.02 459.95L94.42 459.88L94.82 459.81L95.21 459.69L95.61 459.47L96.01 459.24L96.41 458.99L96.80 458.70L97.20 458.30L97.60 457.88L98.00 457.44L98.40 456.99L98.79 456.51L99.19 456.01L99.59 455.48L99.99 454.94L100.38 454.39L100.78 453.82L101.18 453.24L101.58 452.69L101.97 452.29L102.37 451.89L102.77 451.49L103.17 451.07L103.57 450.50L103.96 449.93L104.36 449.36L104.76 448.78L105.16 448.22L105.55 447.63L105.95 446.99L106.35 446.29L106.75 445.58L107.15 444.80L107.54 443.93L107.94 442.96L108.34 441.89L108.74 440.80L109.13 439.72L109.53 438.65L109.93 437.58L110.33 436.47L110.72 435.31L111.12 434.07L111.52 432.80L111.92 431.42L112.32 429.98L112.71 428.49L113.11 426.86L113.51 425.19L113.91 423.49L114.30 421.79L114.70 420.18L115.10 418.47L115.50 416.59L115.89 414.35L116.29 412.05L116.69 409.82L117.09 407.79L117.49 405.98L117.88 403.99L118.28 401.56L118.68 399.56L119.08 397.39L119.47 395.05L119.87 392.55L120.27 389.95L120.67 387.28L121.07 384.55L121.46 381.77L121.86 378.88L122.26 375.87L122.66 372.69L123.05 369.30L123.45 365.63L123.85 361.71L124.25 357.68L124.64 353.62L125.04 349.59L125.44 345.70L125.84 341.99L126.24 338.44L126.63 335.05L127.03 331.82L127.43 328.79L127.83 325.91L128.22 323.14L128.62 320.43L129.02 317.77L129.42 315.13L129.81 312.55L130.21 310.05L130.61 307.64L131.01 305.30L131.41 302.96L131.80 300.61L132.20 298.38L132.60 296.39L133.00 294.76L133.39 293.57L133.79 292.67L134.19 292.00L134.59 291.54L134.98 291.24L135.38 291.05L135.78 290.91L136.18 290.79L136.58 290.70L136.97 290.64L137.37 290.60L137.77 290.60L138.17 290.66L138.56 290.83L138.96 291.15L139.36 291.71L139.76 292.48L140.16 293.47L140.55 294.64L140.95 295.95L141.35 297.32L141.75 298.73L142.14 300.17L142.54 301.64L142.94 303.17L143.34 304.75L143.73 306.36L144.13 307.97L144.53 309.56L144.93 311.06L145.33 312.47L145.72 313.82L146.12 315.15L146.52 316.50L146.92 317.98L147.31 319.64L147.71 321.45L148.11 323.41L148.51 325.50L148.90 327.70L149.30 329.97L149.70 332.30L150.10 334.69L150.50 337.12L150.89 339.58L151.29 342.05L151.69 344.50L152.09 346.90L152.48 349.22L152.88 351.38L153.28 353.40L153.68 355.28L154.08 357.03L154.47 358.64L154.87 360.10L155.27 361.46L155.67 362.74L156.06 363.93L156.46 365.05L156.86 366.12L157.26 367.16L157.65 368.17L158.05 369.16L158.45 370.14L158.85 371.10L159.25 372.05L159.64 373.00L160.04 373.40L160.44 374.22L160.84 375.08L161.23 376.05L161.63 377.00L162.03 377.92L162.43 378.80L162.82 379.61L163.22 380.39L163.62 381.14L164.02 381.88L164.42 382.61L164.81 383.32L165.21 384.01L165.61 384.69L166.01 385.38L166.40 386.06L166.80 386.72L167.20 387.35L167.60 387.93L167.99 388.50L168.39 389.06L168.79 389.62L169.19 390.19L169.59 390.75L169.98 391.31L170.38 391.82L170.78 392.16L171.18 392.49L171.57 392.82L171.97 393.13L172.37 393.44L172.77 393.74L173.17 394.04L173.56 394.34L173.96 394.76L174.36 395.17L174.76 395.57L175.15 395.96L175.55 396.33L175.95 396.68L176.35 397.03L176.74 397.37L177.14 397.71L177.54 398.05L177.94 398.37L178.34 398.70L178.73 399.09L179.13 399.48L179.53 399.86L179.93 400.23L180.32 400.44L180.72 400.65L181.12 400.86L181.52 401.06L181.91 401.26L182.31 401.46L182.71 401.66L183.11 401.86L183.51 402.32L183.90 402.77L184.30 403.23L184.70 403.68L185.10 403.96L185.49 404.24L185.89 404.52L186.29 404.79L186.69 405.07L187.09 405.35L187.48 405.62L187.88 405.88L188.28 406.11L188.68 406.33L189.07 406.54L189.47 406.74L189.87 406.96L190.27 407.18L190.66 407.38L191.06 407.57L191.46 407.75L191.86 407.92L192.26 408.07L192.65 408.22L193.05 408.33L193.45 408.42L193.85 408.51L194.24 408.59L194.64 408.59L195.04 408.59L195.44 408.57L195.83 408.56L196.23 408.60L196.63 408.64L197.03 408.69L197.43 408.74L197.82 408.79L198.22 408.85L198.62 408.92L199.02 408.99L199.41 409.04L199.81 409.08L200.21 409.14L200.61 409.20L201.01 409.34L201.40 409.50L201.80 409.66L202.20 409.83L202.60 410.00L202.99 410.16L203.39 410.32L203.79 410.47L204.19 410.57L204.58 410.65L204.98 410.72L205.38 410.78L205.78 410.84L206.18 410.91L206.57 410.98L206.97 411.03L207.37 411.20L207.77 411.43L208.16 411.65L208.56 411.87L208.96 411.93L209.36 411.90L209.75 411.87L210.15 411.84L210.55 411.73L210.95 411.56L211.35 411.40L211.74 411.24L212.14 411.18L212.54 411.19L212.94 411.20L213.33 411.22L213.73 411.31L214.13 411.45L214.53 411.60L214.92 411.75L215.32 411.86L215.72 411.93L216.12 412.01L216.52 412.09L216.91 412.16L217.31 412.23L217.71 412.31L218.11 412.38L218.50 412.46L218.90 412.56L219.30 412.65L219.70 412.74L220.10 412.81L220.49 412.85L220.89 412.89L221.29 412.93L221.69 413.02L222.08 413.19L222.48 413.35L222.88 413.50L223.28 413.59L223.67 413.60L224.07 413.61L224.47 413.61L224.87 413.62L225.27 413.66L225.66 413.69L226.06 413.71L226.46 413.78L226.86 413.92L227.25 414.05L227.65 414.17L228.05 414.30L228.45 414.41L228.84 414.51L229.24 414.62L229.64 414.61L230.04 414.40L230.44 414.18L230.83 413.96L231.23 413.80L231.63 413.75L232.03 413.71L232.42 413.66L232.82 413.65L233.22 413.68L233.62 413.72L234.02 413.76L234.41 413.80L234.81 413.84L235.21 413.89L235.61 413.94L236.00 413.97L236.40 413.91L236.80 413.86L237.20 413.81L237.59 413.78L237.99 413.81L238.39 413.84L238.79 413.87L239.19 413.90L239.58 413.95L239.98 414.01L240.38 414.06L240.78 414.10L241.17 414.07L241.57 414.04L241.97 414.01L242.37 413.99L242.76 414.02L243.16 414.05L243.56 414.07L243.96 414.10L244.36 414.13L244.75 414.17L245.15 414.20L245.55 414.22L245.95 414.12L246.34 414.02L246.74 413.92L247.14 413.83L247.54 413.85L247.93 413.87L248.33 413.89L248.73 413.91L249.13 414.01L249.53 414.11L249.92 414.21L250.32 414.30L250.72 414.35L251.12 414.40L251.51 414.44L251.91 414.48L252.31 414.38L252.71 414.27L253.11 414.17L253.50 414.06L253.90 413.93L254.30 413.80L254.70 413.67L255.09 413.53L255.49 413.58L255.89 413.63L256.29 413.68L256.68 413.73L257.08 413.79L257.48 413.84L257.88 413.90L258.28 413.95L258.67 413.89L259.07 413.82L259.47 413.75L259.87 413.68L260.26 413.55L260.66 413.42L261.06 413.28L261.46 413.14L261.85 413.07L262.25 413.01L262.65 412.94L263.05 412.87L263.45 412.84L263.84 412.81L264.24 412.78L264.64 412.75L265.04 412.58L265.43 412.39L265.83 412.19L266.23 411.99L266.63 411.82L267.03 411.66L267.42 411.49L267.82 411.32L268.22 411.29L268.62 411.29L269.01 411.30L269.41 411.30L269.81 411.31L270.21 411.31L270.60 411.32L271.00 411.33L271.40 411.22L271.80 411.08L272.20 410.93L272.59 410.79L272.99 410.68L273.39 410.58L273.79 410.47L274.18 410.37L274.58 410.23L274.98 410.08L275.38 409.92L275.77 409.77L276.17 409.68L276.57 409.62L276.97 409.56L277.37 409.51L277.76 409.37L278.16 409.20L278.56 409.03L278.96 408.86L279.35 408.79L279.75 408.78L280.15 408.78L280.55 408.77L280.94 408.79L281.34 408.84L281.74 408.88L282.14 408.92L282.54 408.84L282.93 408.68L283.33 408.51L283.73 408.35L284.13 408.16L284.52 407.96L284.92 407.75L285.32 407.55L285.72 407.44L286.12 407.42L286.51 407.39L286.91 407.36L287.31 407.32L287.71 407.27L288.10 407.22L288.50 407.16L288.90 407.10L289.30 407.04L289.69 406.97L290.09 406.89L290.49 406.75L290.89 406.53L291.29 406.31L291.68 406.09L292.08 405.86L292.48 405.64L292.88 405.41L293.27 405.18L293.67 405.00L294.07 404.91L294.47 404.81L294.86 404.71L295.26 404.62L295.66 404.54L296.06 404.47L296.46 404.39L296.85 404.31L297.25 404.22L297.65 404.14L298.05 404.06L298.44 404.01L298.84 403.99L299.24 403.98L299.64 403.98L300.04 403.93L300.43 403.81L300.83 403.70L301.23 403.59L301.63 403.48L302.02 403.35L302.42 403.23L302.82 403.12L303.22 403.00L303.61 402.85L304.01 402.70L304.41 402.56L304.81 402.48L305.21 402.57L305.60 402.66L306.00 402.75L306.40 402.85L306.80 402.93L307.19 403.01L307.59 403.10L307.99 403.15L308.39 403.09L308.78 403.03L309.18 402.97L309.58 402.91L309.98 402.84L310.38 402.76L310.77 402.69L311.17 402.62L311.57 402.58L311.97 402.53L312.36 402.49L312.76 402.46L313.16 402.53L313.56 402.60L313.95 402.67L314.35 402.72L314.75 402.60L315.15 402.48L315.55 402.36L315.94 402.25L316.34 402.27L316.74 402.29L317.14 402.31L317.53 402.34L317.93 402.39L318.33 402.43L318.73 402.48L319.13 402.53L319.52 402.53L319.92 402.54L320.32 402.55L320.72 402.55L321.11 402.48L321.51 402.42L321.91 402.35L322.31 402.29L322.70 402.33L323.10 402.37L323.50 402.42" fill="none" stroke="#ff8a1c" stroke-width="1.35" stroke-linejoin="round"/>
<line x1="245.2" y1="282.7" x2="272.9" y2="282.7" stroke="#ff8a1c" stroke-width="1.2"/>
<text x="276.8" y="287.0" font-size="12.5" fill="#1a1a1a">370 <tspan font-size="9" dy="-5.4">o</tspan><tspan dy="5.4">C</tspan></text>
<line x1="245.2" y1="299.8" x2="272.9" y2="299.8" stroke="#8a1aff" stroke-width="1.2"/>
<text x="276.8" y="304.1" font-size="12.5" fill="#1a1a1a">330 <tspan font-size="9" dy="-5.4">o</tspan><tspan dy="5.4">C</tspan></text>
<line x1="245.2" y1="316.8" x2="272.9" y2="316.8" stroke="#ff1aff" stroke-width="1.2"/>
<text x="276.8" y="321.1" font-size="12.5" fill="#1a1a1a">250 <tspan font-size="9" dy="-5.4">o</tspan><tspan dy="5.4">C</tspan></text>
<line x1="245.2" y1="333.9" x2="272.9" y2="333.9" stroke="#1a1aff" stroke-width="1.2"/>
<text x="276.8" y="338.2" font-size="12.5" fill="#1a1a1a">200 <tspan font-size="9" dy="-5.4">o</tspan><tspan dy="5.4">C</tspan></text>
<line x1="245.2" y1="350.9" x2="272.9" y2="350.9" stroke="#ff1a1a" stroke-width="1.2"/>
<text x="276.8" y="355.2" font-size="12.5" fill="#1a1a1a">50 <tspan font-size="9" dy="-5.4">o</tspan><tspan dy="5.4">C</tspan></text>
<line x1="245.2" y1="367.9" x2="272.9" y2="367.9" stroke="#000000" stroke-width="1.2"/>
<text x="276.8" y="372.2" font-size="12.5" fill="#1a1a1a">20 <tspan font-size="9" dy="-5.4">o</tspan><tspan dy="5.4">C</tspan></text>
<line x1="392.5" y1="266.6" x2="671.5" y2="266.6" stroke="#505050" stroke-width="1.2" stroke-linecap="square"/>
<line x1="392.5" y1="472.6" x2="671.5" y2="472.6" stroke="#666" stroke-width="1.2" stroke-linecap="square"/>
<line x1="671.5" y1="266.6" x2="671.5" y2="472.6" stroke="#505050" stroke-width="1.2" stroke-linecap="square"/>
<line x1="392.5" y1="266.6" x2="392.5" y2="472.6" stroke="#505050" stroke-width="1.2" stroke-linecap="square"/>
<line x1="388.2" y1="469.6" x2="392.5" y2="469.6" stroke="#404040" stroke-width="1.1"/>
<text x="385.5" y="473.90000000000003" font-size="13" text-anchor="end" font-weight="normal" fill="#1a1a1a" >0.0</text>
<line x1="388.2" y1="429.58000000000004" x2="392.5" y2="429.58000000000004" stroke="#404040" stroke-width="1.1"/>
<text x="385.5" y="433.88000000000005" font-size="13" text-anchor="end" font-weight="normal" fill="#1a1a1a" >0.2</text>
<line x1="388.2" y1="389.56" x2="392.5" y2="389.56" stroke="#404040" stroke-width="1.1"/>
<text x="385.5" y="393.86" font-size="13" text-anchor="end" font-weight="normal" fill="#1a1a1a" >0.4</text>
<line x1="388.2" y1="349.54" x2="392.5" y2="349.54" stroke="#404040" stroke-width="1.1"/>
<text x="385.5" y="353.84000000000003" font-size="13" text-anchor="end" font-weight="normal" fill="#1a1a1a" >0.6</text>
<line x1="388.2" y1="309.52" x2="392.5" y2="309.52" stroke="#404040" stroke-width="1.1"/>
<text x="385.5" y="313.82" font-size="13" text-anchor="end" font-weight="normal" fill="#1a1a1a" >0.8</text>
<line x1="388.2" y1="269.5" x2="392.5" y2="269.5" stroke="#404040" stroke-width="1.1"/>
<text x="385.5" y="273.8" font-size="13" text-anchor="end" font-weight="normal" fill="#1a1a1a" >1.0</text>
<line x1="395.5" y1="472.6" x2="395.5" y2="476.8" stroke="#383838" stroke-width="1.1"/>
<text x="395.5" y="490" font-size="13" text-anchor="middle" font-weight="normal" fill="#1a1a1a" >20</text>
<line x1="434.5" y1="472.6" x2="434.5" y2="476.8" stroke="#383838" stroke-width="1.1"/>
<text x="434.5" y="490" font-size="13" text-anchor="middle" font-weight="normal" fill="#1a1a1a" >70</text>
<line x1="473.5" y1="472.6" x2="473.5" y2="476.8" stroke="#383838" stroke-width="1.1"/>
<text x="473.5" y="490" font-size="13" text-anchor="middle" font-weight="normal" fill="#1a1a1a" >120</text>
<line x1="512.5" y1="472.6" x2="512.5" y2="476.8" stroke="#383838" stroke-width="1.1"/>
<text x="512.5" y="490" font-size="13" text-anchor="middle" font-weight="normal" fill="#1a1a1a" >170</text>
<line x1="551.5" y1="472.6" x2="551.5" y2="476.8" stroke="#383838" stroke-width="1.1"/>
<text x="551.5" y="490" font-size="13" text-anchor="middle" font-weight="normal" fill="#1a1a1a" >220</text>
<line x1="590.5" y1="472.6" x2="590.5" y2="476.8" stroke="#383838" stroke-width="1.1"/>
<text x="590.5" y="490" font-size="13" text-anchor="middle" font-weight="normal" fill="#1a1a1a" >270</text>
<line x1="629.5" y1="472.6" x2="629.5" y2="476.8" stroke="#383838" stroke-width="1.1"/>
<text x="629.5" y="490" font-size="13" text-anchor="middle" font-weight="normal" fill="#1a1a1a" >320</text>
<line x1="668.5" y1="472.6" x2="668.5" y2="476.8" stroke="#383838" stroke-width="1.1"/>
<text x="668.5" y="490" font-size="13" text-anchor="middle" font-weight="normal" fill="#1a1a1a" >370</text>
<text x="532.2" y="506.9" font-size="13.15" text-anchor="middle" fill="#1a1a1a">Temperature (<tspan font-size="9.2" dy="-5.4">o</tspan><tspan dy="5.4">C)</tspan></text>
<text transform="translate(356.9,378.7) rotate(-90)" font-size="11.85" text-anchor="middle" fill="#1a1a1a">Adsorption degree of Ta site (a.u.)</text>
<text x="347.7" y="268.8" font-size="13.5" text-anchor="start" font-weight="bold" fill="#000" >d</text>
<circle cx="395.3" cy="469.5" r="2.6" fill="none" stroke="#6a6a6a" stroke-width="0.7"/>
<circle cx="409" cy="459.1" r="2.6" fill="none" stroke="#6a6a6a" stroke-width="0.7"/>
<circle cx="418.7" cy="449.4" r="2.6" fill="none" stroke="#6a6a6a" stroke-width="0.7"/>
<circle cx="457.5" cy="374.7" r="2.6" fill="none" stroke="#6a6a6a" stroke-width="0.7"/>
<circle cx="496.6" cy="356.9" r="2.6" fill="none" stroke="#6a6a6a" stroke-width="0.7"/>
<circle cx="535.4" cy="352.1" r="2.6" fill="none" stroke="#6a6a6a" stroke-width="0.7"/>
<circle cx="575" cy="323.5" r="2.6" fill="none" stroke="#6a6a6a" stroke-width="0.7"/>
<circle cx="590" cy="320.8" r="2.6" fill="none" stroke="#6a6a6a" stroke-width="0.7"/>
<circle cx="594.1" cy="323.9" r="2.6" fill="none" stroke="#6a6a6a" stroke-width="0.7"/>
<circle cx="598" cy="322.2" r="2.6" fill="none" stroke="#6a6a6a" stroke-width="0.7"/>
<circle cx="601.9" cy="319.8" r="2.6" fill="none" stroke="#6a6a6a" stroke-width="0.7"/>
<circle cx="605.9" cy="318.3" r="2.6" fill="none" stroke="#6a6a6a" stroke-width="0.7"/>
<circle cx="609.8" cy="316" r="2.6" fill="none" stroke="#6a6a6a" stroke-width="0.7"/>
<circle cx="613.7" cy="317.6" r="2.6" fill="none" stroke="#6a6a6a" stroke-width="0.7"/>
<circle cx="617.7" cy="316.4" r="2.6" fill="none" stroke="#6a6a6a" stroke-width="0.7"/>
<circle cx="621.6" cy="312.2" r="2.6" fill="none" stroke="#6a6a6a" stroke-width="0.7"/>
<circle cx="625.5" cy="312.9" r="2.6" fill="none" stroke="#6a6a6a" stroke-width="0.7"/>
<circle cx="629.2" cy="310.4" r="2.6" fill="none" stroke="#6a6a6a" stroke-width="0.7"/>
<circle cx="633.1" cy="312.2" r="2.6" fill="none" stroke="#6a6a6a" stroke-width="0.7"/>
<circle cx="636.9" cy="313.9" r="2.6" fill="none" stroke="#6a6a6a" stroke-width="0.7"/>
<circle cx="640.7" cy="311.8" r="2.6" fill="none" stroke="#6a6a6a" stroke-width="0.7"/>
<circle cx="644.6" cy="311.4" r="2.6" fill="none" stroke="#6a6a6a" stroke-width="0.7"/>
<circle cx="648.8" cy="308.3" r="2.6" fill="none" stroke="#6a6a6a" stroke-width="0.7"/>
<circle cx="652.7" cy="304.2" r="2.6" fill="none" stroke="#6a6a6a" stroke-width="0.7"/>
<circle cx="656.6" cy="304.2" r="2.6" fill="none" stroke="#6a6a6a" stroke-width="0.7"/>
<circle cx="660.4" cy="306.7" r="2.6" fill="none" stroke="#6a6a6a" stroke-width="0.7"/>
<circle cx="664.3" cy="302.5" r="2.6" fill="none" stroke="#6a6a6a" stroke-width="0.7"/>
<circle cx="668.5" cy="302.5" r="2.6" fill="none" stroke="#6a6a6a" stroke-width="0.7"/>
<path d="M395.30 266.90L395.98 268.67L397.87 268.77L396.39 269.96L396.89 271.78L395.30 270.75L393.71 271.78L394.21 269.96L392.73 268.77L394.62 268.67ZM409.00 277.70L409.68 279.47L411.57 279.57L410.09 280.76L410.59 282.58L409.00 281.55L407.41 282.58L407.91 280.76L406.43 279.57L408.32 279.47ZM418.70 287.40L419.38 289.17L421.27 289.27L419.79 290.46L420.29 292.28L418.70 291.25L417.11 292.28L417.61 290.46L416.13 289.27L418.02 289.17ZM457.50 362.20L458.18 363.97L460.07 364.07L458.59 365.26L459.09 367.08L457.50 366.05L455.91 367.08L456.41 365.26L454.93 364.07L456.82 363.97ZM496.60 380.40L497.28 382.17L499.17 382.27L497.69 383.46L498.19 385.28L496.60 384.25L495.01 385.28L495.51 383.46L494.03 382.27L495.92 382.17ZM535.40 384.80L536.08 386.57L537.97 386.67L536.49 387.86L536.99 389.68L535.40 388.65L533.81 389.68L534.31 387.86L532.83 386.67L534.72 386.57ZM574.60 413.50L575.28 415.27L577.17 415.37L575.69 416.56L576.19 418.38L574.60 417.35L573.01 418.38L573.51 416.56L572.03 415.37L573.92 415.27ZM590.10 415.90L590.78 417.67L592.67 417.77L591.19 418.96L591.69 420.78L590.10 419.75L588.51 420.78L589.01 418.96L587.53 417.77L589.42 417.67ZM594.10 413.30L594.78 415.07L596.67 415.17L595.19 416.36L595.69 418.18L594.10 417.15L592.51 418.18L593.01 416.36L591.53 415.17L593.42 415.07ZM597.80 414.50L598.48 416.27L600.37 416.37L598.89 417.56L599.39 419.38L597.80 418.35L596.21 419.38L596.71 417.56L595.23 416.37L597.12 416.27ZM601.50 416.60L602.18 418.37L604.07 418.47L602.59 419.66L603.09 421.48L601.50 420.45L599.91 421.48L600.41 419.66L598.93 418.47L600.82 418.37ZM605.00 417.90L605.68 419.67L607.57 419.77L606.09 420.96L606.59 422.78L605.00 421.75L603.41 422.78L603.91 420.96L602.43 419.77L604.32 419.67ZM609.50 420.40L610.18 422.17L612.07 422.27L610.59 423.46L611.09 425.28L609.50 424.25L607.91 425.28L608.41 423.46L606.93 422.27L608.82 422.17ZM613.40 418.80L614.08 420.57L615.97 420.67L614.49 421.86L614.99 423.68L613.40 422.65L611.81 423.68L612.31 421.86L610.83 420.67L612.72 420.57ZM617.30 420.40L617.98 422.17L619.87 422.27L618.39 423.46L618.89 425.28L617.30 424.25L615.71 425.28L616.21 423.46L614.73 422.27L616.62 422.17ZM621.30 424.40L621.98 426.17L623.87 426.27L622.39 427.46L622.89 429.28L621.30 428.25L619.71 429.28L620.21 427.46L618.73 426.27L620.62 426.17ZM625.30 424.40L625.98 426.17L627.87 426.27L626.39 427.46L626.89 429.28L625.30 428.25L623.71 429.28L624.21 427.46L622.73 426.27L624.62 426.17ZM629.20 425.90L629.88 427.67L631.77 427.77L630.29 428.96L630.79 430.78L629.20 429.75L627.61 430.78L628.11 428.96L626.63 427.77L628.52 427.67ZM633.10 424.80L633.78 426.57L635.67 426.67L634.19 427.86L634.69 429.68L633.10 428.65L631.51 429.68L632.01 427.86L630.53 426.67L632.42 426.57ZM636.90 422.70L637.58 424.47L639.47 424.57L637.99 425.76L638.49 427.58L636.90 426.55L635.31 427.58L635.81 425.76L634.33 424.57L636.22 424.47ZM640.70 424.50L641.38 426.27L643.27 426.37L641.79 427.56L642.29 429.38L640.70 428.35L639.11 429.38L639.61 427.56L638.13 426.37L640.02 426.27ZM644.60 425.20L645.28 426.97L647.17 427.07L645.69 428.26L646.19 430.08L644.60 429.05L643.01 430.08L643.51 428.26L642.03 427.07L643.92 426.97ZM648.80 428.00L649.48 429.77L651.37 429.87L649.89 431.06L650.39 432.88L648.80 431.85L647.21 432.88L647.71 431.06L646.23 429.87L648.12 429.77ZM652.70 432.40L653.38 434.17L655.27 434.27L653.79 435.46L654.29 437.28L652.70 436.25L651.11 437.28L651.61 435.46L650.13 434.27L652.02 434.17ZM656.60 432.40L657.28 434.17L659.17 434.27L657.69 435.46L658.19 437.28L656.60 436.25L655.01 437.28L655.51 435.46L654.03 434.27L655.92 434.17ZM660.40 429.60L661.08 431.37L662.97 431.47L661.49 432.66L661.99 434.48L660.40 433.45L658.81 434.48L659.31 432.66L657.83 431.47L659.72 431.37ZM664.30 434.20L664.98 435.97L666.87 436.07L665.39 437.26L665.89 439.08L664.30 438.05L662.71 439.08L663.21 437.26L661.73 436.07L663.62 435.97ZM668.50 434.80L669.18 436.57L671.07 436.67L669.59 437.86L670.09 439.68L668.50 438.65L666.91 439.68L667.41 437.86L665.93 436.67L667.82 436.57Z" fill="none" stroke="#ff4a4a" stroke-width="0.7" stroke-linejoin="miter"/>
<circle cx="497" cy="279.3" r="2.6" fill="none" stroke="#6a6a6a" stroke-width="0.7"/>
<path d="M497.00 292.80L497.68 294.57L499.57 294.67L498.09 295.86L498.59 297.68L497.00 296.65L495.41 297.68L495.91 295.86L494.43 294.67L496.32 294.57Z" fill="none" stroke="#ff4a4a" stroke-width="0.7"/>
<text x="515.3" y="283.7" font-size="13" text-anchor="start" font-weight="normal" fill="#1a1a1a" >Active site</text>
<text x="515.3" y="299.7" font-size="13" text-anchor="start" font-weight="normal" fill="#1a1a1a" >MeOH ads</text>
</svg>
</body></html>
